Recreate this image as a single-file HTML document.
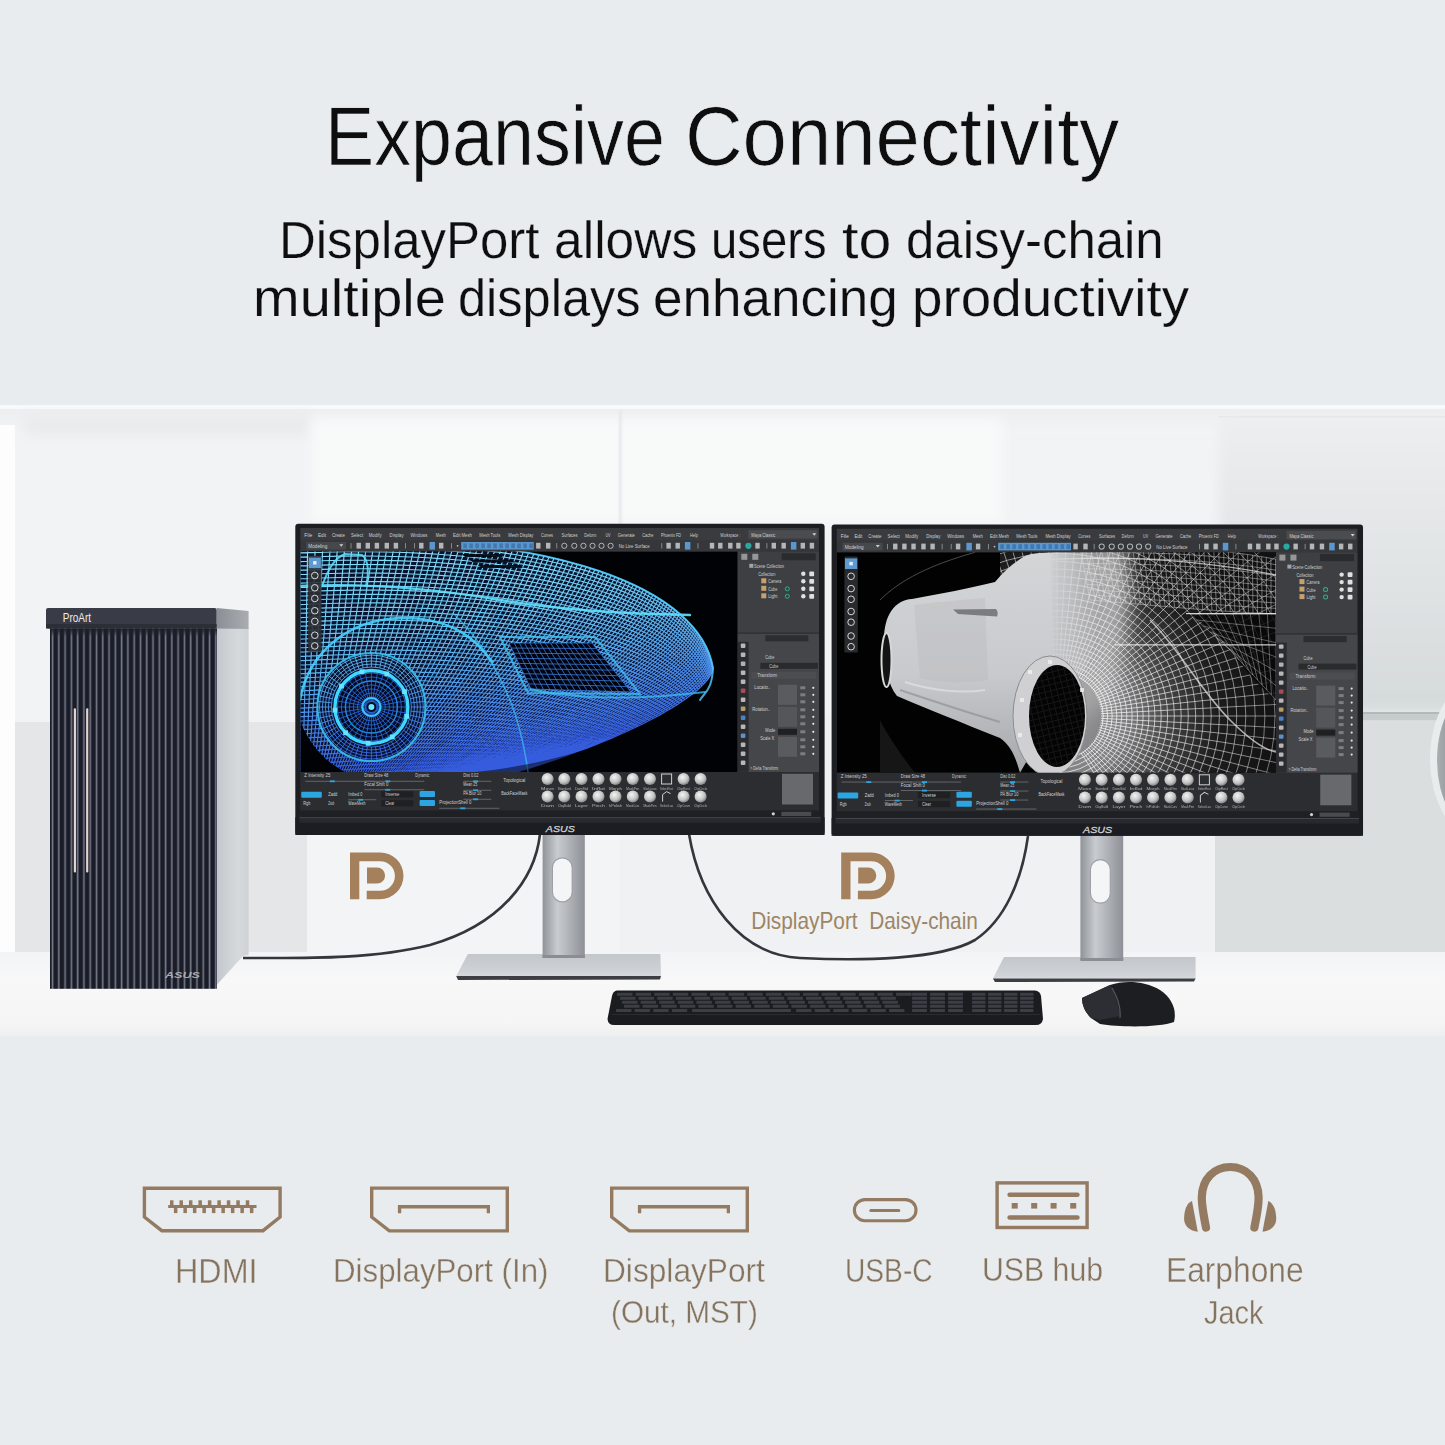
<!DOCTYPE html>
<html><head><meta charset="utf-8">
<style>
html,body{margin:0;padding:0;}
body{width:1445px;height:1445px;background:#e8ecef;position:relative;overflow:hidden;font-family:"Liberation Sans",sans-serif;}
.t{position:absolute;white-space:nowrap;line-height:1;transform-origin:0 0;}
.h{color:#0e0e0f;-webkit-text-stroke:0.25px #e8ecef;paint-order:fill stroke;}
.h1{-webkit-text-stroke:0.7px #e8ecef;}
.lb{color:#85735d;-webkit-text-stroke:0.35px #e8ecef;paint-order:fill stroke;}
.a{position:absolute;}
</style></head><body>

<div class="t h h1" style="left:325.1px;top:93.6px;font-size:84.1px;transform:scaleX(0.876)">Expansive</div>
<div class="t h h1" style="left:684.6px;top:93.6px;font-size:84.1px;transform:scaleX(0.948)">Connectivity</div>
<div class="t h" style="left:279.0px;top:215.3px;font-size:51px;transform:scaleX(0.999)">DisplayPort</div>
<div class="t h" style="left:553.8px;top:215.3px;font-size:51px;transform:scaleX(1.011)">allows</div>
<div class="t h" style="left:711.3px;top:215.3px;font-size:51px;transform:scaleX(0.927)">users</div>
<div class="t h" style="left:841.9px;top:215.3px;font-size:51px;transform:scaleX(1.161)">to</div>
<div class="t h" style="left:906.2px;top:215.3px;font-size:51px;transform:scaleX(0.999)">daisy-chain</div>
<div class="t h" style="left:253.3px;top:272.5px;font-size:51px;transform:scaleX(1.098)">multiple</div>
<div class="t h" style="left:457.8px;top:272.5px;font-size:51px;transform:scaleX(0.991)">displays</div>
<div class="t h" style="left:652.9px;top:272.5px;font-size:51px;transform:scaleX(1.040)">enhancing</div>
<div class="t h" style="left:911.8px;top:272.5px;font-size:51px;transform:scaleX(1.074)">productivity</div>
<svg class="a" style="left:0;top:0" width="1445" height="1445" viewBox="0 0 1445 1445">
<defs>
  <clipPath id="pc"><rect x="0" y="405" width="1445" height="631"/></clipPath>
  <linearGradient id="topband" x1="0" y1="0" x2="0" y2="1">
    <stop offset="0" stop-color="#eceef0"/><stop offset="1" stop-color="#f3f4f5"/>
  </linearGradient>
  <linearGradient id="desk" x1="0" y1="0" x2="0" y2="1">
    <stop offset="0" stop-color="#f3f4f5"/><stop offset="0.35" stop-color="#f8f8f9"/><stop offset="0.85" stop-color="#f5f5f6"/><stop offset="1" stop-color="#eeeff0"/>
  </linearGradient>
  <linearGradient id="neck" x1="0" y1="0" x2="1" y2="0">
    <stop offset="0" stop-color="#8f949a"/><stop offset="0.35" stop-color="#c8cbcf"/><stop offset="0.6" stop-color="#b2b5ba"/><stop offset="1" stop-color="#8d9197"/>
  </linearGradient>
  <linearGradient id="rwall" x1="0" y1="0" x2="0" y2="1">
    <stop offset="0" stop-color="#eceeef"/><stop offset="0.45" stop-color="#e2e5e6"/><stop offset="1" stop-color="#d5dadb"/>
  </linearGradient>
  <linearGradient id="ringin" x1="0" y1="0" x2="1" y2="0">
    <stop offset="0" stop-color="#aab0b1"/><stop offset="0.2" stop-color="#8e9495"/><stop offset="1" stop-color="#6e7475"/>
  </linearGradient>
  <linearGradient id="basetop" x1="0" y1="0" x2="0" y2="1">
    <stop offset="0" stop-color="#c3c7cc"/><stop offset="0.7" stop-color="#cdd0d4"/><stop offset="1" stop-color="#d6d9dc"/>
  </linearGradient>
  <linearGradient id="side" x1="0" y1="0" x2="1" y2="0">
    <stop offset="0" stop-color="#c2c6cb"/><stop offset="0.7" stop-color="#d6d9dc"/><stop offset="1" stop-color="#cfd2d5"/>
  </linearGradient>
  <pattern id="ribs" x="50.2" y="0" width="6.28" height="10" patternUnits="userSpaceOnUse">
    <rect width="6.28" height="10" fill="#1a1c27"/>
    <rect x="1.3" width="2.1" height="10" fill="#4c5060"/>
    <rect x="1.9" width="0.9" height="10" fill="#7a7e8b"/>
  </pattern>
  <linearGradient id="ribshade" x1="0" y1="0" x2="0" y2="1">
    <stop offset="0" stop-color="#1e2029"/><stop offset="1" stop-color="#1e2029" stop-opacity="0"/>
  </linearGradient>
  <linearGradient id="capside" x1="0" y1="0" x2="1" y2="0">
    <stop offset="0" stop-color="#8b8e94"/><stop offset="1" stop-color="#a9acb1"/>
  </linearGradient>
  <pattern id="gA" width="5.2" height="5.2" patternUnits="userSpaceOnUse" patternTransform="rotate(-8)">
    <rect width="5.2" height="1.3" fill="#fff"/><rect width="1.3" height="5.2" fill="#fff"/>
  </pattern>
  <pattern id="gB" width="5" height="5" patternUnits="userSpaceOnUse" patternTransform="rotate(22) skewX(-20)">
    <rect width="5" height="1.3" fill="#fff"/><rect width="1.3" height="5" fill="#fff"/>
  </pattern>
  <pattern id="gC" width="5.5" height="4.5" patternUnits="userSpaceOnUse" patternTransform="rotate(5)">
    <rect width="5.5" height="1" fill="#fff"/><rect width="1" height="4.5" fill="#fff"/>
  </pattern>
  <pattern id="gW" width="4.5" height="4.5" patternUnits="userSpaceOnUse" patternTransform="rotate(30)">
    <rect width="4.5" height="1" fill="#fff"/><rect width="1" height="4.5" fill="#fff"/>
  </pattern>
  <pattern id="gG" width="6" height="6" patternUnits="userSpaceOnUse" patternTransform="rotate(-14)">
    <rect width="6" height="1" fill="#fff"/><rect width="1" height="6" fill="#fff"/>
  </pattern>
  <pattern id="gH" width="4" height="4" patternUnits="userSpaceOnUse" patternTransform="rotate(18)">
    <rect width="4" height="0.8" fill="#fff"/><rect width="0.8" height="4" fill="#fff"/>
  </pattern>
  <mask id="meshG"><rect x="830" y="540" width="460" height="240" fill="url(#gG)"/></mask>
  <mask id="meshH"><rect x="830" y="540" width="460" height="240" fill="url(#gH)"/></mask>
  <radialGradient id="wirerad" cx="1057" cy="716" r="230" gradientUnits="userSpaceOnUse">
    <stop offset="0" stop-color="#9a9a9c"/><stop offset="0.3" stop-color="#7d7d7f"/><stop offset="0.5" stop-color="#404041"/><stop offset="0.7" stop-color="#1c1c1c"/><stop offset="1" stop-color="#111111"/>
  </radialGradient>
  <linearGradient id="bodyfade" x1="1040" y1="0" x2="1110" y2="0" gradientUnits="userSpaceOnUse">
    <stop offset="0" stop-color="#b4b5b7" stop-opacity="1"/><stop offset="1" stop-color="#a0a0a2" stop-opacity="0"/>
  </linearGradient>
  <clipPath id="wireclip"><path d="M1000 552.3 L1276 552.3 L1276 772.8 L1060 772.8 C 1040 730, 1010 680, 1000 640 Z"/></clipPath>
  <radialGradient id="wirelines" cx="1057" cy="716" r="240" gradientUnits="userSpaceOnUse">
    <stop offset="0" stop-color="#ffffff" stop-opacity="0.9"/><stop offset="0.45" stop-color="#f0f0f0" stop-opacity="0.75"/><stop offset="1" stop-color="#d8d8d8" stop-opacity="0.5"/>
  </radialGradient>
  <linearGradient id="bodyfadeG" x1="1050" y1="0" x2="1100" y2="0" gradientUnits="userSpaceOnUse">
    <stop offset="0" stop-color="#fff"/><stop offset="1" stop-color="#000"/>
  </linearGradient>
  <mask id="bodymask"><rect x="830" y="540" width="460" height="240" fill="url(#bodyfadeG)"/></mask>
  <filter id="blur6" filterUnits="userSpaceOnUse" x="0" y="380" width="1445" height="700"><feGaussianBlur stdDeviation="6"/></filter>
  <filter id="blur1" filterUnits="userSpaceOnUse" x="0" y="380" width="1445" height="700"><feGaussianBlur stdDeviation="1"/></filter>
  <filter id="blur8" filterUnits="userSpaceOnUse" x="0" y="380" width="1445" height="700"><feGaussianBlur stdDeviation="9"/></filter>
  <mask id="meshA"><rect x="290" y="540" width="460" height="240" fill="url(#gA)"/></mask>
  <mask id="meshB"><rect x="290" y="540" width="460" height="240" fill="url(#gB)"/></mask>
  <mask id="meshC"><rect x="290" y="540" width="460" height="240" fill="url(#gC)"/></mask>
  <mask id="meshW"><rect x="290" y="540" width="460" height="240" fill="url(#gW)"/></mask>
  <linearGradient id="bluelines" x1="300" y1="560" x2="330" y2="772" gradientUnits="userSpaceOnUse">
    <stop offset="0" stop-color="#8ceaff"/><stop offset="0.3" stop-color="#78d6fa"/><stop offset="0.6" stop-color="#5cb0f4"/><stop offset="0.85" stop-color="#4680ee"/><stop offset="1" stop-color="#3760e6"/>
  </linearGradient>
  <linearGradient id="cyanlines" x1="0" y1="0" x2="0" y2="1">
    <stop offset="0" stop-color="#5ee0ff"/><stop offset="1" stop-color="#48c8f8"/>
  </linearGradient>
  <linearGradient id="bluebody" x1="0" y1="0" x2="0.3" y2="1">
    <stop offset="0" stop-color="#1b86c8"/><stop offset="0.45" stop-color="#1560c0"/><stop offset="1" stop-color="#0d2c9a"/>
  </linearGradient>
  <pattern id="bluegrid" width="6" height="6" patternUnits="userSpaceOnUse" patternTransform="rotate(8)">
    <rect width="6" height="1" fill="#5bd6ff"/><rect width="1" height="6" fill="#5bd6ff"/>
  </pattern>
  <pattern id="wheelgrid" width="5" height="5" patternUnits="userSpaceOnUse">
    <rect width="5" height="1" fill="#2a7fe0"/><rect width="1" height="5" fill="#2a7fe0"/>
  </pattern>
  <pattern id="whitegrid" width="7" height="7" patternUnits="userSpaceOnUse" patternTransform="rotate(-12)">
    <rect width="7" height="1" fill="#f0f0f0"/><rect width="1" height="7" fill="#f0f0f0"/>
  </pattern>
  <linearGradient id="wiregrad" x1="0" y1="0" x2="1" y2="0">
    <stop offset="0" stop-color="#9a9b9d"/><stop offset="0.4" stop-color="#6a6b6d"/><stop offset="1" stop-color="#3a3b3c"/>
  </linearGradient>
  <linearGradient id="graybody" x1="0" y1="0" x2="0" y2="1">
    <stop offset="0" stop-color="#d4d5d7"/><stop offset="0.55" stop-color="#c9cacd"/><stop offset="1" stop-color="#a6a7aa"/>
  </linearGradient>
  <radialGradient id="sph" cx="0.4" cy="0.35" r="0.7">
    <stop offset="0" stop-color="#f4f4f4"/><stop offset="0.6" stop-color="#c4c4c4"/><stop offset="1" stop-color="#7a7a7a"/>
  </radialGradient>
  <g id="chrome"><rect x="0" y="0" width="529.3" height="311.2" rx="3" fill="#1d1e22"/>
<rect x="5.2" y="4.2" width="518.5" height="292" fill="#2e2f32"/>
<rect x="5.2" y="4.2" width="518.5" height="12" fill="#3a3b3e"/>
<rect x="5.2" y="16.2" width="518.5" height="11.5" fill="#36373a"/>
<rect x="442.3" y="27.7" width="81.4" height="220.5" fill="#3e3f42"/>
<rect x="442.3" y="108.7" width="81.4" height="139.5" fill="#45464a"/>
<rect x="442.3" y="118" width="11" height="130" fill="#2b2c2f"/>
<rect x="5.2" y="248.2" width="518.5" height="38.4" fill="#2c2d30"/>
<rect x="5.2" y="286.6" width="518.5" height="6.9" fill="#1f2023"/>
<rect x="0" y="293.5" width="529.3" height="17.7" fill="#1c1d22"/>
<rect x="4" y="293.5" width="521.3" height="1.2" fill="#4a4b50"/>
<rect x="4" y="294.7" width="521.3" height="4.3" fill="#27292e"/>
<text x="250.5" y="308.4" font-family="Liberation Sans" font-style="italic" font-size="8.4" fill="#d2d3d6" textLength="29" lengthAdjust="spacingAndGlyphs" stroke="#d2d3d6" stroke-width="0.25">ASUS</text>
<text x="9" y="13.6" font-family="Liberation Sans" fill="#cfd0d2" font-size="5.6" textLength="8" lengthAdjust="spacingAndGlyphs">File</text>
<text x="22.7" y="13.6" font-family="Liberation Sans" fill="#cfd0d2" font-size="5.6" textLength="8" lengthAdjust="spacingAndGlyphs">Edit</text>
<text x="36.6" y="13.6" font-family="Liberation Sans" fill="#cfd0d2" font-size="5.6" textLength="13" lengthAdjust="spacingAndGlyphs">Create</text>
<text x="55.8" y="13.6" font-family="Liberation Sans" fill="#cfd0d2" font-size="5.6" textLength="12" lengthAdjust="spacingAndGlyphs">Select</text>
<text x="73.4" y="13.6" font-family="Liberation Sans" fill="#cfd0d2" font-size="5.6" textLength="13" lengthAdjust="spacingAndGlyphs">Modify</text>
<text x="94.3" y="13.6" font-family="Liberation Sans" fill="#cfd0d2" font-size="5.6" textLength="14" lengthAdjust="spacingAndGlyphs">Display</text>
<text x="115.1" y="13.6" font-family="Liberation Sans" fill="#cfd0d2" font-size="5.6" textLength="17" lengthAdjust="spacingAndGlyphs">Windows</text>
<text x="140.5" y="13.6" font-family="Liberation Sans" fill="#cfd0d2" font-size="5.6" textLength="10" lengthAdjust="spacingAndGlyphs">Mesh</text>
<text x="157.7" y="13.6" font-family="Liberation Sans" fill="#cfd0d2" font-size="5.6" textLength="19" lengthAdjust="spacingAndGlyphs">Edit Mesh</text>
<text x="184" y="13.6" font-family="Liberation Sans" fill="#cfd0d2" font-size="5.6" textLength="21" lengthAdjust="spacingAndGlyphs">Mesh Tools</text>
<text x="213" y="13.6" font-family="Liberation Sans" fill="#cfd0d2" font-size="5.6" textLength="25" lengthAdjust="spacingAndGlyphs">Mesh Display</text>
<text x="245.7" y="13.6" font-family="Liberation Sans" fill="#cfd0d2" font-size="5.6" textLength="12" lengthAdjust="spacingAndGlyphs">Curves</text>
<text x="266.3" y="13.6" font-family="Liberation Sans" fill="#cfd0d2" font-size="5.6" textLength="16" lengthAdjust="spacingAndGlyphs">Surfaces</text>
<text x="289" y="13.6" font-family="Liberation Sans" fill="#cfd0d2" font-size="5.6" textLength="12" lengthAdjust="spacingAndGlyphs">Deform</text>
<text x="310.2" y="13.6" font-family="Liberation Sans" fill="#cfd0d2" font-size="5.6" textLength="5" lengthAdjust="spacingAndGlyphs">UV</text>
<text x="322.5" y="13.6" font-family="Liberation Sans" fill="#cfd0d2" font-size="5.6" textLength="17" lengthAdjust="spacingAndGlyphs">Generate</text>
<text x="347" y="13.6" font-family="Liberation Sans" fill="#cfd0d2" font-size="5.6" textLength="11" lengthAdjust="spacingAndGlyphs">Cache</text>
<text x="365.7" y="13.6" font-family="Liberation Sans" fill="#cfd0d2" font-size="5.6" textLength="20" lengthAdjust="spacingAndGlyphs">Phoenix FD</text>
<text x="394.7" y="13.6" font-family="Liberation Sans" fill="#cfd0d2" font-size="5.6" textLength="8" lengthAdjust="spacingAndGlyphs">Help</text>
<text x="425" y="13.6" font-family="Liberation Sans" fill="#cfd0d2" font-size="5.6" textLength="20" lengthAdjust="spacingAndGlyphs">Workspace :</text>
<rect x="453.1" y="6.3" width="69" height="8.4" fill="#4b4c4f"/>
<text x="456" y="13" font-family="Liberation Sans" fill="#cfd0d2" font-size="5.4" textLength="24" lengthAdjust="spacingAndGlyphs">Maya Classic</text>
<path d="M517 9.5 L521 9.5 L519 12 Z" fill="#d0d0d0"/>
<rect x="10.9" y="18.2" width="39.8" height="7.6" fill="#47484b"/>
<text x="13" y="24" font-family="Liberation Sans" fill="#cfd0d2" font-size="5.4" textLength="19" lengthAdjust="spacingAndGlyphs">Modeling</text>
<path d="M44 20.5 L48 20.5 L46 23 Z" fill="#d0d0d0"/>
<rect x="61.199999999999996" y="19" width="4.4" height="5.8" fill="#d4d5d7" opacity="0.8"/>
<rect x="70.3" y="19" width="4.4" height="5.8" fill="#d4d5d7" opacity="0.8"/>
<rect x="79.39999999999999" y="19" width="4.4" height="5.8" fill="#d4d5d7" opacity="0.8"/>
<rect x="89.3" y="19" width="4.4" height="5.8" fill="#d4d5d7" opacity="0.8"/>
<rect x="98.39999999999999" y="19" width="4.4" height="5.8" fill="#d4d5d7" opacity="0.8"/>
<rect x="123.8" y="19" width="4.4" height="5.8" fill="#d4d5d7" opacity="0.8"/>
<rect x="143.70000000000002" y="19" width="4.4" height="5.8" fill="#d4d5d7" opacity="0.8"/>
<rect x="240.8" y="19" width="4.4" height="5.8" fill="#d4d5d7" opacity="0.8"/>
<rect x="250.70000000000002" y="19" width="4.4" height="5.8" fill="#d4d5d7" opacity="0.8"/>
<rect x="371.1" y="19" width="4.4" height="5.8" fill="#d4d5d7" opacity="0.8"/>
<rect x="380.2" y="19" width="4.4" height="5.8" fill="#d4d5d7" opacity="0.8"/>
<rect x="414.5" y="19" width="4.4" height="5.8" fill="#d4d5d7" opacity="0.8"/>
<rect x="422.8" y="19" width="4.4" height="5.8" fill="#d4d5d7" opacity="0.8"/>
<rect x="432.8" y="19" width="4.4" height="5.8" fill="#d4d5d7" opacity="0.8"/>
<rect x="440.90000000000003" y="19" width="4.4" height="5.8" fill="#d4d5d7" opacity="0.8"/>
<rect x="460.0" y="19" width="4.4" height="5.8" fill="#d4d5d7" opacity="0.8"/>
<rect x="476.3" y="19" width="4.4" height="5.8" fill="#d4d5d7" opacity="0.8"/>
<rect x="486.2" y="19" width="4.4" height="5.8" fill="#d4d5d7" opacity="0.8"/>
<rect x="505.3" y="19" width="4.4" height="5.8" fill="#d4d5d7" opacity="0.8"/>
<rect x="514.4" y="19" width="4.4" height="5.8" fill="#d4d5d7" opacity="0.8"/>
<rect x="55.3" y="19.3" width="0.8" height="5.4" fill="#9a9b9d"/>
<rect x="109.7" y="19.3" width="0.8" height="5.4" fill="#9a9b9d"/>
<rect x="118.7" y="19.3" width="0.8" height="5.4" fill="#9a9b9d"/>
<rect x="155.9" y="19.3" width="0.8" height="5.4" fill="#9a9b9d"/>
<rect x="261.1" y="19.3" width="0.8" height="5.4" fill="#9a9b9d"/>
<rect x="366.1" y="19.3" width="0.8" height="5.4" fill="#9a9b9d"/>
<rect x="402.3" y="19.3" width="0.8" height="5.4" fill="#9a9b9d"/>
<rect x="471.2" y="19.3" width="0.8" height="5.4" fill="#9a9b9d"/>
<circle cx="269" cy="22" r="2.6" fill="none" stroke="#d0d1d3" stroke-width="1" opacity="0.8"/>
<circle cx="279" cy="22" r="2.6" fill="none" stroke="#d0d1d3" stroke-width="1" opacity="0.8"/>
<circle cx="288.1" cy="22" r="2.6" fill="none" stroke="#d0d1d3" stroke-width="1" opacity="0.8"/>
<circle cx="297.2" cy="22" r="2.6" fill="none" stroke="#d0d1d3" stroke-width="1" opacity="0.8"/>
<circle cx="306.2" cy="22" r="2.6" fill="none" stroke="#d0d1d3" stroke-width="1" opacity="0.8"/>
<circle cx="315.3" cy="22" r="2.6" fill="none" stroke="#d0d1d3" stroke-width="1" opacity="0.8"/>
<text x="323.4" y="24" font-family="Liberation Sans" fill="#cfd0d2" font-size="4.8" textLength="31" lengthAdjust="spacingAndGlyphs">No Live Surface</text>
<rect x="165.9" y="18.2" width="72.5" height="7.6" fill="#5b97cf"/>
<rect x="168" y="19.6" width="3.6" height="4.8" fill="#2f5f96" opacity="0.55"/>
<rect x="174" y="19.6" width="3.6" height="4.8" fill="#2f5f96" opacity="0.55"/>
<rect x="180" y="19.6" width="3.6" height="4.8" fill="#2f5f96" opacity="0.55"/>
<rect x="186" y="19.6" width="3.6" height="4.8" fill="#2f5f96" opacity="0.55"/>
<rect x="192" y="19.6" width="3.6" height="4.8" fill="#2f5f96" opacity="0.55"/>
<rect x="198" y="19.6" width="3.6" height="4.8" fill="#2f5f96" opacity="0.55"/>
<rect x="204" y="19.6" width="3.6" height="4.8" fill="#2f5f96" opacity="0.55"/>
<rect x="210" y="19.6" width="3.6" height="4.8" fill="#2f5f96" opacity="0.55"/>
<rect x="216" y="19.6" width="3.6" height="4.8" fill="#2f5f96" opacity="0.55"/>
<rect x="222" y="19.6" width="3.6" height="4.8" fill="#2f5f96" opacity="0.55"/>
<rect x="228" y="19.6" width="3.6" height="4.8" fill="#2f5f96" opacity="0.55"/>
<rect x="234" y="19.6" width="3.6" height="4.8" fill="#2f5f96" opacity="0.55"/>
<rect x="134.2" y="18.2" width="5.5" height="7.6" fill="#5b97cf"/>
<rect x="389.6" y="18.2" width="5.5" height="7.6" fill="#5b97cf"/>
<rect x="495.6" y="18.2" width="5.5" height="7.6" fill="#5b97cf"/>
<circle cx="162.3" cy="22" r="0.9" fill="#c0c0c0"/>
<circle cx="453.1" cy="22" r="3.1" fill="#2aa7a0"/>
<rect x="486.4" y="29.5" width="34" height="7" fill="#2a2b2d"/>
<rect x="446" y="30" width="6" height="6" fill="#bdbdbd" opacity="0.7"/>
<rect x="457" y="30" width="6" height="6" fill="#bdbdbd" opacity="0.7"/>
<text x="458.7" y="44" font-family="Liberation Sans" fill="#cfd0d2" font-size="5" textLength="30" lengthAdjust="spacingAndGlyphs">Scene Collection</text>
<text x="463" y="52" font-family="Liberation Sans" fill="#cfd0d2" font-size="5" textLength="17" lengthAdjust="spacingAndGlyphs">Collection</text>
<text x="473" y="59.5" font-family="Liberation Sans" fill="#cfd0d2" font-size="5" textLength="13" lengthAdjust="spacingAndGlyphs">Camera</text>
<text x="473" y="67" font-family="Liberation Sans" fill="#cfd0d2" font-size="5" textLength="9" lengthAdjust="spacingAndGlyphs">Cube</text>
<text x="473" y="74.5" font-family="Liberation Sans" fill="#cfd0d2" font-size="5" textLength="9" lengthAdjust="spacingAndGlyphs">Light</text>
<rect x="466" y="54.5" width="5" height="5" fill="#c8a070"/>
<rect x="466" y="62" width="5" height="5" fill="#c8a070"/>
<rect x="466" y="69.5" width="5" height="5" fill="#c8a070"/>
<circle cx="508" cy="50" r="2.2" fill="#e0e0e0"/>
<rect x="514" y="47.6" width="4.8" height="4.8" rx="1" fill="#e0e0e0"/>
<circle cx="508" cy="57.5" r="2.2" fill="#e0e0e0"/>
<rect x="514" y="55.1" width="4.8" height="4.8" rx="1" fill="#e0e0e0"/>
<circle cx="508" cy="65" r="2.2" fill="#e0e0e0"/>
<rect x="514" y="62.6" width="4.8" height="4.8" rx="1" fill="#e0e0e0"/>
<circle cx="508" cy="72.5" r="2.2" fill="#e0e0e0"/>
<rect x="514" y="70.1" width="4.8" height="4.8" rx="1" fill="#e0e0e0"/>
<rect x="454" y="40" width="4" height="4" fill="#d0d0d0" opacity="0.7"/>
<circle cx="492" cy="65" r="2" fill="none" stroke="#2fb08a" stroke-width="1"/>
<circle cx="492" cy="72.5" r="2" fill="none" stroke="#2fb08a" stroke-width="1"/>
<rect x="442.3" y="108.7" width="81.4" height="1.2" fill="#2a2b2e"/>
<rect x="470" y="111.5" width="43" height="6" fill="#2c2d30"/>
<rect x="465" y="139" width="57.7" height="6" fill="#2a2b2d"/>
<text x="470" y="135" font-family="Liberation Sans" fill="#cfd0d2" font-size="5" textLength="9" lengthAdjust="spacingAndGlyphs">Cube</text>
<text x="474" y="144" font-family="Liberation Sans" fill="#cfd0d2" font-size="5" textLength="9" lengthAdjust="spacingAndGlyphs">Cube</text>
<rect x="456" y="148" width="65" height="7" fill="#4c4d51"/>
<text x="462" y="153.5" font-family="Liberation Sans" fill="#cfd0d2" font-size="5" textLength="20" lengthAdjust="spacingAndGlyphs">Transform</text>
<rect x="482.7" y="161" width="19" height="20" fill="#5a5b5f"/>
<rect x="482.7" y="183" width="19" height="20" fill="#55565a"/>
<rect x="482.7" y="205" width="19" height="6" fill="#1f2022"/>
<rect x="482.7" y="213" width="19" height="20" fill="#5a5b5f"/>
<circle cx="518" cy="164" r="1.1" fill="#e6e6e6"/>
<rect x="505" y="162.5" width="5" height="3" fill="#8a8b8e" opacity="0.8"/>
<circle cx="518" cy="171" r="1.1" fill="#e6e6e6"/>
<rect x="505" y="169.5" width="5" height="3" fill="#8a8b8e" opacity="0.8"/>
<circle cx="518" cy="178" r="1.1" fill="#e6e6e6"/>
<rect x="505" y="176.5" width="5" height="3" fill="#8a8b8e" opacity="0.8"/>
<circle cx="518" cy="186" r="1.1" fill="#e6e6e6"/>
<rect x="505" y="184.5" width="5" height="3" fill="#8a8b8e" opacity="0.8"/>
<circle cx="518" cy="193" r="1.1" fill="#e6e6e6"/>
<rect x="505" y="191.5" width="5" height="3" fill="#8a8b8e" opacity="0.8"/>
<circle cx="518" cy="200" r="1.1" fill="#e6e6e6"/>
<rect x="505" y="198.5" width="5" height="3" fill="#8a8b8e" opacity="0.8"/>
<circle cx="518" cy="208" r="1.1" fill="#e6e6e6"/>
<rect x="505" y="206.5" width="5" height="3" fill="#8a8b8e" opacity="0.8"/>
<circle cx="518" cy="216" r="1.1" fill="#e6e6e6"/>
<rect x="505" y="214.5" width="5" height="3" fill="#8a8b8e" opacity="0.8"/>
<circle cx="518" cy="223" r="1.1" fill="#e6e6e6"/>
<rect x="505" y="221.5" width="5" height="3" fill="#8a8b8e" opacity="0.8"/>
<circle cx="518" cy="230" r="1.1" fill="#e6e6e6"/>
<rect x="505" y="228.5" width="5" height="3" fill="#8a8b8e" opacity="0.8"/>
<text x="459" y="165" font-family="Liberation Sans" fill="#cfd0d2" font-size="4.6" textLength="16" lengthAdjust="spacingAndGlyphs">Locatio..</text>
<text x="457" y="187" font-family="Liberation Sans" fill="#cfd0d2" font-size="4.6" textLength="18" lengthAdjust="spacingAndGlyphs">Rotation..</text>
<text x="470" y="208.5" font-family="Liberation Sans" fill="#cfd0d2" font-size="4.6" textLength="10" lengthAdjust="spacingAndGlyphs">Mode</text>
<text x="465" y="216.5" font-family="Liberation Sans" fill="#cfd0d2" font-size="4.6" textLength="14" lengthAdjust="spacingAndGlyphs">Scale X</text>
<text x="455" y="246" font-family="Liberation Sans" fill="#cfd0d2" font-size="4.6" textLength="28" lengthAdjust="spacingAndGlyphs">&gt; Delta Transform</text>
<rect x="445.5" y="119.8" width="4.6" height="4.4" rx="1" fill="#d0d0d0" opacity="0.85"/>
<rect x="445.5" y="128.8" width="4.6" height="4.4" rx="1" fill="#d0d0d0" opacity="0.85"/>
<rect x="445.5" y="137.8" width="4.6" height="4.4" rx="1" fill="#c9c9c9" opacity="0.85"/>
<rect x="445.5" y="146.8" width="4.6" height="4.4" rx="1" fill="#d0d0d0" opacity="0.85"/>
<rect x="445.5" y="155.8" width="4.6" height="4.4" rx="1" fill="#d0d0d0" opacity="0.85"/>
<rect x="445.5" y="164.8" width="4.6" height="4.4" rx="1" fill="#c05060" opacity="0.85"/>
<rect x="445.5" y="173.8" width="4.6" height="4.4" rx="1" fill="#d0d0d0" opacity="0.85"/>
<rect x="445.5" y="182.8" width="4.6" height="4.4" rx="1" fill="#d0b070" opacity="0.85"/>
<rect x="445.5" y="191.8" width="4.6" height="4.4" rx="1" fill="#5090e0" opacity="0.85"/>
<rect x="445.5" y="200.8" width="4.6" height="4.4" rx="1" fill="#d0d0d0" opacity="0.85"/>
<rect x="445.5" y="209.8" width="4.6" height="4.4" rx="1" fill="#6aa0e0" opacity="0.85"/>
<rect x="445.5" y="218.8" width="4.6" height="4.4" rx="1" fill="#d0d0d0" opacity="0.85"/>
<rect x="445.5" y="227.8" width="4.6" height="4.4" rx="1" fill="#d0d0d0" opacity="0.85"/>
<rect x="445.5" y="236.8" width="4.6" height="4.4" rx="1" fill="#d0d0d0" opacity="0.85"/>
<rect x="486.7" y="250" width="31" height="30.7" fill="#68696c"/>
<circle cx="252.3" cy="255.2" r="6" fill="url(#sph)"/>
<text x="252.3" y="265.8" font-family="Liberation Sans" fill="#cfd0d2" font-size="3.6" text-anchor="middle" textLength="13" lengthAdjust="spacingAndGlyphs" opacity="0.8">Move</text>
<circle cx="269" cy="255.2" r="6" fill="url(#sph)"/>
<text x="269" y="265.8" font-family="Liberation Sans" fill="#cfd0d2" font-size="3.6" text-anchor="middle" textLength="13" lengthAdjust="spacingAndGlyphs" opacity="0.8">Standard</text>
<circle cx="286.2" cy="255.2" r="6" fill="url(#sph)"/>
<text x="286.2" y="265.8" font-family="Liberation Sans" fill="#cfd0d2" font-size="3.6" text-anchor="middle" textLength="13" lengthAdjust="spacingAndGlyphs" opacity="0.8">DamStd</text>
<circle cx="303.2" cy="255.2" r="6" fill="url(#sph)"/>
<text x="303.2" y="265.8" font-family="Liberation Sans" fill="#cfd0d2" font-size="3.6" text-anchor="middle" textLength="13" lengthAdjust="spacingAndGlyphs" opacity="0.8">Inflat</text>
<circle cx="320.2" cy="255.2" r="6" fill="url(#sph)"/>
<text x="320.2" y="265.8" font-family="Liberation Sans" fill="#cfd0d2" font-size="3.6" text-anchor="middle" textLength="13" lengthAdjust="spacingAndGlyphs" opacity="0.8">Morph</text>
<circle cx="337.5" cy="255.2" r="6" fill="url(#sph)"/>
<text x="337.5" y="265.8" font-family="Liberation Sans" fill="#cfd0d2" font-size="3.6" text-anchor="middle" textLength="13" lengthAdjust="spacingAndGlyphs" opacity="0.8">MaskPen</text>
<circle cx="354.7" cy="255.2" r="6" fill="url(#sph)"/>
<text x="354.7" y="265.8" font-family="Liberation Sans" fill="#cfd0d2" font-size="3.6" text-anchor="middle" textLength="13" lengthAdjust="spacingAndGlyphs" opacity="0.8">MaskLasso</text>
<rect x="366.3" y="250.2" width="10" height="10" fill="none" stroke="#cfcfcf" stroke-width="1"/>
<text x="371.3" y="265.8" font-family="Liberation Sans" fill="#cfd0d2" font-size="3.6" text-anchor="middle" textLength="13" lengthAdjust="spacingAndGlyphs" opacity="0.8">SelectRect</text>
<circle cx="388.3" cy="255.2" r="6" fill="url(#sph)"/>
<text x="388.3" y="265.8" font-family="Liberation Sans" fill="#cfd0d2" font-size="3.6" text-anchor="middle" textLength="13" lengthAdjust="spacingAndGlyphs" opacity="0.8">ClipRect</text>
<circle cx="405.3" cy="255.2" r="6" fill="url(#sph)"/>
<text x="405.3" y="265.8" font-family="Liberation Sans" fill="#cfd0d2" font-size="3.6" text-anchor="middle" textLength="13" lengthAdjust="spacingAndGlyphs" opacity="0.8">ClipCircle</text>
<circle cx="252.3" cy="272.8" r="6" fill="url(#sph)"/>
<text x="252.3" y="283.40000000000003" font-family="Liberation Sans" fill="#cfd0d2" font-size="3.6" text-anchor="middle" textLength="13" lengthAdjust="spacingAndGlyphs" opacity="0.8">Dam</text>
<circle cx="269" cy="272.8" r="6" fill="url(#sph)"/>
<text x="269" y="283.40000000000003" font-family="Liberation Sans" fill="#cfd0d2" font-size="3.6" text-anchor="middle" textLength="13" lengthAdjust="spacingAndGlyphs" opacity="0.8">ClayBuild</text>
<circle cx="286.2" cy="272.8" r="6" fill="url(#sph)"/>
<text x="286.2" y="283.40000000000003" font-family="Liberation Sans" fill="#cfd0d2" font-size="3.6" text-anchor="middle" textLength="13" lengthAdjust="spacingAndGlyphs" opacity="0.8">Layer</text>
<circle cx="303.2" cy="272.8" r="6" fill="url(#sph)"/>
<text x="303.2" y="283.40000000000003" font-family="Liberation Sans" fill="#cfd0d2" font-size="3.6" text-anchor="middle" textLength="13" lengthAdjust="spacingAndGlyphs" opacity="0.8">Pinch</text>
<circle cx="320.2" cy="272.8" r="6" fill="url(#sph)"/>
<text x="320.2" y="283.40000000000003" font-family="Liberation Sans" fill="#cfd0d2" font-size="3.6" text-anchor="middle" textLength="13" lengthAdjust="spacingAndGlyphs" opacity="0.8">hPolish</text>
<circle cx="337.5" cy="272.8" r="6" fill="url(#sph)"/>
<text x="337.5" y="283.40000000000003" font-family="Liberation Sans" fill="#cfd0d2" font-size="3.6" text-anchor="middle" textLength="13" lengthAdjust="spacingAndGlyphs" opacity="0.8">MaskCurv</text>
<circle cx="354.7" cy="272.8" r="6" fill="url(#sph)"/>
<text x="354.7" y="283.40000000000003" font-family="Liberation Sans" fill="#cfd0d2" font-size="3.6" text-anchor="middle" textLength="13" lengthAdjust="spacingAndGlyphs" opacity="0.8">MaskPen</text>
<path d="M367.3 277.8 V270.8 L371.3 267.8 L375.3 269.8" fill="none" stroke="#cfcfcf" stroke-width="1"/>
<text x="371.3" y="283.40000000000003" font-family="Liberation Sans" fill="#cfd0d2" font-size="3.6" text-anchor="middle" textLength="13" lengthAdjust="spacingAndGlyphs" opacity="0.8">SelectLas</text>
<circle cx="388.3" cy="272.8" r="6" fill="url(#sph)"/>
<text x="388.3" y="283.40000000000003" font-family="Liberation Sans" fill="#cfd0d2" font-size="3.6" text-anchor="middle" textLength="13" lengthAdjust="spacingAndGlyphs" opacity="0.8">ClipCurve</text>
<circle cx="405.3" cy="272.8" r="6" fill="url(#sph)"/>
<text x="405.3" y="283.40000000000003" font-family="Liberation Sans" fill="#cfd0d2" font-size="3.6" text-anchor="middle" textLength="13" lengthAdjust="spacingAndGlyphs" opacity="0.8">ClipCircle</text>
<rect x="6" y="268" width="20.5" height="6" rx="1" fill="#2ba6e2"/>
<rect x="124.3" y="267.2" width="15.4" height="6" rx="1" fill="#2ba6e2"/>
<rect x="124.3" y="276.2" width="15.4" height="6" rx="1" fill="#2ba6e2"/>
<rect x="86" y="267.5" width="32" height="6" fill="#1f2022"/>
<rect x="86" y="276.5" width="32" height="6" fill="#1f2022"/>
<text x="9" y="253.5" font-family="Liberation Sans" fill="#cfd0d2" font-size="4.6" textLength="26" lengthAdjust="spacingAndGlyphs">Z Intensity 25</text>
<text x="69" y="253.5" font-family="Liberation Sans" fill="#cfd0d2" font-size="4.6" textLength="24" lengthAdjust="spacingAndGlyphs">Draw Size 48</text>
<text x="120" y="253" font-family="Liberation Sans" fill="#cfd0d2" font-size="4.6" textLength="14" lengthAdjust="spacingAndGlyphs">Dynamic</text>
<text x="69" y="262" font-family="Liberation Sans" fill="#cfd0d2" font-size="4.6" textLength="24" lengthAdjust="spacingAndGlyphs">Focal Shift 0</text>
<text x="33" y="272.5" font-family="Liberation Sans" fill="#cfd0d2" font-size="4.6" textLength="9" lengthAdjust="spacingAndGlyphs">Zadd</text>
<text x="33" y="281" font-family="Liberation Sans" fill="#cfd0d2" font-size="4.6" textLength="6" lengthAdjust="spacingAndGlyphs">Zsub</text>
<text x="8" y="281" font-family="Liberation Sans" fill="#cfd0d2" font-size="4.6" textLength="7" lengthAdjust="spacingAndGlyphs">Rgb</text>
<text x="53" y="272" font-family="Liberation Sans" fill="#cfd0d2" font-size="4.6" textLength="14" lengthAdjust="spacingAndGlyphs">Imbed 0</text>
<text x="53" y="281" font-family="Liberation Sans" fill="#cfd0d2" font-size="4.6" textLength="17" lengthAdjust="spacingAndGlyphs">WaveMesh</text>
<text x="90" y="272.5" font-family="Liberation Sans" fill="#cfd0d2" font-size="4.6" textLength="14" lengthAdjust="spacingAndGlyphs">Inverse</text>
<text x="90" y="281" font-family="Liberation Sans" fill="#cfd0d2" font-size="4.6" textLength="9" lengthAdjust="spacingAndGlyphs">Clear</text>
<text x="168" y="253.5" font-family="Liberation Sans" fill="#cfd0d2" font-size="4.6" textLength="15" lengthAdjust="spacingAndGlyphs">Dist 0.02</text>
<text x="168" y="262" font-family="Liberation Sans" fill="#cfd0d2" font-size="4.6" textLength="14" lengthAdjust="spacingAndGlyphs">Mean 25</text>
<text x="168" y="271.5" font-family="Liberation Sans" fill="#cfd0d2" font-size="4.6" textLength="18" lengthAdjust="spacingAndGlyphs">PA Blur 10</text>
<text x="144" y="280.5" font-family="Liberation Sans" fill="#cfd0d2" font-size="4.6" textLength="32" lengthAdjust="spacingAndGlyphs">ProjectionShell 0</text>
<text x="208" y="258" font-family="Liberation Sans" fill="#cfd0d2" font-size="4.6" textLength="22" lengthAdjust="spacingAndGlyphs">Topological</text>
<text x="206" y="271.5" font-family="Liberation Sans" fill="#cfd0d2" font-size="4.6" textLength="26" lengthAdjust="spacingAndGlyphs">BackFaceMask</text>
<rect x="10" y="257" width="70" height="0.9" fill="#6a6b6e"/>
<rect x="34.5" y="256.6" width="5" height="1.8" fill="#2ba6e2"/>
<rect x="69" y="257" width="60" height="0.9" fill="#6a6b6e"/>
<rect x="90.0" y="256.6" width="5" height="1.8" fill="#2ba6e2"/>
<rect x="69" y="265.5" width="60" height="0.9" fill="#6a6b6e"/>
<rect x="90.0" y="265.1" width="5" height="1.8" fill="#2ba6e2"/>
<rect x="53" y="275.5" width="28" height="0.9" fill="#6a6b6e"/>
<rect x="62.8" y="275.1" width="5" height="1.8" fill="#2ba6e2"/>
<rect x="168" y="257" width="28" height="0.9" fill="#6a6b6e"/>
<rect x="177.8" y="256.6" width="5" height="1.8" fill="#2ba6e2"/>
<rect x="168" y="266" width="28" height="0.9" fill="#6a6b6e"/>
<rect x="177.8" y="265.6" width="5" height="1.8" fill="#2ba6e2"/>
<rect x="168" y="275" width="28" height="0.9" fill="#6a6b6e"/>
<rect x="177.8" y="274.6" width="5" height="1.8" fill="#2ba6e2"/>
<rect x="144" y="284" width="60" height="0.9" fill="#6a6b6e"/>
<rect x="165.0" y="283.6" width="5" height="1.8" fill="#2ba6e2"/>
<rect x="486" y="288" width="30" height="4.2" fill="#4a4b4e"/>
<circle cx="478" cy="290" r="1.6" fill="#d0d0d0"/></g>
  <g id="tools"><rect x="12.8" y="32" width="13.4" height="96" rx="1" fill="#2e2f33" opacity="0.9"/>
<rect x="13.4" y="33.8" width="12.2" height="10.6" fill="#5e9ad2"/>
<rect x="17.8" y="37.3" width="3.4" height="3.4" fill="#e8f0ff"/>
<circle cx="19.5" cy="51.7" r="3.3" fill="none" stroke="#d8d8d8" stroke-width="1"/>
<circle cx="19.5" cy="64" r="3.3" fill="none" stroke="#d8d8d8" stroke-width="1"/>
<circle cx="19.5" cy="74.7" r="3.3" fill="none" stroke="#d8d8d8" stroke-width="1"/>
<circle cx="19.5" cy="86.9" r="3.3" fill="none" stroke="#d8d8d8" stroke-width="1"/>
<circle cx="19.5" cy="97.6" r="3.3" fill="none" stroke="#d8d8d8" stroke-width="1"/>
<circle cx="19.5" cy="111.4" r="3.3" fill="none" stroke="#d8d8d8" stroke-width="1"/>
<circle cx="19.5" cy="122.1" r="3.3" fill="none" stroke="#d8d8d8" stroke-width="1"/></g>
</defs>
<g clip-path="url(#pc)">

  <rect x="0" y="405" width="1445" height="631" fill="#f2f3f4"/>
  <rect x="0" y="405" width="1445" height="4" fill="#f8f9fa"/>
  <rect x="0" y="409" width="1445" height="26" fill="url(#topband)"/>
  <rect x="0" y="425" width="15" height="611" fill="#fdfdfd"/>
  <rect x="24" y="414" width="286" height="22" fill="#eaebed" filter="url(#blur6)"/>
  <rect x="312" y="418" width="690" height="105" fill="#f8f9f9" filter="url(#blur6)"/>
  <rect x="619" y="410" width="2.5" height="120" fill="#e4e6e8" filter="url(#blur1)"/>
  <rect x="1219" y="416" width="226" height="1.5" fill="#e2e4e6"/>
  <rect x="15" y="722" width="292" height="232" fill="#e4e6e8"/>
  <rect x="307" y="715" width="313" height="240" fill="#f3f4f5"/>
  <rect x="620" y="715" width="595" height="240" fill="#f0f1f2"/>
  <rect x="1215" y="713" width="230" height="242" fill="#dadedf"/>
  <rect x="0" y="952" width="1445" height="84" fill="url(#desk)"/>
  <rect x="1219" y="418" width="240" height="295" fill="url(#rwall)" filter="url(#blur6)"/>
  <rect x="1363" y="712" width="82" height="2.2" fill="#b3b8b9"/>
  <rect x="1363" y="714.2" width="82" height="6" fill="#c6cbcc"/>
  <ellipse cx="1476" cy="759" rx="46" ry="77" fill="#e8ecec"/>
  <ellipse cx="1479" cy="760" rx="42" ry="72" fill="url(#ringin)"/>


  <polygon points="216.6,628 248.6,628 248.6,955 243,956 214,988 216.6,988" fill="url(#side)"/>
  <polygon points="216.6,608 248.6,611 248.6,629 216.6,628.5" fill="url(#capside)"/>
  <rect x="46" y="608" width="170.6" height="20.5" rx="2" fill="#393c46"/>
  <rect x="46" y="624" width="170.6" height="4.5" fill="#2c2f38"/>
  <rect x="50" y="628.5" width="167" height="360.3" fill="url(#ribs)"/>
  <rect x="50" y="628.5" width="167" height="8" fill="url(#ribshade)"/>
  <rect x="73.8" y="708.2" width="2.2" height="164.2" rx="1" fill="#e3d3ce"/>
  <rect x="86.1" y="708.2" width="2.2" height="164.2" rx="1" fill="#e3d3ce"/>
  <text x="62.8" y="622.4" font-family="Liberation Sans" font-size="12.5" fill="#f1e9e2" textLength="28.2" lengthAdjust="spacingAndGlyphs">ProArt</text>
  <text x="165" y="978" font-family="Liberation Sans" font-weight="bold" font-size="9" font-style="italic" fill="#a9acb2" textLength="35" lengthAdjust="spacingAndGlyphs">ASUS</text>


  <path d="M540 834 C 535 880, 500 925, 430 945 C 370 960, 300 958, 243 958" fill="none" stroke="#34363b" stroke-width="2.6"/>
  <path d="M689 834 C 700 900, 740 955, 800 958 C 860 961, 940 960, 975 940 C 1005 920, 1022 880, 1028 836" fill="none" stroke="#34363b" stroke-width="2.6"/>


  <polygon points="467.9,954 660.4,954 661,976 456.2,976" fill="url(#basetop)"/>
  <polygon points="456.2,976 661,976 660,979.5 458,980" fill="#3c3e43"/>
  <rect x="542.6" y="830" width="42.2" height="128" fill="url(#neck)"/>
  <rect x="542.6" y="955" width="42.2" height="3" fill="#8a8e94"/>
  <rect x="552.4" y="857.8" width="19.8" height="44.1" rx="9.9" fill="#f4f5f6" stroke="#9da1a7" stroke-width="1.2"/>
  <polygon points="1004,957 1195.6,957 1195.6,978.5 992.9,978.5" fill="url(#basetop)"/>
  <polygon points="992.9,978.5 1195.6,978.5 1194,981.5 995,982" fill="#3c3e43"/>
  <rect x="1080.4" y="830" width="42.8" height="130" fill="url(#neck)"/>
  <rect x="1080.4" y="958" width="42.8" height="3" fill="#8a8e94"/>
  <rect x="1090.4" y="859.7" width="19.9" height="43.5" rx="9.9" fill="#f4f5f6" stroke="#9da1a7" stroke-width="1.2"/>

<g transform="translate(295.3,523.8)"><use href="#chrome"/></g>
<g transform="translate(831.6,524.6) scale(1.004,1.0)"><use href="#chrome"/></g>
<clipPath id="vp1"><rect x="300.5" y="551.5" width="437.1" height="220.5"/></clipPath>
<clipPath id="vp2"><rect x="837" y="552.3" width="439" height="220.5"/></clipPath>
<g clip-path="url(#vp1)"><rect x="300.5" y="551.5" width="437.1" height="220.5" fill="#010205"/>
<path d="M300 540 C 560 530, 700 590, 713 668 C 712 690, 640 735, 517 772 L 300 790 Z" fill="#061330"/>
<path d="M300.0 540.0 L300.0 547.4 L300.0 554.7 L300.0 562.1 L300.0 569.4 L300.0 576.8 L300.0 584.1 L300.0 591.5 L300.0 598.8 L300.0 606.2 L300.0 613.5 L300.0 620.9 L300.0 628.2 L300.0 635.6 L300.0 642.9 L300.0 650.3 L300.0 657.6 L300.0 665.0 L300.0 672.4 L300.0 679.7 L300.0 687.1 L300.0 694.4 L300.0 701.8 L300.0 709.1 L300.0 716.5 L300.0 723.8 L300.0 731.2 L300.0 738.5 L300.0 745.9 L300.0 753.2 L300.0 760.6 L300.0 767.9 L300.0 775.3 L300.0 782.6 L300.0 790.0 M307.8 539.7 L307.7 547.1 L307.5 554.4 L307.4 561.8 L307.3 569.1 L307.2 576.5 L307.1 583.8 L306.9 591.2 L306.8 598.5 L306.6 605.9 L306.5 613.2 L306.4 620.6 L306.2 627.9 L306.1 635.3 L305.9 642.6 L305.8 650.0 L305.6 657.4 L305.4 664.7 L305.3 672.1 L305.1 679.4 L304.9 686.8 L304.7 694.1 L304.6 701.5 L304.4 708.9 L304.2 716.2 L304.0 723.6 L303.8 730.9 L303.6 738.3 L303.4 745.7 L303.2 753.0 L303.0 760.4 L302.8 767.7 L302.6 775.1 L302.4 782.5 L302.2 789.8 M315.5 539.5 L315.2 546.8 L315.0 554.2 L314.8 561.5 L314.5 568.8 L314.3 576.2 L314.0 583.5 L313.8 590.9 L313.5 598.2 L313.2 605.6 L313.0 612.9 L312.7 620.3 L312.4 627.7 L312.1 635.0 L311.8 642.4 L311.5 649.7 L311.1 657.1 L310.8 664.4 L310.5 671.8 L310.1 679.2 L309.8 686.5 L309.4 693.9 L309.1 701.3 L308.7 708.6 L308.4 716.0 L308.0 723.4 L307.6 730.7 L307.2 738.1 L306.8 745.5 L306.4 752.8 L306.0 760.2 L305.6 767.6 L305.2 774.9 L304.8 782.3 L304.3 789.6 M323.1 539.3 L322.8 546.6 L322.4 553.9 L322.1 561.3 L321.7 568.6 L321.4 576.0 L321.0 583.3 L320.6 590.6 L320.2 598.0 L319.8 605.3 L319.4 612.7 L318.9 620.0 L318.5 627.4 L318.1 634.8 L317.6 642.1 L317.1 649.5 L316.7 656.8 L316.2 664.2 L315.7 671.6 L315.2 678.9 L314.6 686.3 L314.1 693.7 L313.6 701.0 L313.0 708.4 L312.5 715.8 L311.9 723.1 L311.4 730.5 L310.8 737.9 L310.2 745.3 L309.6 752.6 L309.0 760.0 L308.4 767.4 L307.8 774.7 L307.1 782.1 L306.5 789.5 M330.6 539.1 L330.2 546.4 L329.8 553.8 L329.3 561.1 L328.8 568.4 L328.4 575.8 L327.9 583.1 L327.3 590.4 L326.8 597.8 L326.3 605.1 L325.7 612.5 L325.2 619.8 L324.6 627.2 L324.0 634.5 L323.4 641.9 L322.8 649.3 L322.1 656.6 L321.5 664.0 L320.8 671.3 L320.2 678.7 L319.5 686.1 L318.8 693.5 L318.1 700.8 L317.4 708.2 L316.6 715.6 L315.9 722.9 L315.1 730.3 L314.4 737.7 L313.6 745.1 L312.8 752.4 L312.0 759.8 L311.2 767.2 L310.4 774.5 L309.5 781.9 L308.7 789.3 M338.1 539.0 L337.6 546.3 L337.0 553.6 L336.5 560.9 L335.9 568.3 L335.3 575.6 L334.7 582.9 L334.0 590.2 L333.4 597.6 L332.7 604.9 L332.0 612.3 L331.3 619.6 L330.6 627.0 L329.9 634.3 L329.1 641.7 L328.3 649.0 L327.6 656.4 L326.8 663.8 L325.9 671.1 L325.1 678.5 L324.3 685.9 L323.4 693.3 L322.5 700.6 L321.6 708.0 L320.7 715.4 L319.8 722.8 L318.9 730.1 L317.9 737.5 L316.9 744.9 L316.0 752.3 L315.0 759.6 L314.0 767.0 L312.9 774.4 L311.9 781.7 L310.9 789.1 M345.5 538.9 L344.9 546.2 L344.2 553.5 L343.6 560.8 L342.9 568.1 L342.2 575.5 L341.4 582.8 L340.7 590.1 L339.9 597.4 L339.1 604.8 L338.3 612.1 L337.4 619.5 L336.6 626.8 L335.7 634.2 L334.8 641.5 L333.9 648.9 L333.0 656.2 L332.0 663.6 L331.0 671.0 L330.0 678.3 L329.0 685.7 L328.0 693.1 L327.0 700.4 L325.9 707.8 L324.8 715.2 L323.7 722.6 L322.6 729.9 L321.4 737.3 L320.3 744.7 L319.1 752.1 L317.9 759.4 L316.7 766.8 L315.5 774.2 L314.3 781.6 L313.0 788.9 M352.8 538.9 L352.1 546.2 L351.4 553.5 L350.6 560.8 L349.8 568.1 L349.0 575.4 L348.1 582.7 L347.2 590.0 L346.3 597.3 L345.4 604.6 L344.5 612.0 L343.5 619.3 L342.5 626.7 L341.5 634.0 L340.5 641.4 L339.4 648.7 L338.3 656.1 L337.2 663.4 L336.1 670.8 L334.9 678.2 L333.8 685.5 L332.6 692.9 L331.4 700.3 L330.1 707.7 L328.9 715.0 L327.6 722.4 L326.3 729.8 L325.0 737.2 L323.6 744.5 L322.3 751.9 L320.9 759.3 L319.5 766.6 L318.1 774.0 L316.6 781.4 L315.2 788.7 M360.1 538.9 L359.3 546.2 L358.4 553.4 L357.6 560.7 L356.6 568.0 L355.7 575.3 L354.8 582.6 L353.8 589.9 L352.7 597.2 L351.7 604.5 L350.6 611.9 L349.5 619.2 L348.4 626.5 L347.3 633.9 L346.1 641.2 L344.9 648.6 L343.6 655.9 L342.4 663.3 L341.1 670.7 L339.8 678.0 L338.5 685.4 L337.1 692.8 L335.7 700.1 L334.3 707.5 L332.9 714.9 L331.4 722.2 L330.0 729.6 L328.5 737.0 L327.0 744.4 L325.4 751.7 L323.8 759.1 L322.3 766.5 L320.6 773.8 L319.0 781.2 L317.4 788.6 M367.3 539.0 L366.4 546.2 L365.4 553.5 L364.5 560.7 L363.4 568.0 L362.4 575.3 L361.3 582.6 L360.2 589.8 L359.1 597.2 L357.9 604.5 L356.7 611.8 L355.5 619.1 L354.2 626.4 L353.0 633.8 L351.6 641.1 L350.3 648.5 L348.9 655.8 L347.5 663.2 L346.1 670.5 L344.6 677.9 L343.1 685.2 L341.6 692.6 L340.1 700.0 L338.5 707.4 L336.9 714.7 L335.3 722.1 L333.6 729.5 L332.0 736.8 L330.3 744.2 L328.5 751.6 L326.8 758.9 L325.0 766.3 L323.2 773.7 L321.4 781.0 L319.5 788.4 M374.4 539.0 L373.4 546.3 L372.4 553.5 L371.3 560.7 L370.2 568.0 L369.0 575.3 L367.8 582.5 L366.6 589.8 L365.4 597.1 L364.1 604.4 L362.8 611.7 L361.4 619.0 L360.0 626.4 L358.6 633.7 L357.2 641.0 L355.7 648.4 L354.2 655.7 L352.6 663.1 L351.0 670.4 L349.4 677.8 L347.8 685.1 L346.1 692.5 L344.4 699.9 L342.7 707.2 L340.9 714.6 L339.1 722.0 L337.3 729.3 L335.4 736.7 L333.6 744.1 L331.7 751.4 L329.7 758.8 L327.8 766.1 L325.8 773.5 L323.7 780.8 L321.7 788.2 M381.4 539.2 L380.3 546.4 L379.2 553.6 L378.0 560.8 L376.8 568.1 L375.6 575.3 L374.3 582.6 L373.0 589.8 L371.6 597.1 L370.2 604.4 L368.8 611.7 L367.3 619.0 L365.8 626.3 L364.2 633.6 L362.7 641.0 L361.0 648.3 L359.4 655.6 L357.7 663.0 L356.0 670.3 L354.2 677.7 L352.4 685.0 L350.6 692.4 L348.7 699.7 L346.8 707.1 L344.9 714.5 L342.9 721.8 L340.9 729.2 L338.9 736.5 L336.9 743.9 L334.8 751.3 L332.6 758.6 L330.5 766.0 L328.3 773.3 L326.1 780.7 L323.9 788.0 M388.4 539.3 L387.2 546.5 L386.0 553.7 L384.7 560.9 L383.4 568.1 L382.1 575.4 L380.7 582.6 L379.3 589.9 L377.8 597.1 L376.3 604.4 L374.7 611.7 L373.1 619.0 L371.5 626.3 L369.8 633.6 L368.1 640.9 L366.3 648.2 L364.5 655.6 L362.7 662.9 L360.8 670.3 L358.9 677.6 L357.0 684.9 L355.0 692.3 L353.0 699.6 L350.9 707.0 L348.8 714.3 L346.7 721.7 L344.6 729.1 L342.4 736.4 L340.1 743.8 L337.9 751.1 L335.6 758.5 L333.2 765.8 L330.9 773.2 L328.5 780.5 L326.0 787.8 M395.3 539.5 L394.0 546.7 L392.7 553.9 L391.4 561.1 L390.0 568.3 L388.5 575.5 L387.0 582.7 L385.5 589.9 L383.9 597.2 L382.3 604.5 L380.6 611.7 L378.9 619.0 L377.1 626.3 L375.3 633.6 L373.5 640.9 L371.6 648.2 L369.7 655.5 L367.7 662.9 L365.7 670.2 L363.6 677.5 L361.5 684.9 L359.4 692.2 L357.2 699.6 L355.0 706.9 L352.8 714.2 L350.5 721.6 L348.2 728.9 L345.8 736.3 L343.4 743.6 L340.9 751.0 L338.5 758.3 L336.0 765.7 L333.4 773.0 L330.8 780.3 L328.2 787.7 M402.1 539.8 L400.8 546.9 L399.4 554.1 L397.9 561.2 L396.5 568.4 L394.9 575.6 L393.3 582.8 L391.7 590.0 L390.0 597.3 L388.2 604.5 L386.5 611.8 L384.6 619.1 L382.7 626.3 L380.8 633.6 L378.8 640.9 L376.8 648.2 L374.8 655.5 L372.7 662.8 L370.5 670.2 L368.3 677.5 L366.1 684.8 L363.8 692.1 L361.5 699.5 L359.1 706.8 L356.7 714.2 L354.2 721.5 L351.7 728.8 L349.2 736.2 L346.6 743.5 L344.0 750.8 L341.4 758.2 L338.7 765.5 L336.0 772.8 L333.2 780.2 L330.4 787.5 M408.9 540.0 L407.5 547.2 L406.0 554.3 L404.4 561.4 L402.9 568.6 L401.2 575.8 L399.5 583.0 L397.8 590.2 L396.0 597.4 L394.2 604.6 L392.3 611.9 L390.3 619.1 L388.3 626.4 L386.3 633.7 L384.2 640.9 L382.0 648.2 L379.8 655.5 L377.6 662.8 L375.3 670.1 L372.9 677.5 L370.6 684.8 L368.1 692.1 L365.7 699.4 L363.1 706.7 L360.6 714.1 L358.0 721.4 L355.3 728.7 L352.6 736.1 L349.9 743.4 L347.1 750.7 L344.3 758.0 L341.4 765.4 L338.5 772.7 L335.5 780.0 L332.5 787.3 M415.6 540.4 L414.1 547.5 L412.5 554.6 L410.9 561.7 L409.2 568.8 L407.5 576.0 L405.7 583.2 L403.9 590.3 L402.0 597.5 L400.0 604.8 L398.0 612.0 L395.9 619.2 L393.8 626.5 L391.7 633.7 L389.4 641.0 L387.2 648.3 L384.8 655.6 L382.5 662.8 L380.0 670.1 L377.6 677.4 L375.0 684.7 L372.5 692.1 L369.8 699.4 L367.2 706.7 L364.4 714.0 L361.7 721.3 L358.9 728.6 L356.0 736.0 L353.1 743.3 L350.1 750.6 L347.1 757.9 L344.1 765.2 L341.0 772.5 L337.9 779.8 L334.7 787.1 M422.2 540.7 L420.6 547.8 L419.0 554.9 L417.3 562.0 L415.5 569.1 L413.7 576.2 L411.8 583.4 L409.9 590.5 L407.9 597.7 L405.8 604.9 L403.7 612.1 L401.5 619.3 L399.3 626.6 L397.0 633.8 L394.7 641.1 L392.3 648.3 L389.8 655.6 L387.3 662.9 L384.7 670.2 L382.1 677.4 L379.5 684.7 L376.7 692.0 L374.0 699.3 L371.2 706.6 L368.3 714.0 L365.4 721.3 L362.4 728.6 L359.4 735.9 L356.3 743.2 L353.2 750.5 L350.0 757.8 L346.8 765.1 L343.5 772.4 L340.2 779.7 L336.9 786.9 M428.7 541.1 L427.0 548.1 L425.3 555.2 L423.6 562.3 L421.7 569.4 L419.8 576.5 L417.8 583.6 L415.8 590.7 L413.7 597.9 L411.5 605.1 L409.3 612.3 L407.0 619.5 L404.7 626.7 L402.3 633.9 L399.8 641.2 L397.3 648.4 L394.7 655.7 L392.1 662.9 L389.4 670.2 L386.7 677.5 L383.9 684.7 L381.0 692.0 L378.1 699.3 L375.1 706.6 L372.1 713.9 L369.0 721.2 L365.9 728.5 L362.7 735.8 L359.5 743.1 L356.2 750.4 L352.9 757.7 L349.5 764.9 L346.1 772.2 L342.6 779.5 L339.1 786.8 M435.2 541.5 L433.4 548.5 L431.6 555.6 L429.8 562.6 L427.9 569.7 L425.9 576.8 L423.8 583.9 L421.7 591.0 L419.5 598.1 L417.2 605.3 L414.9 612.5 L412.5 619.6 L410.1 626.8 L407.6 634.0 L405.0 641.3 L402.3 648.5 L399.6 655.7 L396.9 663.0 L394.1 670.2 L391.2 677.5 L388.2 684.8 L385.2 692.0 L382.2 699.3 L379.1 706.6 L375.9 713.9 L372.7 721.1 L369.4 728.4 L366.1 735.7 L362.7 743.0 L359.2 750.3 L355.7 757.5 L352.2 764.8 L348.6 772.1 L344.9 779.3 L341.2 786.6 M441.5 542.0 L439.8 549.0 L437.9 556.0 L436.0 563.0 L434.0 570.0 L431.9 577.1 L429.7 584.2 L427.5 591.3 L425.2 598.4 L422.9 605.5 L420.4 612.7 L418.0 619.8 L415.4 627.0 L412.8 634.2 L410.1 641.4 L407.3 648.6 L404.5 655.8 L401.6 663.1 L398.7 670.3 L395.7 677.5 L392.6 684.8 L389.5 692.1 L386.3 699.3 L383.0 706.6 L379.7 713.8 L376.3 721.1 L372.9 728.4 L369.4 735.6 L365.9 742.9 L362.2 750.2 L358.6 757.4 L354.9 764.7 L351.1 771.9 L347.3 779.2 L343.4 786.4 M447.9 542.5 L446.0 549.4 L444.1 556.4 L442.1 563.4 L440.0 570.4 L437.8 577.4 L435.6 584.5 L433.3 591.6 L430.9 598.7 L428.5 605.8 L425.9 612.9 L423.3 620.1 L420.7 627.2 L417.9 634.4 L415.1 641.6 L412.3 648.8 L409.3 656.0 L406.3 663.2 L403.2 670.4 L400.1 677.6 L396.9 684.9 L393.6 692.1 L390.3 699.3 L386.9 706.6 L383.5 713.8 L379.9 721.1 L376.4 728.3 L372.7 735.6 L369.0 742.8 L365.2 750.1 L361.4 757.3 L357.5 764.5 L353.6 771.8 L349.6 779.0 L345.6 786.2 M454.1 543.0 L452.2 549.9 L450.2 556.9 L448.1 563.8 L445.9 570.8 L443.7 577.8 L441.4 584.9 L439.0 591.9 L436.5 599.0 L434.0 606.1 L431.4 613.2 L428.7 620.3 L425.9 627.4 L423.1 634.6 L420.2 641.7 L417.2 648.9 L414.1 656.1 L411.0 663.3 L407.8 670.5 L404.5 677.7 L401.2 684.9 L397.8 692.1 L394.3 699.4 L390.8 706.6 L387.2 713.8 L383.5 721.1 L379.8 728.3 L376.0 735.5 L372.2 742.8 L368.2 750.0 L364.3 757.2 L360.2 764.4 L356.1 771.6 L352.0 778.8 L347.7 786.0 M460.3 543.6 L458.3 550.5 L456.2 557.4 L454.1 564.3 L451.8 571.3 L449.5 578.2 L447.1 585.2 L444.7 592.3 L442.1 599.3 L439.5 606.4 L436.7 613.5 L434.0 620.6 L431.1 627.7 L428.1 634.8 L425.1 641.9 L422.0 649.1 L418.9 656.3 L415.6 663.4 L412.3 670.6 L408.9 677.8 L405.4 685.0 L401.9 692.2 L398.3 699.4 L394.6 706.6 L390.9 713.8 L387.1 721.0 L383.2 728.3 L379.3 735.5 L375.3 742.7 L371.2 749.9 L367.1 757.1 L362.9 764.3 L358.6 771.5 L354.3 778.7 L349.9 785.9 M466.4 544.2 L464.3 551.0 L462.2 557.9 L460.0 564.8 L457.7 571.7 L455.3 578.7 L452.8 585.7 L450.2 592.7 L447.6 599.7 L444.9 606.7 L442.1 613.8 L439.2 620.8 L436.2 627.9 L433.2 635.0 L430.0 642.2 L426.8 649.3 L423.6 656.4 L420.2 663.6 L416.8 670.7 L413.3 677.9 L409.7 685.1 L406.0 692.3 L402.3 699.5 L398.5 706.7 L394.6 713.8 L390.7 721.0 L386.6 728.2 L382.6 735.4 L378.4 742.6 L374.2 749.8 L369.9 757.0 L365.5 764.2 L361.1 771.4 L356.6 778.5 L352.1 785.7 M472.4 544.8 L470.3 551.6 L468.1 558.5 L465.8 565.3 L463.4 572.2 L461.0 579.2 L458.4 586.1 L455.8 593.1 L453.1 600.1 L450.3 607.1 L447.4 614.1 L444.4 621.2 L441.3 628.2 L438.2 635.3 L434.9 642.4 L431.6 649.5 L428.2 656.6 L424.8 663.8 L421.2 670.9 L417.6 678.0 L413.9 685.2 L410.1 692.4 L406.2 699.5 L402.3 706.7 L398.3 713.9 L394.2 721.0 L390.0 728.2 L385.8 735.4 L381.5 742.6 L377.1 749.7 L372.7 756.9 L368.2 764.1 L363.6 771.2 L359.0 778.4 L354.2 785.5 M478.3 545.5 L476.2 552.3 L473.9 559.1 L471.6 565.9 L469.1 572.8 L466.6 579.7 L464.0 586.6 L461.3 593.5 L458.5 600.5 L455.6 607.5 L452.6 614.5 L449.5 621.5 L446.4 628.5 L443.1 635.6 L439.8 642.6 L436.4 649.7 L432.9 656.8 L429.3 663.9 L425.6 671.1 L421.9 678.2 L418.0 685.3 L414.1 692.5 L410.1 699.6 L406.1 706.8 L401.9 713.9 L397.7 721.1 L393.4 728.2 L389.1 735.4 L384.6 742.5 L380.1 749.7 L375.5 756.8 L370.8 764.0 L366.1 771.1 L361.3 778.2 L356.4 785.3 M484.2 546.2 L482.0 552.9 L479.7 559.7 L477.3 566.5 L474.8 573.3 L472.2 580.2 L469.5 587.1 L466.7 594.0 L463.8 600.9 L460.8 607.9 L457.8 614.8 L454.6 621.8 L451.3 628.9 L448.0 635.9 L444.6 642.9 L441.1 650.0 L437.4 657.1 L433.8 664.1 L430.0 671.2 L426.1 678.3 L422.2 685.5 L418.1 692.6 L414.0 699.7 L409.8 706.8 L405.6 714.0 L401.2 721.1 L396.8 728.2 L392.3 735.4 L387.7 742.5 L383.0 749.6 L378.3 756.7 L373.5 763.8 L368.6 771.0 L363.6 778.1 L358.6 785.1 M490.0 546.9 L487.8 553.6 L485.4 560.4 L482.9 567.1 L480.4 573.9 L477.7 580.8 L474.9 587.6 L472.1 594.5 L469.1 601.4 L466.0 608.3 L462.9 615.3 L459.6 622.2 L456.3 629.2 L452.9 636.2 L449.3 643.2 L445.7 650.3 L442.0 657.3 L438.2 664.4 L434.3 671.4 L430.3 678.5 L426.3 685.6 L422.1 692.7 L417.9 699.8 L413.6 706.9 L409.2 714.0 L404.7 721.1 L400.1 728.2 L395.5 735.3 L390.8 742.4 L385.9 749.5 L381.1 756.6 L376.1 763.7 L371.1 770.8 L365.9 777.9 L360.8 785.0 M495.8 547.7 L493.4 554.4 L491.0 561.1 L488.5 567.8 L485.9 574.6 L483.1 581.3 L480.3 588.2 L477.4 595.0 L474.3 601.9 L471.2 608.8 L468.0 615.7 L464.6 622.6 L461.2 629.6 L457.7 636.6 L454.0 643.5 L450.3 650.6 L446.5 657.6 L442.6 664.6 L438.6 671.6 L434.5 678.7 L430.4 685.8 L426.1 692.8 L421.7 699.9 L417.3 707.0 L412.8 714.1 L408.2 721.2 L403.5 728.2 L398.7 735.3 L393.8 742.4 L388.9 749.5 L383.8 756.6 L378.7 763.6 L373.5 770.7 L368.3 777.7 L362.9 784.8 M501.4 548.5 L499.0 555.1 L496.6 561.8 L494.0 568.5 L491.3 575.2 L488.5 582.0 L485.6 588.7 L482.6 595.6 L479.5 602.4 L476.3 609.3 L473.0 616.1 L469.6 623.0 L466.0 630.0 L462.4 636.9 L458.7 643.9 L454.9 650.9 L451.0 657.9 L447.0 664.9 L442.9 671.9 L438.7 678.9 L434.4 685.9 L430.0 693.0 L425.5 700.0 L421.0 707.1 L416.3 714.2 L411.6 721.2 L406.8 728.3 L401.9 735.3 L396.9 742.4 L391.8 749.4 L386.6 756.5 L381.3 763.5 L376.0 770.6 L370.6 777.6 L365.1 784.6 M507.0 549.3 L504.6 555.9 L502.1 562.5 L499.4 569.2 L496.7 575.9 L493.8 582.6 L490.9 589.4 L487.8 596.1 L484.6 602.9 L481.3 609.8 L477.9 616.6 L474.4 623.5 L470.8 630.4 L467.1 637.3 L463.3 644.2 L459.4 651.2 L455.4 658.2 L451.3 665.1 L447.1 672.1 L442.8 679.1 L438.4 686.1 L433.9 693.2 L429.3 700.2 L424.7 707.2 L419.9 714.2 L415.0 721.3 L410.1 728.3 L405.0 735.3 L399.9 742.4 L394.7 749.4 L389.4 756.4 L384.0 763.4 L378.5 770.4 L372.9 777.4 L367.3 784.4 M512.5 550.2 L510.1 556.7 L507.5 563.3 L504.8 569.9 L502.0 576.6 L499.1 583.3 L496.1 590.0 L492.9 596.7 L489.7 603.5 L486.3 610.3 L482.9 617.1 L479.3 624.0 L475.6 630.8 L471.8 637.7 L467.9 644.6 L463.9 651.5 L459.8 658.5 L455.6 665.4 L451.3 672.4 L446.9 679.4 L442.4 686.3 L437.8 693.3 L433.1 700.3 L428.3 707.3 L423.4 714.3 L418.4 721.3 L413.3 728.3 L408.2 735.4 L402.9 742.4 L397.5 749.4 L392.1 756.4 L386.6 763.3 L380.9 770.3 L375.2 777.3 L369.4 784.2 M517.9 551.1 L515.5 557.6 L512.8 564.1 L510.1 570.7 L507.3 577.3 L504.3 584.0 L501.2 590.7 L498.0 597.4 L494.7 604.1 L491.3 610.9 L487.7 617.6 L484.1 624.4 L480.3 631.3 L476.4 638.1 L472.5 645.0 L468.4 651.9 L464.2 658.8 L459.9 665.7 L455.5 672.7 L451.0 679.6 L446.4 686.6 L441.6 693.5 L436.8 700.5 L431.9 707.5 L426.9 714.4 L421.8 721.4 L416.6 728.4 L411.3 735.4 L405.9 742.4 L400.4 749.3 L394.8 756.3 L389.2 763.2 L383.4 770.2 L377.5 777.1 L371.6 784.1 M523.3 552.0 L520.8 558.5 L518.1 565.0 L515.3 571.5 L512.4 578.1 L509.4 584.7 L506.3 591.3 L503.0 598.0 L499.6 604.7 L496.1 611.4 L492.5 618.2 L488.8 625.0 L485.0 631.8 L481.0 638.6 L477.0 645.4 L472.8 652.3 L468.5 659.2 L464.1 666.0 L459.6 672.9 L455.0 679.9 L450.3 686.8 L445.5 693.7 L440.5 700.7 L435.5 707.6 L430.4 714.6 L425.2 721.5 L419.8 728.5 L414.4 735.4 L408.9 742.3 L403.3 749.3 L397.6 756.2 L391.8 763.2 L385.9 770.1 L379.9 777.0 L373.8 783.9 M528.6 553.0 L526.0 559.4 L523.3 565.9 L520.5 572.4 L517.6 578.9 L514.5 585.5 L511.3 592.1 L508.0 598.7 L504.5 605.3 L501.0 612.0 L497.3 618.8 L493.5 625.5 L489.6 632.3 L485.6 639.0 L481.4 645.9 L477.1 652.7 L472.8 659.5 L468.3 666.4 L463.7 673.3 L459.0 680.1 L454.2 687.0 L449.2 693.9 L444.2 700.8 L439.1 707.8 L433.8 714.7 L428.5 721.6 L423.1 728.5 L417.5 735.4 L411.9 742.4 L406.1 749.3 L400.3 756.2 L394.3 763.1 L388.3 770.0 L382.2 776.8 L376.0 783.7 M533.8 554.0 L531.2 560.4 L528.5 566.8 L525.6 573.2 L522.6 579.7 L519.5 586.2 L516.3 592.8 L512.9 599.4 L509.4 606.0 L505.8 612.7 L502.0 619.3 L498.1 626.0 L494.2 632.8 L490.0 639.5 L485.8 646.3 L481.5 653.1 L477.0 659.9 L472.4 666.7 L467.7 673.6 L462.9 680.4 L458.0 687.3 L453.0 694.2 L447.9 701.0 L442.6 707.9 L437.3 714.8 L431.8 721.7 L426.3 728.6 L420.6 735.5 L414.8 742.4 L409.0 749.2 L403.0 756.1 L396.9 763.0 L390.8 769.8 L384.5 776.7 L378.1 783.5 M539.0 555.0 L536.3 561.3 L533.6 567.7 L530.7 574.1 L527.6 580.6 L524.4 587.0 L521.1 593.6 L517.7 600.1 L514.2 606.7 L510.5 613.3 L506.7 620.0 L502.7 626.6 L498.7 633.3 L494.5 640.0 L490.2 646.8 L485.8 653.5 L481.2 660.3 L476.6 667.1 L471.8 673.9 L466.9 680.7 L461.9 687.6 L456.7 694.4 L451.5 701.2 L446.2 708.1 L440.7 714.9 L435.1 721.8 L429.5 728.7 L423.7 735.5 L417.8 742.4 L411.8 749.2 L405.7 756.1 L399.5 762.9 L393.2 769.7 L386.8 776.5 L380.3 783.3 M544.0 556.1 L541.4 562.3 L538.6 568.7 L535.6 575.0 L532.5 581.4 L529.3 587.9 L526.0 594.3 L522.5 600.9 L518.9 607.4 L515.1 614.0 L511.3 620.6 L507.3 627.2 L503.1 633.9 L498.9 640.6 L494.5 647.3 L490.0 654.0 L485.4 660.7 L480.6 667.5 L475.8 674.3 L470.8 681.0 L465.7 687.8 L460.4 694.6 L455.1 701.5 L449.7 708.3 L444.1 715.1 L438.4 721.9 L432.6 728.7 L426.7 735.6 L420.7 742.4 L414.6 749.2 L408.4 756.0 L402.1 762.8 L395.6 769.6 L389.1 776.4 L382.5 783.2 M549.0 557.2 L546.3 563.4 L543.5 569.7 L540.5 576.0 L537.4 582.3 L534.1 588.7 L530.8 595.2 L527.2 601.6 L523.6 608.1 L519.8 614.7 L515.8 621.2 L511.8 627.8 L507.6 634.4 L503.2 641.1 L498.8 647.8 L494.2 654.4 L489.5 661.2 L484.7 667.9 L479.7 674.6 L474.6 681.4 L469.4 688.1 L464.1 694.9 L458.7 701.7 L453.1 708.5 L447.5 715.3 L441.7 722.0 L435.8 728.8 L429.8 735.6 L423.6 742.4 L417.4 749.2 L411.1 756.0 L404.6 762.7 L398.1 769.5 L391.4 776.3 L384.6 783.0 M554.0 558.3 L551.2 564.5 L548.4 570.7 L545.4 576.9 L542.2 583.3 L538.9 589.6 L535.5 596.0 L531.9 602.4 L528.2 608.9 L524.3 615.4 L520.3 621.9 L516.2 628.5 L511.9 635.0 L507.6 641.7 L503.0 648.3 L498.4 654.9 L493.6 661.6 L488.7 668.3 L483.6 675.0 L478.5 681.7 L473.2 688.4 L467.8 695.2 L462.2 701.9 L456.6 708.7 L450.8 715.4 L444.9 722.2 L438.9 728.9 L432.8 735.7 L426.6 742.5 L420.2 749.2 L413.7 755.9 L407.2 762.7 L400.5 769.4 L393.7 776.1 L386.8 782.8 M558.8 559.4 L556.1 565.5 L553.2 571.7 L550.1 577.9 L546.9 584.2 L543.6 590.5 L540.1 596.9 L536.5 603.3 L532.7 609.7 L528.8 616.1 L524.8 622.6 L520.6 629.1 L516.3 635.7 L511.8 642.2 L507.2 648.8 L502.5 655.4 L497.6 662.1 L492.6 668.7 L487.5 675.4 L482.3 682.1 L476.9 688.8 L471.4 695.5 L465.8 702.2 L460.0 708.9 L454.1 715.6 L448.2 722.3 L442.0 729.0 L435.8 735.8 L429.5 742.5 L423.0 749.2 L416.4 755.9 L409.7 762.6 L402.9 769.3 L396.0 776.0 L389.0 782.6 M563.6 560.6 L560.8 566.7 L557.9 572.8 L554.8 579.0 L551.6 585.2 L548.2 591.5 L544.7 597.8 L541.0 604.1 L537.2 610.5 L533.3 616.9 L529.2 623.3 L524.9 629.8 L520.6 636.3 L516.0 642.8 L511.4 649.4 L506.6 655.9 L501.6 662.5 L496.6 669.2 L491.4 675.8 L486.0 682.4 L480.6 689.1 L475.0 695.7 L469.3 702.4 L463.4 709.1 L457.5 715.8 L451.4 722.5 L445.1 729.2 L438.8 735.8 L432.3 742.5 L425.8 749.2 L419.1 755.9 L412.3 762.5 L405.3 769.2 L398.3 775.8 L391.1 782.4 M568.3 561.8 L565.5 567.8 L562.6 573.9 L559.5 580.0 L556.2 586.2 L552.8 592.4 L549.2 598.7 L545.5 605.0 L541.7 611.3 L537.7 617.7 L533.5 624.1 L529.2 630.5 L524.8 636.9 L520.2 643.4 L515.5 649.9 L510.6 656.5 L505.6 663.0 L500.5 669.6 L495.2 676.2 L489.8 682.8 L484.2 689.4 L478.6 696.0 L472.7 702.7 L466.8 709.3 L460.7 716.0 L454.5 722.6 L448.2 729.3 L441.8 735.9 L435.2 742.6 L428.5 749.2 L421.7 755.8 L414.8 762.5 L407.7 769.1 L400.6 775.7 L393.3 782.3 M572.9 563.0 L570.1 569.0 L567.1 575.0 L564.0 581.1 L560.7 587.2 L557.3 593.4 L553.7 599.6 L550.0 605.9 L546.1 612.1 L542.0 618.5 L537.8 624.8 L533.5 631.2 L529.0 637.6 L524.3 644.1 L519.5 650.5 L514.6 657.0 L509.5 663.5 L504.3 670.1 L499.0 676.6 L493.5 683.2 L487.9 689.8 L482.1 696.4 L476.2 703.0 L470.2 709.6 L464.0 716.2 L457.7 722.8 L451.3 729.4 L444.8 736.0 L438.1 742.6 L431.3 749.2 L424.4 755.8 L417.3 762.4 L410.2 769.0 L402.9 775.5 L395.5 782.1 M577.5 564.3 L574.6 570.2 L571.7 576.2 L568.5 582.2 L565.2 588.3 L561.7 594.4 L558.1 600.6 L554.3 606.8 L550.4 613.0 L546.3 619.3 L542.1 625.6 L537.7 631.9 L533.1 638.3 L528.4 644.7 L523.6 651.1 L518.6 657.6 L513.4 664.1 L508.1 670.6 L502.7 677.1 L497.2 683.6 L491.4 690.1 L485.6 696.7 L479.6 703.3 L473.5 709.8 L467.2 716.4 L460.9 723.0 L454.3 729.5 L447.7 736.1 L440.9 742.7 L434.0 749.2 L427.0 755.8 L419.8 762.3 L412.6 768.9 L405.2 775.4 L397.6 781.9 M581.9 565.6 L579.1 571.4 L576.1 577.4 L573.0 583.3 L569.6 589.4 L566.1 595.4 L562.5 601.5 L558.7 607.7 L554.7 613.9 L550.5 620.1 L546.2 626.4 L541.8 632.7 L537.2 639.0 L532.4 645.4 L527.5 651.8 L522.5 658.2 L517.3 664.6 L511.9 671.1 L506.4 677.5 L500.8 684.0 L495.0 690.5 L489.1 697.0 L483.0 703.5 L476.8 710.1 L470.5 716.6 L464.0 723.1 L457.4 729.7 L450.6 736.2 L443.8 742.7 L436.8 749.3 L429.6 755.8 L422.4 762.3 L415.0 768.8 L407.5 775.3 L399.8 781.7 M586.3 566.9 L583.5 572.7 L580.5 578.6 L577.3 584.5 L574.0 590.5 L570.4 596.5 L566.8 602.5 L562.9 608.7 L558.9 614.8 L554.7 621.0 L550.4 627.2 L545.9 633.5 L541.2 639.7 L536.4 646.1 L531.5 652.4 L526.4 658.8 L521.1 665.2 L515.7 671.6 L510.1 678.0 L504.4 684.4 L498.5 690.9 L492.5 697.4 L486.4 703.9 L480.1 710.3 L473.7 716.8 L467.1 723.3 L460.4 729.8 L453.6 736.3 L446.6 742.8 L439.5 749.3 L432.2 755.8 L424.9 762.2 L417.4 768.7 L409.7 775.1 L402.0 781.5 M590.7 568.2 L587.8 574.0 L584.8 579.8 L581.6 585.7 L578.2 591.6 L574.7 597.6 L571.0 603.6 L567.1 609.6 L563.1 615.7 L558.8 621.9 L554.5 628.0 L549.9 634.2 L545.2 640.5 L540.4 646.8 L535.4 653.1 L530.2 659.4 L524.9 665.7 L519.4 672.1 L513.7 678.5 L508.0 684.9 L502.0 691.3 L496.0 697.7 L489.7 704.2 L483.4 710.6 L476.8 717.1 L470.2 723.5 L463.4 730.0 L456.5 736.4 L449.4 742.9 L442.2 749.3 L434.8 755.8 L427.4 762.2 L419.8 768.6 L412.0 775.0 L404.2 781.4 M594.9 569.6 L592.1 575.3 L589.0 581.1 L585.8 586.9 L582.4 592.7 L578.9 598.7 L575.1 604.6 L571.2 610.6 L567.2 616.7 L562.9 622.8 L558.5 628.9 L553.9 635.1 L549.2 641.2 L544.3 647.5 L539.2 653.7 L534.0 660.0 L528.6 666.3 L523.1 672.6 L517.4 679.0 L511.5 685.3 L505.5 691.7 L499.3 698.1 L493.0 704.5 L486.6 710.9 L480.0 717.3 L473.3 723.7 L466.4 730.1 L459.4 736.5 L452.2 743.0 L444.9 749.4 L437.4 755.7 L429.9 762.1 L422.1 768.5 L414.3 774.8 L406.3 781.2 M599.1 571.0 L596.3 576.6 L593.2 582.4 L590.0 588.1 L586.6 593.9 L583.0 599.8 L579.3 605.7 L575.3 611.7 L571.2 617.6 L566.9 623.7 L562.5 629.8 L557.9 635.9 L553.1 642.0 L548.1 648.2 L543.0 654.4 L537.7 660.6 L532.3 666.9 L526.7 673.2 L520.9 679.5 L515.0 685.8 L508.9 692.1 L502.7 698.5 L496.3 704.8 L489.8 711.2 L483.1 717.6 L476.3 723.9 L469.3 730.3 L462.2 736.7 L455.0 743.0 L447.6 749.4 L440.0 755.7 L432.3 762.1 L424.5 768.4 L416.6 774.7 L408.5 781.0 M603.2 572.4 L600.4 578.0 L597.3 583.7 L594.1 589.4 L590.7 595.1 L587.1 600.9 L583.3 606.8 L579.3 612.7 L575.2 618.6 L570.9 624.6 L566.4 630.7 L561.8 636.7 L556.9 642.8 L551.9 649.0 L546.8 655.1 L541.4 661.3 L535.9 667.5 L530.3 673.8 L524.5 680.0 L518.5 686.3 L512.3 692.6 L506.1 698.9 L499.6 705.2 L493.0 711.5 L486.2 717.8 L479.3 724.1 L472.3 730.5 L465.1 736.8 L457.7 743.1 L450.2 749.4 L442.6 755.7 L434.8 762.0 L426.9 768.3 L418.9 774.6 L410.7 780.8 M607.3 573.9 L604.4 579.4 L601.4 585.0 L598.1 590.6 L594.7 596.3 L591.1 602.1 L587.3 607.9 L583.3 613.8 L579.1 619.7 L574.8 625.6 L570.3 631.6 L565.6 637.6 L560.7 643.6 L555.7 649.7 L550.5 655.8 L545.1 662.0 L539.6 668.1 L533.8 674.3 L528.0 680.5 L521.9 686.8 L515.7 693.0 L509.4 699.3 L502.8 705.5 L496.2 711.8 L489.3 718.1 L482.4 724.4 L475.2 730.7 L467.9 736.9 L460.5 743.2 L452.9 749.5 L445.2 755.7 L437.3 762.0 L429.3 768.2 L421.1 774.4 L412.8 780.6 M611.2 575.3 L608.4 580.8 L605.3 586.4 L602.1 591.9 L598.6 597.6 L595.0 603.3 L591.2 609.0 L587.2 614.8 L583.0 620.7 L578.7 626.6 L574.1 632.5 L569.4 638.5 L564.5 644.5 L559.4 650.5 L554.2 656.6 L548.7 662.7 L543.1 668.8 L537.4 674.9 L531.4 681.1 L525.3 687.3 L519.1 693.5 L512.6 699.7 L506.1 705.9 L499.3 712.1 L492.4 718.4 L485.3 724.6 L478.1 730.8 L470.8 737.1 L463.2 743.3 L455.6 749.5 L447.7 755.7 L439.8 761.9 L431.7 768.1 L423.4 774.3 L415.0 780.5 M615.1 576.8 L612.3 582.3 L609.2 587.7 L606.0 593.3 L602.5 598.9 L598.9 604.5 L595.1 610.2 L591.0 615.9 L586.8 621.7 L582.5 627.6 L577.9 633.4 L573.1 639.4 L568.2 645.3 L563.1 651.3 L557.8 657.3 L552.3 663.4 L546.7 669.4 L540.9 675.5 L534.9 681.6 L528.7 687.8 L522.4 693.9 L515.9 700.1 L509.2 706.3 L502.4 712.5 L495.5 718.6 L488.3 724.8 L481.0 731.0 L473.6 737.2 L466.0 743.4 L458.2 749.6 L450.3 755.7 L442.2 761.9 L434.0 768.0 L425.7 774.2 L417.2 780.3 M618.9 578.4 L616.1 583.7 L613.0 589.1 L609.8 594.6 L606.3 600.1 L602.7 605.7 L598.9 611.4 L594.8 617.1 L590.6 622.8 L586.2 628.6 L581.6 634.4 L576.8 640.3 L571.8 646.2 L566.7 652.1 L561.4 658.1 L555.9 664.1 L550.2 670.1 L544.3 676.1 L538.3 682.2 L532.1 688.3 L525.7 694.4 L519.1 700.5 L512.4 706.6 L505.5 712.8 L498.5 718.9 L491.3 725.1 L483.9 731.2 L476.4 737.4 L468.7 743.5 L460.8 749.6 L452.8 755.8 L444.7 761.9 L436.4 768.0 L427.9 774.0 L419.4 780.1 M622.7 579.9 L619.8 585.2 L616.8 590.6 L613.5 596.0 L610.1 601.5 L606.4 607.0 L602.6 612.6 L598.6 618.2 L594.3 623.9 L589.9 629.6 L585.3 635.4 L580.5 641.2 L575.5 647.1 L570.3 652.9 L564.9 658.9 L559.4 664.8 L553.6 670.8 L547.7 676.8 L541.6 682.8 L535.4 688.8 L528.9 694.9 L522.3 701.0 L515.5 707.0 L508.6 713.1 L501.5 719.2 L494.2 725.3 L486.8 731.4 L479.2 737.5 L471.4 743.6 L463.5 749.7 L455.4 755.8 L447.1 761.8 L438.8 767.9 L430.2 773.9 L421.5 779.9 M626.3 581.5 L623.5 586.7 L620.5 592.0 L617.2 597.4 L613.8 602.8 L610.1 608.3 L606.3 613.8 L602.2 619.4 L598.0 625.0 L593.5 630.7 L588.9 636.4 L584.0 642.1 L579.0 647.9 L573.8 653.8 L568.4 659.6 L562.8 665.5 L557.0 671.5 L551.1 677.4 L545.0 683.4 L538.6 689.4 L532.2 695.4 L525.5 701.4 L518.7 707.4 L511.6 713.5 L504.5 719.5 L497.1 725.6 L489.6 731.6 L481.9 737.7 L474.1 743.7 L466.1 749.8 L457.9 755.8 L449.6 761.8 L441.1 767.8 L432.5 773.8 L423.7 779.7 M629.9 583.1 L627.1 588.3 L624.1 593.5 L620.8 598.8 L617.4 604.1 L613.7 609.6 L609.9 615.0 L605.8 620.5 L601.6 626.1 L597.1 631.7 L592.4 637.4 L587.6 643.1 L582.5 648.9 L577.3 654.6 L571.9 660.4 L566.2 666.3 L560.4 672.2 L554.4 678.1 L548.3 684.0 L541.9 689.9 L535.3 695.9 L528.6 701.9 L521.7 707.8 L514.7 713.8 L507.4 719.8 L500.0 725.8 L492.4 731.8 L484.7 737.8 L476.8 743.8 L468.7 749.8 L460.4 755.8 L452.0 761.8 L443.5 767.7 L434.7 773.7 L425.9 779.6 M633.4 584.7 L630.6 589.8 L627.6 595.0 L624.4 600.2 L621.0 605.5 L617.3 610.9 L613.4 616.3 L609.4 621.7 L605.1 627.3 L600.6 632.8 L596.0 638.4 L591.1 644.1 L586.0 649.8 L580.7 655.5 L575.3 661.3 L569.6 667.1 L563.8 672.9 L557.7 678.7 L551.5 684.6 L545.1 690.5 L538.5 696.4 L531.7 702.3 L524.8 708.3 L517.7 714.2 L510.4 720.2 L502.9 726.1 L495.2 732.1 L487.4 738.0 L479.4 744.0 L471.3 749.9 L462.9 755.8 L454.5 761.7 L445.8 767.6 L437.0 773.5 L428.0 779.4 M636.9 586.4 L634.1 591.4 L631.1 596.5 L627.9 601.7 L624.4 606.9 L620.8 612.2 L616.9 617.6 L612.9 623.0 L608.6 628.4 L604.1 633.9 L599.4 639.5 L594.5 645.1 L589.4 650.7 L584.1 656.4 L578.6 662.1 L572.9 667.8 L567.1 673.6 L561.0 679.4 L554.7 685.2 L548.3 691.1 L541.6 696.9 L534.8 702.8 L527.8 708.7 L520.6 714.6 L513.3 720.5 L505.7 726.4 L498.0 732.3 L490.1 738.2 L482.1 744.1 L473.8 750.0 L465.4 755.9 L456.9 761.7 L448.1 767.6 L439.3 773.4 L430.2 779.2 M640.3 588.0 L637.5 593.0 L634.5 598.1 L631.3 603.2 L627.9 608.3 L624.2 613.6 L620.4 618.9 L616.3 624.2 L612.0 629.6 L607.5 635.1 L602.8 640.6 L597.9 646.1 L592.8 651.7 L587.5 657.3 L582.0 662.9 L576.2 668.6 L570.3 674.4 L564.2 680.1 L557.9 685.9 L551.4 691.7 L544.7 697.5 L537.9 703.3 L530.8 709.1 L523.6 715.0 L516.2 720.8 L508.6 726.7 L500.8 732.5 L492.8 738.4 L484.7 744.2 L476.4 750.1 L467.9 755.9 L459.3 761.7 L450.5 767.5 L441.5 773.3 L432.4 779.0 M643.5 589.7 L640.8 594.6 L637.8 599.6 L634.6 604.7 L631.2 609.8 L627.6 614.9 L623.7 620.2 L619.7 625.5 L615.4 630.8 L610.9 636.2 L606.2 641.6 L601.2 647.1 L596.1 652.6 L590.8 658.2 L585.2 663.8 L579.5 669.4 L573.5 675.1 L567.4 680.8 L561.1 686.5 L554.5 692.2 L547.8 698.0 L540.9 703.8 L533.8 709.6 L526.5 715.3 L519.0 721.1 L511.4 726.9 L503.5 732.7 L495.5 738.5 L487.3 744.3 L479.0 750.1 L470.4 755.9 L461.7 761.7 L452.8 767.4 L443.8 773.1 L434.5 778.8 M646.8 591.4 L644.0 596.3 L641.1 601.2 L637.9 606.2 L634.5 611.2 L630.9 616.3 L627.0 621.5 L623.0 626.7 L618.7 632.0 L614.2 637.3 L609.5 642.7 L604.5 648.2 L599.4 653.6 L594.0 659.1 L588.5 664.7 L582.7 670.3 L576.7 675.9 L570.6 681.5 L564.2 687.2 L557.6 692.9 L550.9 698.6 L543.9 704.3 L536.8 710.0 L529.4 715.7 L521.9 721.5 L514.2 727.2 L506.3 733.0 L498.2 738.7 L489.9 744.5 L481.5 750.2 L472.9 755.9 L464.1 761.6 L455.1 767.3 L446.0 773.0 L436.7 778.7 M649.9 593.2 L647.2 598.0 L644.3 602.8 L641.1 607.7 L637.7 612.7 L634.1 617.7 L630.3 622.9 L626.2 628.0 L621.9 633.2 L617.4 638.5 L612.7 643.8 L607.8 649.2 L602.6 654.6 L597.2 660.1 L591.7 665.6 L585.9 671.1 L579.9 676.6 L573.7 682.2 L567.3 687.8 L560.7 693.5 L553.9 699.1 L546.9 704.8 L539.7 710.5 L532.3 716.1 L524.7 721.8 L517.0 727.5 L509.0 733.2 L500.9 738.9 L492.5 744.6 L484.0 750.3 L475.4 756.0 L466.5 761.6 L457.5 767.3 L448.3 772.9 L438.9 778.5 M653.0 594.9 L650.3 599.6 L647.4 604.4 L644.3 609.3 L640.9 614.2 L637.3 619.2 L633.5 624.2 L629.4 629.3 L625.1 634.5 L620.6 639.7 L615.9 645.0 L610.9 650.3 L605.8 655.6 L600.4 661.0 L594.8 666.5 L589.0 671.9 L583.0 677.4 L576.8 683.0 L570.3 688.5 L563.7 694.1 L556.8 699.7 L549.8 705.3 L542.6 710.9 L535.1 716.6 L527.5 722.2 L519.7 727.8 L511.7 733.5 L503.5 739.1 L495.1 744.8 L486.6 750.4 L477.8 756.0 L468.9 761.6 L459.8 767.2 L450.5 772.8 L441.0 778.3 M656.0 596.7 L653.3 601.4 L650.5 606.1 L647.4 610.9 L644.0 615.7 L640.4 620.6 L636.6 625.6 L632.6 630.7 L628.3 635.8 L623.8 640.9 L619.0 646.1 L614.1 651.4 L608.9 656.7 L603.5 662.0 L597.9 667.4 L592.1 672.8 L586.0 678.2 L579.8 683.7 L573.3 689.2 L566.7 694.7 L559.8 700.3 L552.7 705.8 L545.4 711.4 L538.0 717.0 L530.3 722.6 L522.4 728.2 L514.4 733.7 L506.1 739.3 L497.7 744.9 L489.1 750.5 L480.3 756.1 L471.3 761.6 L462.1 767.1 L452.7 772.6 L443.2 778.1 M658.9 598.5 L656.3 603.1 L653.4 607.7 L650.4 612.5 L647.0 617.2 L643.5 622.1 L639.7 627.0 L635.6 632.0 L631.4 637.0 L626.9 642.1 L622.1 647.3 L617.2 652.5 L612.0 657.7 L606.6 663.0 L601.0 668.3 L595.1 673.7 L589.1 679.0 L582.8 684.5 L576.3 689.9 L569.6 695.4 L562.7 700.9 L555.6 706.4 L548.3 711.9 L540.8 717.4 L533.1 722.9 L525.2 728.5 L517.0 734.0 L508.7 739.5 L500.3 745.1 L491.6 750.6 L482.7 756.1 L473.6 761.6 L464.4 767.1 L455.0 772.5 L445.4 777.9 M661.7 600.4 L659.2 604.9 L656.4 609.4 L653.3 614.1 L650.0 618.8 L646.4 623.6 L642.7 628.4 L638.6 633.4 L634.4 638.3 L629.9 643.4 L625.2 648.5 L620.2 653.6 L615.0 658.8 L609.6 664.0 L604.0 669.2 L598.1 674.5 L592.0 679.9 L585.8 685.2 L579.3 690.6 L572.5 696.0 L565.6 701.5 L558.5 706.9 L551.1 712.4 L543.6 717.8 L535.8 723.3 L527.9 728.8 L519.7 734.3 L511.3 739.7 L502.8 745.2 L494.1 750.7 L485.1 756.1 L476.0 761.6 L466.7 767.0 L457.2 772.4 L447.6 777.8 M664.5 602.2 L662.0 606.6 L659.2 611.1 L656.2 615.7 L652.9 620.4 L649.4 625.1 L645.6 629.9 L641.6 634.7 L637.3 639.7 L632.9 644.6 L628.1 649.6 L623.2 654.7 L618.0 659.8 L612.6 665.0 L606.9 670.2 L601.1 675.4 L595.0 680.7 L588.7 686.0 L582.2 691.3 L575.4 696.7 L568.5 702.1 L561.3 707.5 L553.9 712.9 L546.3 718.3 L538.5 723.7 L530.5 729.1 L522.3 734.5 L513.9 740.0 L505.3 745.4 L496.5 750.8 L487.6 756.2 L478.4 761.6 L469.0 766.9 L459.5 772.3 L449.7 777.6 M667.2 604.1 L664.7 608.4 L662.0 612.9 L659.0 617.4 L655.7 622.0 L652.2 626.6 L648.5 631.3 L644.5 636.1 L640.3 641.0 L635.8 645.9 L631.1 650.8 L626.1 655.9 L620.9 660.9 L615.5 666.0 L609.9 671.2 L604.0 676.3 L597.9 681.6 L591.6 686.8 L585.0 692.1 L578.3 697.4 L571.3 702.7 L564.1 708.0 L556.7 713.4 L549.1 718.7 L541.2 724.1 L533.2 729.4 L524.9 734.8 L516.5 740.2 L507.9 745.5 L499.0 750.9 L490.0 756.2 L480.7 761.6 L471.3 766.9 L461.7 772.1 L451.9 777.4 M669.8 605.9 L667.4 610.2 L664.7 614.6 L661.7 619.0 L658.5 623.6 L655.0 628.2 L651.3 632.8 L647.3 637.5 L643.1 642.3 L638.6 647.2 L633.9 652.1 L629.0 657.0 L623.8 662.0 L618.4 667.1 L612.8 672.1 L606.9 677.3 L600.8 682.4 L594.4 687.6 L587.9 692.8 L581.1 698.0 L574.1 703.3 L566.9 708.6 L559.4 713.9 L551.8 719.2 L543.9 724.5 L535.8 729.8 L527.5 735.1 L519.0 740.4 L510.4 745.7 L501.5 751.0 L492.4 756.3 L483.1 761.6 L473.6 766.8 L463.9 772.0 L454.1 777.2 M672.4 607.9 L670.0 612.1 L667.3 616.4 L664.4 620.7 L661.2 625.2 L657.7 629.7 L654.0 634.3 L650.1 639.0 L645.9 643.7 L641.5 648.5 L636.8 653.3 L631.8 658.2 L626.7 663.1 L621.2 668.1 L615.6 673.1 L609.7 678.2 L603.6 683.3 L597.2 688.4 L590.7 693.6 L583.9 698.7 L576.8 703.9 L569.6 709.1 L562.1 714.4 L554.4 719.6 L546.5 724.9 L538.4 730.1 L530.1 735.4 L521.6 740.6 L512.9 745.9 L503.9 751.1 L494.8 756.3 L485.4 761.5 L475.9 766.7 L466.2 771.9 L456.2 777.0 M674.8 609.8 L672.5 613.9 L669.9 618.1 L667.0 622.5 L663.8 626.8 L660.4 631.3 L656.7 635.8 L652.8 640.4 L648.6 645.1 L644.2 649.8 L639.5 654.5 L634.6 659.4 L629.4 664.2 L624.0 669.2 L618.4 674.1 L612.5 679.1 L606.4 684.1 L600.0 689.2 L593.4 694.3 L586.6 699.4 L579.6 704.6 L572.3 709.7 L564.8 714.9 L557.1 720.1 L549.2 725.3 L541.0 730.5 L532.7 735.7 L524.1 740.9 L515.3 746.1 L506.3 751.2 L497.2 756.4 L487.8 761.5 L478.2 766.7 L468.4 771.8 L458.4 776.9 M677.2 611.7 L674.9 615.8 L672.3 619.9 L669.5 624.2 L666.4 628.5 L663.0 632.9 L659.4 637.3 L655.5 641.9 L651.3 646.4 L646.9 651.1 L642.3 655.8 L637.3 660.6 L632.2 665.4 L626.8 670.2 L621.1 675.1 L615.2 680.1 L609.1 685.0 L602.8 690.0 L596.2 695.1 L589.3 700.1 L582.3 705.2 L575.0 710.3 L567.5 715.4 L559.7 720.6 L551.8 725.7 L543.6 730.8 L535.2 736.0 L526.6 741.1 L517.8 746.2 L508.8 751.3 L499.5 756.5 L490.1 761.5 L480.5 766.6 L470.6 771.7 L460.6 776.7 M679.5 613.7 L677.3 617.7 L674.8 621.8 L672.0 625.9 L668.9 630.2 L665.5 634.5 L661.9 638.9 L658.1 643.3 L653.9 647.9 L649.6 652.4 L644.9 657.1 L640.0 661.8 L634.9 666.5 L629.5 671.3 L623.8 676.1 L618.0 681.0 L611.8 685.9 L605.5 690.9 L598.9 695.8 L592.0 700.8 L584.9 705.9 L577.6 710.9 L570.1 716.0 L562.3 721.0 L554.4 726.1 L546.2 731.2 L537.7 736.3 L529.1 741.3 L520.2 746.4 L511.2 751.5 L501.9 756.5 L492.4 761.5 L482.7 766.6 L472.8 771.5 L462.8 776.5 M681.8 615.7 L679.6 619.6 L677.1 623.6 L674.3 627.7 L671.3 631.9 L668.0 636.1 L664.4 640.4 L660.6 644.8 L656.5 649.3 L652.2 653.8 L647.5 658.4 L642.7 663.0 L637.5 667.7 L632.1 672.4 L626.5 677.2 L620.6 682.0 L614.5 686.8 L608.1 691.7 L601.5 696.6 L594.7 701.6 L587.6 706.5 L580.3 711.5 L572.7 716.5 L564.9 721.5 L556.9 726.5 L548.7 731.5 L540.2 736.6 L531.6 741.6 L522.7 746.6 L513.6 751.6 L504.3 756.6 L494.7 761.5 L485.0 766.5 L475.1 771.4 L464.9 776.3 M684.0 617.7 L681.8 621.5 L679.4 625.4 L676.7 629.5 L673.7 633.6 L670.4 637.7 L666.9 642.0 L663.1 646.3 L659.0 650.7 L654.7 655.2 L650.1 659.7 L645.2 664.2 L640.1 668.8 L634.7 673.5 L629.1 678.2 L623.2 683.0 L617.1 687.8 L610.8 692.6 L604.1 697.4 L597.3 702.3 L590.2 707.2 L582.9 712.1 L575.3 717.1 L567.5 722.0 L559.5 727.0 L551.2 731.9 L542.7 736.9 L534.0 741.8 L525.1 746.8 L516.0 751.7 L506.6 756.6 L497.1 761.6 L487.3 766.4 L477.3 771.3 L467.1 776.1 M686.1 619.7 L684.0 623.5 L681.6 627.3 L678.9 631.3 L676.0 635.3 L672.8 639.4 L669.3 643.6 L665.5 647.8 L661.5 652.1 L657.2 656.5 L652.6 661.0 L647.8 665.5 L642.7 670.0 L637.3 674.6 L631.7 679.3 L625.8 684.0 L619.7 688.7 L613.3 693.4 L606.7 698.2 L599.9 703.0 L592.8 707.9 L585.4 712.7 L577.8 717.6 L570.0 722.5 L562.0 727.4 L553.7 732.3 L545.2 737.2 L536.5 742.1 L527.5 747.0 L518.4 751.8 L509.0 756.7 L499.4 761.6 L489.5 766.4 L479.5 771.2 L469.3 776.0 M688.1 621.7 L686.0 625.4 L683.7 629.2 L681.1 633.1 L678.2 637.0 L675.0 641.1 L671.6 645.2 L667.9 649.4 L663.9 653.6 L659.6 657.9 L655.0 662.3 L650.2 666.7 L645.2 671.2 L639.8 675.7 L634.2 680.3 L628.4 685.0 L622.3 689.6 L615.9 694.3 L609.3 699.0 L602.4 703.8 L595.3 708.6 L588.0 713.4 L580.4 718.2 L572.6 723.0 L564.5 727.8 L556.2 732.7 L547.7 737.5 L538.9 742.3 L529.9 747.2 L520.7 752.0 L511.3 756.8 L501.7 761.6 L491.8 766.3 L481.7 771.1 L471.4 775.8 M690.0 623.8 L688.0 627.4 L685.8 631.1 L683.2 634.9 L680.4 638.8 L677.3 642.7 L673.9 646.8 L670.2 650.9 L666.2 655.1 L662.0 659.3 L657.4 663.6 L652.7 668.0 L647.6 672.4 L642.3 676.9 L636.7 681.4 L630.9 686.0 L624.8 690.6 L618.4 695.2 L611.8 699.9 L604.9 704.5 L597.8 709.3 L590.5 714.0 L582.9 718.7 L575.0 723.5 L567.0 728.3 L558.6 733.0 L550.1 737.8 L541.3 742.6 L532.3 747.4 L523.1 752.1 L513.6 756.9 L503.9 761.6 L494.0 766.3 L483.9 771.0 L473.6 775.6 M691.9 625.8 L690.0 629.4 L687.8 633.0 L685.3 636.7 L682.5 640.6 L679.4 644.4 L676.0 648.4 L672.4 652.5 L668.5 656.6 L664.3 660.7 L659.8 665.0 L655.0 669.3 L650.0 673.6 L644.7 678.0 L639.1 682.5 L633.3 687.0 L627.2 691.5 L620.9 696.1 L614.3 700.7 L607.4 705.3 L600.3 710.0 L593.0 714.6 L585.4 719.3 L577.5 724.0 L569.4 728.7 L561.1 733.4 L552.5 738.1 L543.7 742.9 L534.7 747.6 L525.4 752.2 L515.9 756.9 L506.2 761.6 L496.3 766.2 L486.1 770.8 L475.8 775.4 M693.7 627.9 L691.8 631.4 L689.7 635.0 L687.3 638.6 L684.5 642.3 L681.5 646.2 L678.2 650.1 L674.6 654.0 L670.7 658.1 L666.5 662.2 L662.1 666.3 L657.4 670.6 L652.4 674.9 L647.1 679.2 L641.5 683.6 L635.7 688.0 L629.7 692.5 L623.3 697.0 L616.7 701.5 L609.9 706.1 L602.8 710.7 L595.4 715.3 L587.8 719.9 L579.9 724.5 L571.8 729.2 L563.5 733.8 L554.9 738.5 L546.1 743.1 L537.0 747.8 L527.8 752.4 L518.2 757.0 L508.5 761.6 L498.5 766.2 L488.3 770.7 L477.9 775.2 M695.4 630.0 L693.6 633.4 L691.5 636.9 L689.2 640.5 L686.5 644.1 L683.5 647.9 L680.3 651.7 L676.7 655.6 L672.9 659.6 L668.7 663.6 L664.3 667.7 L659.6 671.9 L654.7 676.1 L649.4 680.4 L643.9 684.7 L638.1 689.0 L632.0 693.4 L625.7 697.9 L619.1 702.3 L612.3 706.8 L605.2 711.4 L597.8 715.9 L590.2 720.5 L582.4 725.0 L574.3 729.6 L565.9 734.2 L557.3 738.8 L548.5 743.4 L539.4 748.0 L530.1 752.5 L520.5 757.1 L510.8 761.6 L500.8 766.1 L490.6 770.6 L480.1 775.1 M697.0 632.2 L695.3 635.5 L693.3 638.9 L691.0 642.4 L688.4 646.0 L685.5 649.6 L682.3 653.4 L678.8 657.2 L675.0 661.1 L670.9 665.1 L666.5 669.1 L661.8 673.2 L656.9 677.3 L651.7 681.5 L646.2 685.8 L640.4 690.1 L634.4 694.4 L628.1 698.8 L621.5 703.2 L614.7 707.6 L607.6 712.1 L600.2 716.6 L592.6 721.1 L584.8 725.6 L576.6 730.1 L568.3 734.6 L559.7 739.1 L550.8 743.7 L541.7 748.2 L532.4 752.7 L522.8 757.2 L513.0 761.6 L503.0 766.1 L492.8 770.5 L482.3 774.9 M698.6 634.3 L697.0 637.5 L695.0 640.8 L692.8 644.3 L690.2 647.8 L687.4 651.4 L684.2 655.1 L680.8 658.8 L677.0 662.6 L673.0 666.5 L668.6 670.5 L664.0 674.5 L659.1 678.6 L653.9 682.7 L648.5 686.9 L642.7 691.1 L636.7 695.4 L630.4 699.7 L623.9 704.1 L617.0 708.4 L609.9 712.8 L602.6 717.2 L595.0 721.7 L587.1 726.1 L579.0 730.6 L570.6 735.0 L562.0 739.5 L553.2 743.9 L544.0 748.4 L534.7 752.8 L525.1 757.2 L515.3 761.6 L505.2 766.0 L495.0 770.4 L484.5 774.7 M700.1 636.4 L698.5 639.6 L696.7 642.8 L694.5 646.2 L692.0 649.6 L689.2 653.1 L686.1 656.7 L682.7 660.4 L679.0 664.2 L675.0 668.0 L670.7 671.9 L666.1 675.8 L661.3 679.9 L656.1 683.9 L650.7 688.0 L645.0 692.2 L639.0 696.4 L632.7 700.6 L626.2 704.9 L619.3 709.2 L612.3 713.5 L604.9 717.9 L597.3 722.3 L589.5 726.6 L581.3 731.0 L573.0 735.4 L564.3 739.8 L555.5 744.2 L546.4 748.6 L537.0 753.0 L527.4 757.3 L517.5 761.7 L507.5 766.0 L497.2 770.3 L486.6 774.5 M701.5 638.6 L700.0 641.7 L698.2 644.8 L696.1 648.1 L693.7 651.5 L691.0 654.9 L687.9 658.4 L684.6 662.1 L680.9 665.7 L677.0 669.5 L672.7 673.3 L668.2 677.2 L663.4 681.1 L658.3 685.1 L652.9 689.2 L647.2 693.3 L641.2 697.4 L635.0 701.6 L628.4 705.8 L621.6 710.0 L614.6 714.3 L607.2 718.6 L599.6 722.9 L591.8 727.2 L583.7 731.5 L575.3 735.8 L566.7 740.2 L557.8 744.5 L548.6 748.8 L539.3 753.1 L529.7 757.4 L519.8 761.7 L509.7 765.9 L499.4 770.2 L488.8 774.3 M702.8 640.8 L701.4 643.8 L699.7 646.9 L697.7 650.1 L695.3 653.3 L692.7 656.7 L689.7 660.2 L686.4 663.7 L682.8 667.3 L678.9 671.0 L674.7 674.7 L670.2 678.6 L665.4 682.4 L660.4 686.3 L655.0 690.3 L649.3 694.4 L643.4 698.4 L637.2 702.5 L630.7 706.7 L623.9 710.8 L616.8 715.0 L609.5 719.2 L601.9 723.5 L594.1 727.7 L586.0 732.0 L577.6 736.3 L569.0 740.5 L560.1 744.8 L550.9 749.0 L541.5 753.3 L531.9 757.5 L522.0 761.7 L511.9 765.9 L501.6 770.0 L491.0 774.2 M704.1 643.0 L702.8 645.9 L701.2 648.9 L699.2 652.0 L696.9 655.2 L694.3 658.5 L691.4 661.9 L688.2 665.4 L684.6 668.9 L680.8 672.5 L676.6 676.2 L672.2 679.9 L667.4 683.7 L662.4 687.6 L657.1 691.5 L651.4 695.4 L645.5 699.4 L639.3 703.5 L632.9 707.5 L626.1 711.7 L619.1 715.8 L611.8 719.9 L604.2 724.1 L596.3 728.3 L588.2 732.5 L579.9 736.7 L571.2 740.9 L562.3 745.1 L553.2 749.2 L543.8 753.4 L534.2 757.6 L524.3 761.7 L514.1 765.8 L503.7 769.9 L493.1 774.0 M705.3 645.2 L704.1 648.0 L702.5 651.0 L700.6 654.0 L698.4 657.1 L695.9 660.3 L693.0 663.6 L689.9 667.0 L686.4 670.5 L682.6 674.0 L678.5 677.6 L674.1 681.3 L669.4 685.0 L664.4 688.8 L659.1 692.6 L653.5 696.5 L647.6 700.5 L641.5 704.4 L635.0 708.4 L628.3 712.5 L621.3 716.5 L614.0 720.6 L606.4 724.7 L598.6 728.8 L590.5 733.0 L582.1 737.1 L573.5 741.2 L564.6 745.4 L555.4 749.5 L546.0 753.6 L536.4 757.7 L526.5 761.7 L516.3 765.8 L505.9 769.8 L495.3 773.8 M706.4 647.4 L705.3 650.2 L703.8 653.0 L702.0 656.0 L699.8 659.0 L697.4 662.2 L694.6 665.4 L691.5 668.7 L688.1 672.1 L684.3 675.5 L680.3 679.1 L676.0 682.7 L671.3 686.3 L666.4 690.1 L661.1 693.8 L655.6 697.6 L649.7 701.5 L643.6 705.4 L637.1 709.3 L630.4 713.3 L623.5 717.3 L616.2 721.3 L608.6 725.3 L600.8 729.4 L592.7 733.5 L584.4 737.5 L575.7 741.6 L566.8 745.6 L557.7 749.7 L548.3 753.7 L538.6 757.8 L528.7 761.8 L518.5 765.8 L508.1 769.7 L497.5 773.6 M707.4 649.7 L706.4 652.3 L705.0 655.1 L703.3 658.0 L701.2 660.9 L698.8 664.0 L696.1 667.1 L693.1 670.4 L689.7 673.7 L686.0 677.1 L682.1 680.5 L677.8 684.1 L673.2 687.7 L668.3 691.3 L663.1 695.0 L657.5 698.7 L651.7 702.5 L645.6 706.4 L639.2 710.2 L632.6 714.1 L625.6 718.1 L618.3 722.0 L610.8 726.0 L603.0 730.0 L594.9 734.0 L586.6 737.9 L578.0 741.9 L569.1 745.9 L559.9 749.9 L550.5 753.9 L540.8 757.9 L530.9 761.8 L520.7 765.7 L510.3 769.6 L499.6 773.4 M708.4 651.9 L707.4 654.5 L706.1 657.2 L704.5 660.0 L702.5 662.9 L700.2 665.8 L697.6 668.9 L694.6 672.1 L691.3 675.3 L687.7 678.6 L683.8 682.0 L679.5 685.5 L675.0 689.0 L670.1 692.6 L665.0 696.2 L659.5 699.9 L653.7 703.6 L647.7 707.3 L641.3 711.1 L634.6 715.0 L627.7 718.8 L620.5 722.7 L613.0 726.6 L605.2 730.5 L597.1 734.5 L588.8 738.4 L580.2 742.3 L571.3 746.2 L562.1 750.2 L552.7 754.1 L543.0 758.0 L533.1 761.8 L522.9 765.7 L512.5 769.5 L501.8 773.3 M709.3 654.2 L708.4 656.7 L707.2 659.3 L705.6 662.0 L703.7 664.8 L701.5 667.7 L698.9 670.7 L696.0 673.8 L692.8 677.0 L689.3 680.2 L685.4 683.5 L681.2 686.9 L676.7 690.3 L671.9 693.8 L666.8 697.4 L661.4 701.0 L655.7 704.6 L649.6 708.3 L643.3 712.1 L636.7 715.8 L629.8 719.6 L622.6 723.4 L615.1 727.3 L607.3 731.1 L599.3 735.0 L590.9 738.8 L582.3 742.7 L573.5 746.5 L564.3 750.4 L554.9 754.2 L545.2 758.1 L535.3 761.9 L525.1 765.6 L514.7 769.4 L504.0 773.1 M710.1 656.4 L709.3 658.9 L708.2 661.4 L706.7 664.0 L704.9 666.8 L702.8 669.6 L700.3 672.5 L697.4 675.5 L694.3 678.6 L690.8 681.8 L687.0 685.0 L682.9 688.3 L678.5 691.7 L673.7 695.1 L668.6 698.6 L663.3 702.1 L657.6 705.7 L651.6 709.3 L645.3 713.0 L638.7 716.7 L631.8 720.4 L624.7 724.1 L617.2 727.9 L609.4 731.7 L601.4 735.5 L593.1 739.3 L584.5 743.1 L575.6 746.8 L566.5 750.6 L557.1 754.4 L547.4 758.1 L537.5 761.9 L527.3 765.6 L516.9 769.3 L506.1 772.9 M710.8 658.7 L710.1 661.1 L709.1 663.5 L707.7 666.1 L706.0 668.7 L703.9 671.5 L701.5 674.3 L698.8 677.2 L695.7 680.2 L692.3 683.3 L688.6 686.5 L684.5 689.7 L680.1 693.0 L675.4 696.4 L670.4 699.8 L665.1 703.3 L659.4 706.8 L653.5 710.3 L647.2 713.9 L640.7 717.5 L633.8 721.2 L626.7 724.9 L619.3 728.6 L611.5 732.3 L603.5 736.0 L595.2 739.7 L586.7 743.4 L577.8 747.2 L568.7 750.9 L559.3 754.6 L549.6 758.2 L539.7 761.9 L529.5 765.5 L519.0 769.2 L508.3 772.7 M711.5 661.0 L710.9 663.3 L710.0 665.6 L708.7 668.1 L707.0 670.7 L705.1 673.4 L702.7 676.1 L700.1 679.0 L697.1 681.9 L693.7 684.9 L690.1 688.0 L686.1 691.2 L681.7 694.4 L677.1 697.7 L672.1 701.0 L666.9 704.4 L661.3 707.8 L655.4 711.3 L649.2 714.8 L642.6 718.4 L635.8 722.0 L628.7 725.6 L621.3 729.2 L613.6 732.8 L605.6 736.5 L597.4 740.2 L588.8 743.8 L580.0 747.5 L570.8 751.1 L561.5 754.7 L551.8 758.3 L541.9 761.9 L531.7 765.5 L521.2 769.0 L510.5 772.5 M712.1 663.3 L711.6 665.5 L710.7 667.8 L709.6 670.2 L708.0 672.7 L706.1 675.3 L703.9 677.9 L701.3 680.7 L698.4 683.6 L695.1 686.5 L691.5 689.5 L687.6 692.6 L683.3 695.8 L678.7 699.0 L673.8 702.2 L668.6 705.6 L663.1 708.9 L657.2 712.3 L651.0 715.8 L644.6 719.3 L637.8 722.8 L630.7 726.3 L623.3 729.9 L615.7 733.4 L607.7 737.0 L599.5 740.6 L590.9 744.2 L582.1 747.8 L573.0 751.3 L563.6 754.9 L554.0 758.5 L544.0 762.0 L533.8 765.5 L523.4 768.9 L512.7 772.4 M712.6 665.7 L712.2 667.8 L711.5 669.9 L710.4 672.3 L708.9 674.7 L707.1 677.2 L704.9 679.8 L702.4 682.5 L699.6 685.3 L696.4 688.1 L692.9 691.1 L689.0 694.1 L684.8 697.1 L680.3 700.3 L675.5 703.5 L670.3 706.7 L664.8 710.0 L659.0 713.4 L652.9 716.7 L646.4 720.1 L639.7 723.6 L632.7 727.0 L625.3 730.5 L617.7 734.0 L609.8 737.5 L601.5 741.1 L593.0 744.6 L584.2 748.1 L575.1 751.6 L565.8 755.1 L556.1 758.6 L546.2 762.0 L536.0 765.4 L525.6 768.8 L514.8 772.2 M713.0 668.0 L712.7 670.0 L712.1 672.1 L711.1 674.3 L709.7 676.7 L708.0 679.1 L705.9 681.6 L703.5 684.2 L700.8 686.9 L697.7 689.7 L694.2 692.6 L690.4 695.5 L686.3 698.5 L681.8 701.6 L677.0 704.7 L671.9 707.9 L666.5 711.1 L660.8 714.4 L654.7 717.7 L648.3 721.0 L641.6 724.4 L634.6 727.8 L627.3 731.2 L619.7 734.6 L611.8 738.1 L603.6 741.5 L595.1 745.0 L586.3 748.4 L577.2 751.8 L567.9 755.3 L558.3 758.7 L548.4 762.0 L538.2 765.4 L527.7 768.7 L517.0 772.0 M300.0 540.0 L322.6 539.3 L344.6 539.0 L366.0 539.0 L386.8 539.3 L406.9 540.0 L426.4 541.0 L445.3 542.3 L463.5 543.9 L481.1 545.8 L498.1 548.0 L514.4 550.5 L530.1 553.3 L545.2 556.3 L559.6 559.6 L573.4 563.2 L586.6 567.0 L599.1 571.0 L611.0 575.3 L622.2 579.7 L632.8 584.4 L642.8 589.3 L652.1 594.4 L660.7 599.7 L668.7 605.2 L676.1 610.8 L682.8 616.6 L688.9 622.6 L694.3 628.7 L699.0 634.9 L703.1 641.3 L706.6 647.8 L709.4 654.4 L711.5 661.2 L713.0 668.0 M300.0 544.3 L322.4 543.6 L344.3 543.2 L365.5 543.2 L386.1 543.5 L406.1 544.1 L425.5 545.1 L444.2 546.3 L462.3 547.9 L479.8 549.8 L496.7 551.9 L513.0 554.3 L528.6 557.0 L543.7 560.0 L558.1 563.2 L571.8 566.7 L585.0 570.4 L597.5 574.3 L609.3 578.5 L620.6 582.8 L631.2 587.4 L641.2 592.2 L650.5 597.2 L659.3 602.3 L667.3 607.7 L674.8 613.2 L681.6 618.9 L687.7 624.7 L693.3 630.7 L698.1 636.8 L702.4 643.0 L706.0 649.4 L708.9 655.9 L711.2 662.5 L712.9 669.2 M300.0 548.6 L322.3 547.9 L343.9 547.5 L365.0 547.4 L385.4 547.7 L405.3 548.3 L424.5 549.2 L443.1 550.4 L461.1 551.9 L478.5 553.7 L495.3 555.8 L511.5 558.2 L527.1 560.8 L542.1 563.7 L556.4 566.8 L570.1 570.2 L583.3 573.8 L595.8 577.6 L607.6 581.7 L618.9 586.0 L629.5 590.4 L639.5 595.1 L648.9 600.0 L657.7 605.0 L665.8 610.2 L673.4 615.6 L680.2 621.2 L686.5 626.9 L692.1 632.7 L697.1 638.7 L701.5 644.8 L705.2 651.0 L708.3 657.4 L710.8 663.8 L712.6 670.4 M300.0 552.9 L322.1 552.2 L343.5 551.8 L364.4 551.7 L384.7 551.9 L404.4 552.5 L423.5 553.4 L442.0 554.5 L459.9 556.0 L477.2 557.7 L493.9 559.7 L510.0 562.0 L525.5 564.6 L540.4 567.4 L554.7 570.4 L568.4 573.7 L581.5 577.2 L594.0 581.0 L605.8 584.9 L617.1 589.1 L627.8 593.5 L637.8 598.0 L647.2 602.8 L656.0 607.7 L664.2 612.8 L671.8 618.1 L678.8 623.5 L685.2 629.1 L690.9 634.8 L696.0 640.6 L700.5 646.6 L704.4 652.7 L707.6 658.9 L710.3 665.2 L712.3 671.6 M300.0 557.2 L321.9 556.5 L343.2 556.1 L363.9 556.0 L384.0 556.2 L403.5 556.7 L422.5 557.5 L440.9 558.6 L458.6 560.0 L475.8 561.7 L492.5 563.7 L508.5 565.9 L523.9 568.4 L538.7 571.1 L553.0 574.1 L566.6 577.3 L579.7 580.7 L592.1 584.3 L604.0 588.2 L615.3 592.3 L625.9 596.5 L636.0 601.0 L645.4 605.6 L654.3 610.4 L662.6 615.4 L670.2 620.6 L677.3 625.9 L683.7 631.3 L689.6 636.9 L694.8 642.6 L699.4 648.4 L703.4 654.4 L706.8 660.4 L709.6 666.6 L711.8 672.9 M300.0 561.6 L321.7 560.8 L342.8 560.3 L363.3 560.2 L383.3 560.4 L402.6 560.9 L421.5 561.7 L439.7 562.7 L457.4 564.1 L474.4 565.7 L490.9 567.6 L506.9 569.8 L522.2 572.2 L537.0 574.8 L551.2 577.7 L564.8 580.8 L577.8 584.2 L590.2 587.7 L602.1 591.5 L613.3 595.4 L624.0 599.6 L634.1 604.0 L643.6 608.5 L652.5 613.2 L660.8 618.0 L668.5 623.1 L675.6 628.2 L682.2 633.6 L688.1 639.0 L693.5 644.6 L698.2 650.3 L702.3 656.1 L705.9 662.0 L708.8 668.1 L711.2 674.2 M300.0 565.9 L321.5 565.1 L342.4 564.6 L362.7 564.5 L382.5 564.6 L401.7 565.1 L420.4 565.8 L438.5 566.9 L456.0 568.2 L473.0 569.7 L489.4 571.6 L505.2 573.6 L520.5 576.0 L535.2 578.6 L549.3 581.4 L562.9 584.4 L575.9 587.6 L588.3 591.1 L600.1 594.8 L611.3 598.6 L622.0 602.7 L632.1 606.9 L641.6 611.4 L650.6 616.0 L658.9 620.7 L666.7 625.6 L673.9 630.7 L680.5 635.8 L686.6 641.2 L692.0 646.6 L696.9 652.2 L701.1 657.9 L704.8 663.7 L707.9 669.6 L710.4 675.5 M300.0 570.2 L321.3 569.4 L342.0 568.9 L362.1 568.7 L381.8 568.9 L400.8 569.3 L419.3 570.0 L437.3 571.0 L454.7 572.2 L471.5 573.7 L487.8 575.5 L503.6 577.5 L518.7 579.8 L533.4 582.3 L547.4 585.0 L560.9 588.0 L573.9 591.2 L586.2 594.5 L598.0 598.1 L609.3 601.9 L620.0 605.8 L630.1 610.0 L639.6 614.3 L648.6 618.7 L657.0 623.4 L664.8 628.2 L672.1 633.1 L678.8 638.2 L684.9 643.4 L690.5 648.7 L695.4 654.1 L699.8 659.7 L703.7 665.3 L706.9 671.1 L709.6 676.9 M300.0 574.5 L321.1 573.7 L341.6 573.2 L361.5 573.0 L381.0 573.1 L399.9 573.5 L418.2 574.2 L436.1 575.1 L453.3 576.3 L470.0 577.8 L486.2 579.5 L501.9 581.4 L516.9 583.6 L531.5 586.1 L545.5 588.7 L558.9 591.6 L571.8 594.7 L584.1 598.0 L595.9 601.4 L607.2 605.1 L617.8 609.0 L628.0 613.0 L637.5 617.2 L646.5 621.6 L655.0 626.1 L662.9 630.7 L670.2 635.6 L677.0 640.5 L683.2 645.6 L688.8 650.8 L693.9 656.1 L698.4 661.5 L702.4 667.0 L705.8 672.6 L708.6 678.3 M300.0 578.8 L320.8 578.0 L341.2 577.5 L360.9 577.3 L380.2 577.4 L398.9 577.7 L417.1 578.3 L434.8 579.2 L451.9 580.4 L468.5 581.8 L484.6 583.5 L500.1 585.4 L515.1 587.5 L529.6 589.9 L543.5 592.4 L556.9 595.2 L569.7 598.2 L582.0 601.4 L593.7 604.8 L605.0 608.4 L615.6 612.1 L625.8 616.1 L635.3 620.1 L644.4 624.4 L652.9 628.8 L660.8 633.4 L668.2 638.1 L675.0 642.9 L681.3 647.8 L687.1 652.9 L692.3 658.1 L696.9 663.4 L701.0 668.7 L704.5 674.2 L707.5 679.8 M300.0 583.1 L320.6 582.3 L340.7 581.8 L360.3 581.6 L379.4 581.6 L397.9 581.9 L416.0 582.5 L433.5 583.4 L450.5 584.5 L467.0 585.9 L482.9 587.5 L498.3 589.3 L513.2 591.4 L527.6 593.6 L541.4 596.1 L554.7 598.9 L567.5 601.8 L579.8 604.9 L591.5 608.2 L602.7 611.7 L613.4 615.3 L623.5 619.1 L633.1 623.1 L642.1 627.3 L650.7 631.6 L658.7 636.0 L666.1 640.6 L673.0 645.3 L679.4 650.1 L685.2 655.0 L690.5 660.1 L695.3 665.2 L699.5 670.5 L703.1 675.8 L706.3 681.3 M300.0 587.4 L320.4 586.6 L340.3 586.1 L359.7 585.8 L378.6 585.9 L397.0 586.2 L414.8 586.7 L432.2 587.5 L449.0 588.6 L465.4 589.9 L481.2 591.5 L496.5 593.2 L511.3 595.2 L525.6 597.4 L539.3 599.9 L552.6 602.5 L565.3 605.3 L577.5 608.4 L589.2 611.6 L600.4 615.0 L611.0 618.5 L621.1 622.2 L630.8 626.1 L639.8 630.1 L648.4 634.3 L656.4 638.7 L663.9 643.1 L670.9 647.7 L677.4 652.4 L683.3 657.2 L688.7 662.1 L693.5 667.2 L697.8 672.3 L701.6 677.5 L704.9 682.8 M300.0 591.7 L320.2 590.9 L339.9 590.4 L359.1 590.1 L377.7 590.1 L395.9 590.4 L413.6 590.9 L430.8 591.7 L447.5 592.7 L463.7 594.0 L479.4 595.5 L494.6 597.2 L509.3 599.1 L523.5 601.3 L537.2 603.6 L550.4 606.2 L563.0 608.9 L575.2 611.9 L586.8 615.0 L598.0 618.3 L608.6 621.7 L618.7 625.3 L628.3 629.1 L637.4 633.1 L646.0 637.1 L654.1 641.3 L661.6 645.7 L668.7 650.1 L675.2 654.7 L681.2 659.4 L686.7 664.2 L691.7 669.1 L696.1 674.1 L700.0 679.2 L703.4 684.3 M300.0 596.0 L320.0 595.2 L339.4 594.7 L358.4 594.4 L376.9 594.4 L394.9 594.6 L412.4 595.1 L429.5 595.9 L446.0 596.8 L462.1 598.0 L477.6 599.5 L492.7 601.1 L507.3 603.0 L521.4 605.1 L535.0 607.4 L548.1 609.9 L560.7 612.5 L572.8 615.4 L584.4 618.4 L595.5 621.6 L606.1 625.0 L616.2 628.5 L625.9 632.2 L635.0 636.0 L643.6 639.9 L651.7 644.0 L659.3 648.3 L666.4 652.6 L673.0 657.1 L679.1 661.6 L684.6 666.3 L689.7 671.1 L694.3 675.9 L698.3 680.9 L701.9 685.9 M300.0 600.3 L319.7 599.5 L339.0 599.0 L357.7 598.7 L376.0 598.6 L393.9 598.9 L411.2 599.3 L428.1 600.0 L444.5 601.0 L460.4 602.1 L475.8 603.5 L490.8 605.1 L505.2 606.9 L519.2 608.9 L532.7 611.1 L545.8 613.5 L558.3 616.1 L570.3 618.9 L581.9 621.8 L593.0 624.9 L603.6 628.2 L613.7 631.6 L623.3 635.2 L632.4 638.9 L641.0 642.8 L649.2 646.8 L656.8 650.9 L664.0 655.1 L670.6 659.4 L676.8 663.9 L682.5 668.4 L687.6 673.1 L692.3 677.8 L696.5 682.6 L700.1 687.5 M300.0 604.7 L319.5 603.8 L338.5 603.3 L357.1 603.0 L375.2 602.9 L392.8 603.1 L410.0 603.5 L426.7 604.2 L442.9 605.1 L458.7 606.2 L474.0 607.5 L488.8 609.1 L503.1 610.8 L517.0 612.8 L530.4 614.9 L543.4 617.2 L555.8 619.8 L567.8 622.4 L579.3 625.3 L590.4 628.3 L601.0 631.5 L611.0 634.8 L620.6 638.3 L629.8 641.9 L638.4 645.6 L646.6 649.5 L654.3 653.5 L661.5 657.6 L668.2 661.8 L674.4 666.2 L680.2 670.6 L685.4 675.1 L690.2 679.7 L694.5 684.4 L698.3 689.1 M300.0 609.0 L319.2 608.1 L338.0 607.6 L356.4 607.2 L374.3 607.2 L391.7 607.3 L408.7 607.7 L425.2 608.4 L441.3 609.2 L456.9 610.3 L472.1 611.6 L486.8 613.1 L501.0 614.8 L514.8 616.6 L528.1 618.7 L540.9 621.0 L553.3 623.4 L565.3 626.0 L576.7 628.8 L587.7 631.7 L598.3 634.8 L608.3 638.0 L617.9 641.4 L627.1 644.9 L635.7 648.5 L643.9 652.3 L651.6 656.1 L658.9 660.1 L665.7 664.2 L672.0 668.4 L677.8 672.8 L683.2 677.1 L688.0 681.6 L692.5 686.2 L696.4 690.8 M300.0 613.3 L319.0 612.4 L337.6 611.9 L355.7 611.5 L373.4 611.5 L390.6 611.6 L407.4 612.0 L423.8 612.6 L439.7 613.4 L455.1 614.4 L470.1 615.6 L484.7 617.1 L498.8 618.7 L512.5 620.5 L525.7 622.5 L538.5 624.7 L550.8 627.0 L562.6 629.6 L574.0 632.2 L585.0 635.1 L595.5 638.1 L605.5 641.2 L615.1 644.5 L624.3 647.9 L632.9 651.4 L641.1 655.0 L648.9 658.8 L656.2 662.7 L663.0 666.7 L669.4 670.8 L675.3 674.9 L680.8 679.2 L685.8 683.6 L690.3 688.0 L694.3 692.5 M300.0 617.6 L318.8 616.8 L337.1 616.2 L355.0 615.8 L372.5 615.7 L389.5 615.8 L406.1 616.2 L422.3 616.8 L438.0 617.5 L453.3 618.5 L468.2 619.7 L482.6 621.1 L496.6 622.6 L510.1 624.4 L523.3 626.3 L535.9 628.4 L548.2 630.7 L560.0 633.1 L571.3 635.7 L582.2 638.5 L592.7 641.4 L602.7 644.4 L612.3 647.6 L621.4 650.9 L630.1 654.3 L638.3 657.8 L646.1 661.5 L653.4 665.3 L660.3 669.1 L666.7 673.1 L672.7 677.2 L678.3 681.3 L683.3 685.5 L688.0 689.8 L692.2 694.2 M300.0 621.9 L318.5 621.1 L336.6 620.5 L354.3 620.1 L371.5 620.0 L388.4 620.1 L404.8 620.4 L420.8 620.9 L436.3 621.7 L451.5 622.6 L466.2 623.8 L480.5 625.1 L494.3 626.6 L507.8 628.3 L520.8 630.1 L533.4 632.2 L545.5 634.4 L557.2 636.7 L568.5 639.2 L579.4 641.9 L589.8 644.7 L599.8 647.6 L609.3 650.7 L618.4 653.9 L627.1 657.2 L635.4 660.7 L643.2 664.2 L650.6 667.9 L657.5 671.6 L664.0 675.5 L670.0 679.4 L675.7 683.4 L680.8 687.5 L685.6 691.7 L689.9 695.9 M300.0 626.2 L318.3 625.4 L336.1 624.8 L353.6 624.4 L370.6 624.3 L387.2 624.4 L403.4 624.7 L419.2 625.1 L434.6 625.8 L449.6 626.7 L464.2 627.8 L478.3 629.1 L492.0 630.5 L505.3 632.2 L518.2 634.0 L530.7 635.9 L542.8 638.1 L554.4 640.3 L565.6 642.8 L576.4 645.3 L586.8 648.0 L596.8 650.9 L606.3 653.9 L615.4 657.0 L624.1 660.2 L632.4 663.5 L640.2 666.9 L647.6 670.5 L654.6 674.1 L661.1 677.8 L667.3 681.7 L673.0 685.6 L678.2 689.5 L683.1 693.6 L687.5 697.7 M300.0 630.5 L318.0 629.7 L335.6 629.1 L352.8 628.7 L369.6 628.6 L386.1 628.6 L402.1 628.9 L417.7 629.4 L432.9 630.0 L447.7 630.9 L462.1 631.9 L476.1 633.1 L489.7 634.5 L502.9 636.1 L515.7 637.8 L528.0 639.7 L540.0 641.7 L551.6 643.9 L562.7 646.3 L573.4 648.8 L583.8 651.4 L593.7 654.1 L603.2 657.0 L612.3 660.0 L621.0 663.1 L629.3 666.3 L637.1 669.7 L644.5 673.1 L651.6 676.6 L658.2 680.2 L664.4 683.9 L670.1 687.7 L675.5 691.6 L680.4 695.5 L684.9 699.5 M300.0 634.8 L317.8 634.0 L335.1 633.4 L352.1 633.0 L368.7 632.9 L384.9 632.9 L400.7 633.1 L416.1 633.6 L431.1 634.2 L445.8 635.0 L460.0 636.0 L473.8 637.1 L487.3 638.5 L500.4 640.0 L513.0 641.7 L525.3 643.5 L537.2 645.4 L548.6 647.6 L559.7 649.8 L570.4 652.2 L580.7 654.8 L590.6 657.4 L600.0 660.2 L609.1 663.1 L617.8 666.1 L626.1 669.2 L633.9 672.4 L641.4 675.7 L648.5 679.2 L655.1 682.7 L661.4 686.2 L667.2 689.9 L672.7 693.6 L677.7 697.4 L682.3 701.3 M300.0 639.1 L317.5 638.3 L334.6 637.7 L351.3 637.3 L367.7 637.1 L383.7 637.2 L399.3 637.4 L414.5 637.8 L429.3 638.4 L443.8 639.1 L457.9 640.1 L471.6 641.2 L484.9 642.5 L497.8 643.9 L510.4 645.5 L522.5 647.3 L534.3 649.2 L545.7 651.2 L556.7 653.4 L567.3 655.7 L577.5 658.1 L587.4 660.7 L596.8 663.4 L605.9 666.2 L614.5 669.1 L622.8 672.1 L630.7 675.2 L638.2 678.4 L645.3 681.7 L652.0 685.1 L658.3 688.5 L664.2 692.1 L669.7 695.7 L674.8 699.4 L679.6 703.1 M300.0 643.4 L317.2 642.6 L334.1 642.0 L350.6 641.6 L366.7 641.4 L382.5 641.4 L397.8 641.6 L412.9 642.0 L427.5 642.5 L441.8 643.3 L455.7 644.2 L469.3 645.2 L482.4 646.5 L495.2 647.8 L507.6 649.4 L519.7 651.1 L531.4 652.9 L542.6 654.8 L553.6 656.9 L564.1 659.2 L574.3 661.5 L584.1 664.0 L593.5 666.6 L602.5 669.3 L611.2 672.1 L619.4 675.0 L627.3 678.0 L634.9 681.1 L642.0 684.3 L648.7 687.5 L655.1 690.9 L661.1 694.3 L666.7 697.8 L671.9 701.3 L676.7 704.9 M300.0 647.8 L317.0 647.0 L333.6 646.4 L349.8 645.9 L365.7 645.7 L381.2 645.7 L396.4 645.9 L411.2 646.2 L425.7 646.7 L439.8 647.4 L453.5 648.3 L466.9 649.3 L479.9 650.4 L492.6 651.8 L504.9 653.2 L516.8 654.9 L528.4 656.6 L539.6 658.5 L550.4 660.5 L560.9 662.7 L571.0 664.9 L580.7 667.3 L590.1 669.8 L599.1 672.4 L607.7 675.1 L616.0 677.9 L623.9 680.8 L631.4 683.8 L638.6 686.8 L645.4 690.0 L651.8 693.2 L657.8 696.5 L663.5 699.9 L668.8 703.3 L673.7 706.8 M300.0 652.1 L316.7 651.3 L333.0 650.7 L349.0 650.3 L364.7 650.0 L380.0 650.0 L394.9 650.1 L409.5 650.4 L423.8 650.9 L437.7 651.6 L451.3 652.4 L464.5 653.3 L477.4 654.4 L489.9 655.7 L502.1 657.1 L513.9 658.7 L525.3 660.3 L536.4 662.2 L547.2 664.1 L557.6 666.2 L567.6 668.3 L577.3 670.6 L586.6 673.0 L595.6 675.5 L604.2 678.1 L612.5 680.8 L620.4 683.6 L627.9 686.5 L635.1 689.4 L642.0 692.5 L648.4 695.6 L654.5 698.8 L660.3 702.0 L665.6 705.3 L670.7 708.7 M300.0 656.4 L316.4 655.6 L332.5 655.0 L348.2 654.6 L363.6 654.3 L378.7 654.3 L393.4 654.4 L407.9 654.7 L421.9 655.1 L435.6 655.7 L449.0 656.5 L462.1 657.4 L474.8 658.5 L487.2 659.7 L499.2 661.0 L510.9 662.5 L522.2 664.1 L533.2 665.8 L543.9 667.7 L554.2 669.7 L564.2 671.7 L573.8 673.9 L583.1 676.3 L592.1 678.7 L600.7 681.2 L608.9 683.8 L616.8 686.4 L624.4 689.2 L631.6 692.0 L638.4 695.0 L644.9 698.0 L651.1 701.0 L656.9 704.1 L662.4 707.3 L667.5 710.5 M300.0 660.7 L316.1 659.9 L331.9 659.3 L347.4 658.9 L362.6 658.6 L377.4 658.5 L391.9 658.6 L406.1 658.9 L420.0 659.3 L433.5 659.9 L446.7 660.6 L459.6 661.5 L472.2 662.5 L484.4 663.6 L496.3 664.9 L507.9 666.3 L519.1 667.8 L530.0 669.5 L540.6 671.3 L550.8 673.2 L560.7 675.2 L570.3 677.3 L579.5 679.5 L588.4 681.8 L597.0 684.2 L605.2 686.7 L613.1 689.3 L620.7 691.9 L627.9 694.7 L634.8 697.5 L641.4 700.3 L647.6 703.3 L653.4 706.3 L659.0 709.3 L664.2 712.5 M300.0 665.0 L315.9 664.2 L331.4 663.6 L346.6 663.2 L361.5 662.9 L376.1 662.8 L390.4 662.9 L404.4 663.1 L418.0 663.5 L431.4 664.0 L444.4 664.7 L457.1 665.5 L469.5 666.5 L481.6 667.6 L493.3 668.8 L504.8 670.1 L515.9 671.6 L526.7 673.2 L537.2 674.9 L547.3 676.7 L557.2 678.6 L566.7 680.6 L575.9 682.7 L584.7 685.0 L593.3 687.3 L601.5 689.6 L609.4 692.1 L616.9 694.7 L624.2 697.3 L631.1 700.0 L637.7 702.7 L643.9 705.6 L649.9 708.5 L655.5 711.4 L660.8 714.4 M300.0 669.3 L315.6 668.5 L330.8 667.9 L345.8 667.5 L360.5 667.2 L374.8 667.1 L388.9 667.2 L402.6 667.4 L416.1 667.7 L429.2 668.2 L442.1 668.8 L454.6 669.6 L466.8 670.5 L478.7 671.5 L490.3 672.7 L501.6 674.0 L512.6 675.4 L523.3 676.9 L533.7 678.5 L543.8 680.2 L553.5 682.1 L563.0 684.0 L572.1 686.0 L580.9 688.1 L589.4 690.3 L597.6 692.6 L605.5 695.0 L613.1 697.4 L620.3 699.9 L627.3 702.5 L633.9 705.2 L640.2 707.9 L646.2 710.6 L651.9 713.4 L657.2 716.3 M300.0 673.6 L315.3 672.9 L330.3 672.3 L345.0 671.8 L359.4 671.5 L373.5 671.4 L387.3 671.4 L400.8 671.6 L414.1 671.9 L427.0 672.4 L439.7 673.0 L452.0 673.7 L464.1 674.5 L475.8 675.5 L487.3 676.6 L498.5 677.8 L509.3 679.1 L519.9 680.6 L530.2 682.1 L540.2 683.8 L549.8 685.5 L559.2 687.3 L568.3 689.3 L577.1 691.3 L585.5 693.4 L593.7 695.6 L601.6 697.8 L609.2 700.2 L616.4 702.6 L623.4 705.1 L630.0 707.6 L636.4 710.2 L642.4 712.8 L648.2 715.5 L653.6 718.3 M300.0 677.9 L315.0 677.2 L329.7 676.6 L344.1 676.1 L358.3 675.8 L372.1 675.7 L385.7 675.7 L399.0 675.8 L412.1 676.1 L424.8 676.5 L437.2 677.1 L449.4 677.8 L461.3 678.6 L472.9 679.5 L484.2 680.5 L495.3 681.7 L506.0 682.9 L516.5 684.3 L526.6 685.7 L536.5 687.3 L546.1 689.0 L555.4 690.7 L564.4 692.6 L573.1 694.5 L581.6 696.5 L589.7 698.6 L597.6 700.7 L605.1 703.0 L612.4 705.2 L619.4 707.6 L626.1 710.0 L632.5 712.5 L638.6 715.0 L644.4 717.6 L649.9 720.2 M300.0 682.2 L314.7 681.5 L329.1 680.9 L343.3 680.4 L357.2 680.1 L370.8 680.0 L384.1 680.0 L397.2 680.1 L410.0 680.3 L422.5 680.7 L434.8 681.2 L446.8 681.8 L458.5 682.6 L469.9 683.5 L481.1 684.4 L492.0 685.5 L502.6 686.7 L512.9 688.0 L523.0 689.4 L532.8 690.9 L542.3 692.4 L551.5 694.1 L560.5 695.8 L569.1 697.7 L577.5 699.6 L585.7 701.6 L593.5 703.6 L601.0 705.7 L608.3 707.9 L615.3 710.2 L622.0 712.5 L628.4 714.8 L634.6 717.2 L640.4 719.7 L646.0 722.2 M300.0 686.6 L314.4 685.8 L328.5 685.2 L342.4 684.8 L356.0 684.5 L369.4 684.3 L382.5 684.2 L395.4 684.3 L407.9 684.5 L420.3 684.9 L432.3 685.4 L444.1 685.9 L455.6 686.6 L466.9 687.4 L477.9 688.3 L488.7 689.4 L499.2 690.5 L509.4 691.7 L519.3 693.0 L529.0 694.4 L538.4 695.9 L547.6 697.5 L556.5 699.1 L565.1 700.9 L573.4 702.7 L581.5 704.6 L589.3 706.5 L596.9 708.5 L604.1 710.6 L611.1 712.7 L617.9 714.9 L624.3 717.2 L630.5 719.4 L636.4 721.8 L642.1 724.2 M300.0 690.9 L314.1 690.1 L327.9 689.5 L341.6 689.1 L354.9 688.8 L368.0 688.6 L380.9 688.5 L393.5 688.6 L405.8 688.8 L417.9 689.1 L429.8 689.5 L441.4 690.0 L452.8 690.7 L463.9 691.4 L474.7 692.3 L485.3 693.2 L495.7 694.3 L505.7 695.4 L515.6 696.6 L525.2 698.0 L534.5 699.4 L543.6 700.9 L552.4 702.4 L560.9 704.1 L569.2 705.8 L577.3 707.6 L585.1 709.4 L592.6 711.3 L599.9 713.3 L606.9 715.3 L613.6 717.4 L620.1 719.5 L626.3 721.7 L632.3 723.9 L638.0 726.1 M300.0 695.2 L313.8 694.4 L327.4 693.9 L340.7 693.4 L353.8 693.1 L366.6 692.9 L379.2 692.8 L391.6 692.8 L403.7 693.0 L415.6 693.2 L427.3 693.6 L438.7 694.1 L449.8 694.7 L460.8 695.4 L471.5 696.2 L481.9 697.1 L492.1 698.1 L502.1 699.1 L511.8 700.3 L521.3 701.5 L530.5 702.9 L539.5 704.3 L548.2 705.7 L556.7 707.3 L565.0 708.9 L573.0 710.6 L580.7 712.3 L588.2 714.1 L595.5 716.0 L602.5 717.9 L609.3 719.8 L615.8 721.9 L622.1 723.9 L628.1 726.0 L633.9 728.1 M300.0 699.5 L313.5 698.8 L326.8 698.2 L339.8 697.7 L352.6 697.4 L365.2 697.2 L377.5 697.1 L389.7 697.1 L401.6 697.2 L413.2 697.4 L424.7 697.8 L435.9 698.2 L446.9 698.8 L457.6 699.4 L468.2 700.1 L478.4 701.0 L488.5 701.9 L498.3 702.9 L507.9 703.9 L517.3 705.1 L526.4 706.3 L535.3 707.7 L544.0 709.0 L552.4 710.5 L560.6 712.0 L568.6 713.6 L576.3 715.2 L583.8 716.9 L591.0 718.7 L598.1 720.5 L604.8 722.3 L611.4 724.2 L617.7 726.1 L623.8 728.1 L629.6 730.1 M300.0 703.8 L313.2 703.1 L326.1 702.5 L338.9 702.0 L351.4 701.7 L363.7 701.5 L375.8 701.3 L387.7 701.3 L399.4 701.4 L410.8 701.6 L422.1 701.9 L433.1 702.3 L443.9 702.8 L454.5 703.4 L464.8 704.1 L474.9 704.8 L484.9 705.7 L494.6 706.6 L504.0 707.6 L513.3 708.7 L522.3 709.8 L531.1 711.1 L539.7 712.3 L548.1 713.7 L556.2 715.1 L564.1 716.6 L571.8 718.1 L579.3 719.7 L586.5 721.4 L593.5 723.1 L600.3 724.8 L606.9 726.6 L613.2 728.4 L619.3 730.2 L625.2 732.1 M300.0 708.1 L312.9 707.4 L325.5 706.8 L338.0 706.4 L350.2 706.0 L362.3 705.8 L374.1 705.6 L385.8 705.6 L397.2 705.6 L408.4 705.8 L419.4 706.1 L430.2 706.4 L440.8 706.8 L451.2 707.4 L461.4 708.0 L471.4 708.7 L481.2 709.5 L490.7 710.3 L500.1 711.2 L509.2 712.2 L518.1 713.3 L526.8 714.5 L535.3 715.7 L543.6 716.9 L551.7 718.2 L559.6 719.6 L567.2 721.1 L574.7 722.5 L581.9 724.1 L588.9 725.7 L595.7 727.3 L602.3 728.9 L608.7 730.6 L614.8 732.4 L620.8 734.2 M300.0 712.4 L312.6 711.7 L324.9 711.1 L337.1 710.7 L349.0 710.3 L360.8 710.1 L372.4 709.9 L383.8 709.8 L395.0 709.9 L406.0 710.0 L416.8 710.2 L427.4 710.5 L437.8 710.9 L448.0 711.4 L458.0 711.9 L467.8 712.6 L477.4 713.3 L486.8 714.0 L496.1 714.9 L505.1 715.8 L513.9 716.8 L522.5 717.9 L530.9 719.0 L539.1 720.1 L547.2 721.4 L555.0 722.6 L562.6 724.0 L570.0 725.4 L577.2 726.8 L584.2 728.2 L591.0 729.8 L597.6 731.3 L604.0 732.9 L610.2 734.5 L616.2 736.2 M300.0 716.7 L312.2 716.0 L324.3 715.5 L336.2 715.0 L347.8 714.6 L359.3 714.4 L370.7 714.2 L381.8 714.1 L392.7 714.1 L403.5 714.2 L414.1 714.4 L424.5 714.6 L434.7 715.0 L444.7 715.4 L454.5 715.9 L464.2 716.4 L473.6 717.1 L482.9 717.8 L492.0 718.6 L500.9 719.4 L509.6 720.3 L518.1 721.3 L526.4 722.3 L534.6 723.4 L542.5 724.5 L550.3 725.7 L557.8 726.9 L565.2 728.2 L572.4 729.5 L579.4 730.9 L586.2 732.2 L592.8 733.7 L599.2 735.2 L605.5 736.7 L611.5 738.2 M300.0 721.0 L311.9 720.4 L323.7 719.8 L335.2 719.3 L346.6 718.9 L357.8 718.7 L368.9 718.5 L379.8 718.3 L390.5 718.3 L401.0 718.4 L411.4 718.5 L421.5 718.7 L431.5 719.0 L441.4 719.4 L451.0 719.8 L460.5 720.3 L469.8 720.9 L478.9 721.5 L487.9 722.2 L496.6 723.0 L505.2 723.8 L513.6 724.7 L521.9 725.6 L529.9 726.6 L537.8 727.6 L545.5 728.7 L553.0 729.8 L560.4 731.0 L567.5 732.2 L574.5 733.5 L581.3 734.7 L588.0 736.1 L594.4 737.4 L600.7 738.8 L606.7 740.2 M300.0 725.3 L311.6 724.7 L323.0 724.1 L334.3 723.6 L345.4 723.3 L356.3 722.9 L367.1 722.7 L377.7 722.6 L388.2 722.5 L398.5 722.6 L408.6 722.6 L418.6 722.8 L428.4 723.1 L438.0 723.4 L447.5 723.7 L456.8 724.2 L465.9 724.7 L474.9 725.2 L483.7 725.9 L492.3 726.6 L500.8 727.3 L509.1 728.1 L517.3 728.9 L525.2 729.8 L533.0 730.7 L540.7 731.7 L548.2 732.8 L555.5 733.8 L562.6 734.9 L569.6 736.1 L576.4 737.2 L583.0 738.4 L589.4 739.7 L595.7 740.9 L601.9 742.2 M300.0 729.7 L311.3 729.0 L322.4 728.4 L333.3 728.0 L344.1 727.6 L354.8 727.2 L365.3 727.0 L375.7 726.8 L385.9 726.8 L395.9 726.7 L405.8 726.8 L415.6 726.9 L425.1 727.1 L434.6 727.4 L443.9 727.7 L453.0 728.1 L462.0 728.5 L470.8 729.0 L479.5 729.5 L488.0 730.1 L496.3 730.8 L504.5 731.5 L512.6 732.2 L520.5 733.0 L528.2 733.9 L535.8 734.8 L543.2 735.7 L550.5 736.6 L557.6 737.6 L564.5 738.7 L571.3 739.7 L577.9 740.8 L584.4 741.9 L590.7 743.1 L596.9 744.2 M300.0 734.0 L310.9 733.3 L321.7 732.8 L332.4 732.3 L342.9 731.9 L353.3 731.5 L363.5 731.3 L373.6 731.1 L383.5 731.0 L393.3 730.9 L403.0 730.9 L412.5 731.0 L421.9 731.2 L431.1 731.4 L440.2 731.6 L449.2 731.9 L458.0 732.3 L466.7 732.7 L475.2 733.2 L483.6 733.7 L491.8 734.3 L499.9 734.9 L507.8 735.6 L515.6 736.3 L523.3 737.0 L530.8 737.8 L538.2 738.6 L545.4 739.5 L552.4 740.3 L559.4 741.3 L566.1 742.2 L572.8 743.2 L579.3 744.2 L585.6 745.2 L591.8 746.3 M300.0 738.3 L310.6 737.6 L321.1 737.1 L331.4 736.6 L341.6 736.2 L351.7 735.8 L361.7 735.6 L371.5 735.4 L381.2 735.2 L390.7 735.1 L400.2 735.1 L409.5 735.1 L418.6 735.2 L427.7 735.4 L436.6 735.6 L445.3 735.8 L454.0 736.1 L462.5 736.5 L470.8 736.8 L479.1 737.3 L487.2 737.8 L495.2 738.3 L503.0 738.9 L510.7 739.5 L518.3 740.1 L525.7 740.8 L533.0 741.5 L540.2 742.3 L547.2 743.1 L554.1 743.9 L560.9 744.7 L567.5 745.6 L574.0 746.4 L580.4 747.4 L586.6 748.3 M300.0 742.6 L310.3 742.0 L320.4 741.4 L330.4 740.9 L340.3 740.5 L350.1 740.1 L359.8 739.8 L369.3 739.6 L378.8 739.4 L388.1 739.3 L397.3 739.2 L406.4 739.2 L415.3 739.3 L424.1 739.3 L432.8 739.5 L441.4 739.7 L449.9 739.9 L458.2 740.2 L466.5 740.5 L474.6 740.9 L482.5 741.3 L490.4 741.7 L498.1 742.2 L505.8 742.7 L513.2 743.3 L520.6 743.8 L527.9 744.4 L535.0 745.1 L542.0 745.8 L548.8 746.5 L555.6 747.2 L562.2 747.9 L568.7 748.7 L575.1 749.5 L581.3 750.3 M300.0 746.9 L309.9 746.3 L319.7 745.7 L329.4 745.2 L339.1 744.8 L348.5 744.4 L357.9 744.1 L367.2 743.9 L376.4 743.6 L385.4 743.5 L394.4 743.4 L403.2 743.3 L411.9 743.3 L420.6 743.3 L429.1 743.4 L437.5 743.5 L445.8 743.7 L454.0 743.9 L462.0 744.2 L470.0 744.4 L477.8 744.8 L485.6 745.1 L493.2 745.5 L500.7 745.9 L508.1 746.4 L515.4 746.9 L522.6 747.4 L529.7 747.9 L536.6 748.5 L543.5 749.1 L550.2 749.7 L556.8 750.3 L563.3 750.9 L569.7 751.6 L576.0 752.3 M300.0 751.2 L309.6 750.6 L319.1 750.1 L328.5 749.6 L337.7 749.1 L346.9 748.7 L356.0 748.4 L365.0 748.1 L373.9 747.9 L382.7 747.7 L391.4 747.5 L400.1 747.4 L408.6 747.4 L417.0 747.3 L425.3 747.4 L433.5 747.4 L441.6 747.5 L449.6 747.6 L457.5 747.8 L465.4 748.0 L473.1 748.2 L480.7 748.5 L488.2 748.8 L495.6 749.1 L502.9 749.5 L510.1 749.9 L517.2 750.3 L524.3 750.7 L531.2 751.2 L538.0 751.6 L544.7 752.1 L551.3 752.7 L557.8 753.2 L564.2 753.7 L570.5 754.3 M300.0 755.5 L309.2 754.9 L318.4 754.4 L327.5 753.9 L336.4 753.4 L345.3 753.0 L354.1 752.7 L362.9 752.4 L371.5 752.1 L380.0 751.9 L388.5 751.7 L396.9 751.5 L405.1 751.4 L413.3 751.3 L421.4 751.3 L429.5 751.3 L437.4 751.3 L445.2 751.4 L453.0 751.5 L460.7 751.6 L468.2 751.7 L475.7 751.9 L483.1 752.1 L490.4 752.3 L497.7 752.6 L504.8 752.9 L511.8 753.2 L518.8 753.5 L525.7 753.9 L532.4 754.2 L539.1 754.6 L545.7 755.0 L552.2 755.4 L558.6 755.9 L564.9 756.3 M300.0 759.8 L308.9 759.2 L317.7 758.7 L326.4 758.2 L335.1 757.7 L343.7 757.3 L352.2 756.9 L360.6 756.6 L369.0 756.3 L377.3 756.0 L385.5 755.8 L393.6 755.6 L401.7 755.4 L409.7 755.3 L417.6 755.2 L425.4 755.1 L433.1 755.1 L440.8 755.1 L448.4 755.1 L455.9 755.1 L463.4 755.2 L470.7 755.3 L478.0 755.4 L485.2 755.6 L492.3 755.7 L499.4 755.9 L506.4 756.1 L513.2 756.3 L520.1 756.6 L526.8 756.8 L533.4 757.1 L540.0 757.4 L546.5 757.7 L552.9 758.0 L559.3 758.3 M300.0 764.1 L308.5 763.6 L317.0 763.0 L325.4 762.5 L333.8 762.1 L342.1 761.6 L350.3 761.2 L358.4 760.9 L366.5 760.5 L374.5 760.2 L382.5 759.9 L390.4 759.7 L398.2 759.5 L406.0 759.3 L413.7 759.1 L421.3 759.0 L428.8 758.9 L436.3 758.8 L443.8 758.7 L451.1 758.7 L458.4 758.7 L465.7 758.7 L472.8 758.7 L479.9 758.8 L486.9 758.8 L493.9 758.9 L500.8 759.0 L507.6 759.1 L514.4 759.2 L521.1 759.4 L527.7 759.5 L534.3 759.7 L540.7 759.9 L547.2 760.1 L553.5 760.3 M300.0 768.4 L308.2 767.9 L316.3 767.3 L324.4 766.8 L332.4 766.4 L340.4 765.9 L348.3 765.5 L356.2 765.1 L364.0 764.7 L371.7 764.4 L379.4 764.1 L387.1 763.8 L394.7 763.5 L402.2 763.3 L409.7 763.1 L417.1 762.9 L424.5 762.7 L431.8 762.5 L439.1 762.4 L446.3 762.3 L453.4 762.2 L460.5 762.1 L467.6 762.0 L474.5 762.0 L481.5 761.9 L488.3 761.9 L495.2 761.9 L501.9 761.9 L508.6 761.9 L515.3 762.0 L521.9 762.0 L528.4 762.1 L534.9 762.1 L541.3 762.2 L547.7 762.3 M300.0 772.8 L307.8 772.2 L315.6 771.7 L323.4 771.2 L331.1 770.7 L338.7 770.2 L346.3 769.8 L353.9 769.3 L361.4 768.9 L368.9 768.6 L376.4 768.2 L383.8 767.9 L391.1 767.6 L398.4 767.3 L405.7 767.0 L412.9 766.7 L420.1 766.5 L427.2 766.2 L434.3 766.0 L441.4 765.8 L448.4 765.6 L455.3 765.4 L462.3 765.3 L469.1 765.1 L475.9 765.0 L482.7 764.9 L489.5 764.8 L496.2 764.7 L502.8 764.6 L509.4 764.5 L515.9 764.4 L522.5 764.4 L528.9 764.3 L535.3 764.3 L541.7 764.2 M300.0 777.1 L307.5 776.5 L314.9 776.0 L322.3 775.5 L329.7 775.0 L337.0 774.5 L344.4 774.0 L351.6 773.6 L358.9 773.2 L366.1 772.7 L373.3 772.3 L380.4 772.0 L387.5 771.6 L394.6 771.2 L401.7 770.9 L408.7 770.6 L415.7 770.2 L422.6 769.9 L429.5 769.6 L436.4 769.4 L443.3 769.1 L450.1 768.8 L456.9 768.6 L463.6 768.3 L470.4 768.1 L477.0 767.9 L483.7 767.7 L490.3 767.4 L496.9 767.3 L503.4 767.1 L510.0 766.9 L516.4 766.7 L522.9 766.5 L529.3 766.4 L535.7 766.2 M300.0 781.4 L307.1 780.8 L314.2 780.3 L321.3 779.8 L328.3 779.3 L335.3 778.8 L342.4 778.3 L349.3 777.8 L356.3 777.4 L363.2 776.9 L370.2 776.5 L377.1 776.0 L383.9 775.6 L390.8 775.2 L397.6 774.8 L404.4 774.4 L411.2 774.0 L418.0 773.6 L424.7 773.3 L431.4 772.9 L438.1 772.5 L444.8 772.2 L451.5 771.8 L458.1 771.5 L464.7 771.2 L471.3 770.8 L477.8 770.5 L484.4 770.2 L490.9 769.9 L497.4 769.6 L503.9 769.3 L510.3 769.0 L516.8 768.7 L523.2 768.4 L529.5 768.1 M300.0 785.7 L306.7 785.2 L313.5 784.6 L320.2 784.1 L326.9 783.6 L333.6 783.1 L340.3 782.6 L347.0 782.1 L353.7 781.6 L360.4 781.1 L367.0 780.6 L373.6 780.1 L380.3 779.6 L386.9 779.2 L393.5 778.7 L400.1 778.2 L406.7 777.8 L413.3 777.3 L419.8 776.9 L426.4 776.4 L432.9 776.0 L439.4 775.5 L446.0 775.1 L452.5 774.7 L459.0 774.2 L465.5 773.8 L471.9 773.4 L478.4 773.0 L484.8 772.5 L491.3 772.1 L497.7 771.7 L504.1 771.3 L510.5 770.9 L516.9 770.5 L523.3 770.1 M300.0 790.0 L306.4 789.5 L312.8 788.9 L319.1 788.4 L325.5 787.9 L331.9 787.4 L338.3 786.8 L344.7 786.3 L351.1 785.8 L357.4 785.2 L363.8 784.7 L370.2 784.2 L376.6 783.6 L383.0 783.1 L389.4 782.6 L395.7 782.1 L402.1 781.5 L408.5 781.0 L414.9 780.5 L421.3 779.9 L427.6 779.4 L434.0 778.9 L440.4 778.4 L446.8 777.8 L453.2 777.3 L459.6 776.8 L465.9 776.2 L472.3 775.7 L478.7 775.2 L485.1 774.6 L491.5 774.1 L497.9 773.6 L504.2 773.1 L510.6 772.5 L517.0 772.0" fill="none" stroke="url(#bluelines)" stroke-width="1.15" opacity="0.95"/>
<path d="M462 554 L500 554 L503 557 L465 557 Z M470 559.5 L512 559.5 L515 562.5 L473 562.5 Z M478 565 L520 565 L523 568 L481 568 Z" fill="#020814" opacity="0.9"/>
<path d="M509 643 L592 643 L631 692 L531 689 Z" fill="#010410"/>
<path d="M509.0 643.0 L514.5 654.5 L520.0 666.0 L525.5 677.5 L531.0 689.0 M514.2 643.0 L520.0 654.5 L525.7 666.1 L531.5 677.6 L537.2 689.2 M519.4 643.0 L525.4 654.6 L531.4 666.2 L537.5 677.8 L543.5 689.4 M524.6 643.0 L530.9 654.6 L537.2 666.3 L543.5 677.9 L549.8 689.6 M529.8 643.0 L536.3 654.7 L542.9 666.4 L549.4 678.1 L556.0 689.8 M534.9 643.0 L541.8 654.7 L548.6 666.5 L555.4 678.2 L562.2 689.9 M540.1 643.0 L547.2 654.8 L554.3 666.6 L561.4 678.3 L568.5 690.1 M545.3 643.0 L552.7 654.8 L560.0 666.7 L567.4 678.5 L574.8 690.3 M550.5 643.0 L558.1 654.9 L565.8 666.8 L573.4 678.6 L581.0 690.5 M555.7 643.0 L563.6 654.9 L571.5 666.8 L579.4 678.8 L587.2 690.7 M560.9 643.0 L569.0 655.0 L577.2 666.9 L585.3 678.9 L593.5 690.9 M566.1 643.0 L574.5 655.0 L582.9 667.0 L591.3 679.0 L599.8 691.1 M571.2 643.0 L579.9 655.1 L588.6 667.1 L597.3 679.2 L606.0 691.2 M576.4 643.0 L585.4 655.1 L594.3 667.2 L603.3 679.3 L612.2 691.4 M581.6 643.0 L590.8 655.2 L600.1 667.3 L609.3 679.5 L618.5 691.6 M586.8 643.0 L596.3 655.2 L605.8 667.4 L615.3 679.6 L624.8 691.8 M592.0 643.0 L601.8 655.2 L611.5 667.5 L621.2 679.8 L631.0 692.0 M509.0 643.0 L529.8 643.0 L550.5 643.0 L571.2 643.0 L592.0 643.0 M511.4 648.1 L532.7 648.2 L553.9 648.3 L575.1 648.4 L596.3 648.4 M513.9 653.2 L535.6 653.4 L557.3 653.6 L579.0 653.7 L600.7 653.9 M516.3 658.3 L538.5 658.6 L560.7 658.8 L582.8 659.1 L605.0 659.3 M518.8 663.4 L541.4 663.8 L564.1 664.1 L586.7 664.4 L609.3 664.8 M521.2 668.6 L544.3 669.0 L567.4 669.4 L590.6 669.8 L613.7 670.2 M523.7 673.7 L547.2 674.2 L570.8 674.7 L594.4 675.2 L618.0 675.7 M526.1 678.8 L550.2 679.4 L574.2 679.9 L598.3 680.5 L622.3 681.1 M528.6 683.9 L553.1 684.6 L577.6 685.2 L602.1 685.9 L626.7 686.6 M531.0 689.0 L556.0 689.8 L581.0 690.5 L606.0 691.2 L631.0 692.0" fill="none" stroke="#3f86e8" stroke-width="0.9" opacity="0.8"/>
<path d="M500 637 L595 637 L640 694 L528 693 Z" fill="none" stroke="#3ec6f6" stroke-width="2" opacity="0.75"/>
<path d="M298 586 C 360 583, 430 588, 500 600 C 560 610, 630 614, 690 615" fill="none" stroke-linecap="round" stroke="#5fe2ff" stroke-width="2.4" opacity="0.9"/>
<path d="M322 586 C 328 570, 334 558, 345 554 L 362 555 C 369 560, 369 575, 366 586" fill="none" stroke-linecap="round" stroke="#5fe2ff" stroke-width="2" opacity="0.85"/>
<path d="M300 700 C 308 655, 345 620, 400 618 C 440 617, 470 630, 492 662" fill="none" stroke-linecap="round" stroke="#46d2ff" stroke-width="2.6" opacity="0.9"/>
<path d="M300 540 C 560 530, 700 590, 713 668 C 712 690, 705 692, 700 700" fill="none" stroke-linecap="round" stroke="#4fd0ff" stroke-width="2" opacity="0.8"/>
<path d="M455 615 C 480 640, 495 665, 510 700 C 520 725, 525 750, 528 772" fill="none" stroke-linecap="round" stroke="#3cc0f4" stroke-width="1.6" opacity="0.7"/>
<path d="M530 689 C 580 700, 640 700, 705 692" fill="none" stroke-linecap="round" stroke="#3cc0f4" stroke-width="1.8" opacity="0.75"/>
<circle cx="371.4" cy="707" r="54" fill="#051230"/>
<path d="M411.4 707 A40 40 0 1 0 331.4 707 A40 40 0 1 0 411.4 707 M414.4 707 A43 43 0 1 0 328.4 707 A43 43 0 1 0 414.4 707 M417.4 707 A46 46 0 1 0 325.4 707 A46 46 0 1 0 417.4 707 M420.4 707 A49 49 0 1 0 322.4 707 A49 49 0 1 0 420.4 707 M423.4 707 A52 52 0 1 0 319.4 707 A52 52 0 1 0 423.4 707 M411.4 707.0 L425.4 707.0 M411.2 711.2 L425.1 712.6 M410.5 715.3 L424.2 718.2 M409.4 719.4 L422.8 723.7 M407.9 723.3 L420.7 729.0 M406.0 727.0 L418.2 734.0 M403.8 730.5 L415.1 738.7 M401.1 733.8 L411.5 743.1 M398.2 736.7 L407.5 747.1 M394.9 739.4 L403.1 750.7 M391.4 741.6 L398.4 753.8 M387.7 743.5 L393.4 756.3 M383.8 745.0 L388.1 758.4 M379.7 746.1 L382.6 759.8 M375.6 746.8 L377.0 760.7 M371.4 747.0 L371.4 761.0 M367.2 746.8 L365.8 760.7 M363.1 746.1 L360.2 759.8 M359.0 745.0 L354.7 758.4 M355.1 743.5 L349.4 756.3 M351.4 741.6 L344.4 753.8 M347.9 739.4 L339.7 750.7 M344.6 736.7 L335.3 747.1 M341.7 733.8 L331.3 743.1 M339.0 730.5 L327.7 738.7 M336.8 727.0 L324.6 734.0 M334.9 723.3 L322.1 729.0 M333.4 719.4 L320.0 723.7 M332.3 715.3 L318.6 718.2 M331.6 711.2 L317.7 712.6 M331.4 707.0 L317.4 707.0 M331.6 702.8 L317.7 701.4 M332.3 698.7 L318.6 695.8 M333.4 694.6 L320.0 690.3 M334.9 690.7 L322.1 685.0 M336.8 687.0 L324.6 680.0 M339.0 683.5 L327.7 675.3 M341.7 680.2 L331.3 670.9 M344.6 677.3 L335.3 666.9 M347.9 674.6 L339.7 663.3 M351.4 672.4 L344.4 660.2 M355.1 670.5 L349.4 657.7 M359.0 669.0 L354.7 655.6 M363.1 667.9 L360.2 654.2 M367.2 667.2 L365.8 653.3 M371.4 667.0 L371.4 653.0 M375.6 667.2 L377.0 653.3 M379.7 667.9 L382.6 654.2 M383.8 669.0 L388.1 655.6 M387.7 670.5 L393.4 657.7 M391.4 672.4 L398.4 660.2 M394.9 674.6 L403.1 663.3 M398.2 677.3 L407.5 666.9 M401.1 680.2 L411.5 670.9 M403.8 683.5 L415.1 675.3 M406.0 687.0 L418.2 680.0 M407.9 690.7 L420.7 685.0 M409.4 694.6 L422.8 690.3 M410.5 698.7 L424.2 695.8 M411.2 702.8 L425.1 701.4" fill="none" stroke="url(#bluelines)" stroke-width="1" opacity="0.85"/>
<circle cx="371.4" cy="707" r="54" fill="none" stroke="#3cc8f6" stroke-width="2.2" opacity="0.85"/>
<circle cx="371.4" cy="707" r="38" fill="#030a22"/>
<path d="M377.4 707 A6 6 0 1 0 365.4 707 A6 6 0 1 0 377.4 707 M381.4 707 A10 10 0 1 0 361.4 707 A10 10 0 1 0 381.4 707 M385.4 707 A14 14 0 1 0 357.4 707 A14 14 0 1 0 385.4 707 M389.4 707 A18 18 0 1 0 353.4 707 A18 18 0 1 0 389.4 707 M393.4 707 A22 22 0 1 0 349.4 707 A22 22 0 1 0 393.4 707 M397.4 707 A26 26 0 1 0 345.4 707 A26 26 0 1 0 397.4 707 M401.4 707 A30 30 0 1 0 341.4 707 A30 30 0 1 0 401.4 707 M405.4 707 A34 34 0 1 0 337.4 707 A34 34 0 1 0 405.4 707 M376.4 707.0 L406.4 707.0 M376.3 707.9 L405.9 713.1 M376.1 708.7 L404.3 719.0 M375.7 709.5 L401.7 724.5 M375.2 710.2 L398.2 729.5 M374.6 710.8 L393.9 733.8 M373.9 711.3 L388.9 737.3 M373.1 711.7 L383.4 739.9 M372.3 711.9 L377.5 741.5 M371.4 712.0 L371.4 742.0 M370.5 711.9 L365.3 741.5 M369.7 711.7 L359.4 739.9 M368.9 711.3 L353.9 737.3 M368.2 710.8 L348.9 733.8 M367.6 710.2 L344.6 729.5 M367.1 709.5 L341.1 724.5 M366.7 708.7 L338.5 719.0 M366.5 707.9 L336.9 713.1 M366.4 707.0 L336.4 707.0 M366.5 706.1 L336.9 700.9 M366.7 705.3 L338.5 695.0 M367.1 704.5 L341.1 689.5 M367.6 703.8 L344.6 684.5 M368.2 703.2 L348.9 680.2 M368.9 702.7 L353.9 676.7 M369.7 702.3 L359.4 674.1 M370.5 702.1 L365.3 672.5 M371.4 702.0 L371.4 672.0 M372.3 702.1 L377.5 672.5 M373.1 702.3 L383.4 674.1 M373.9 702.7 L388.9 676.7 M374.6 703.2 L393.9 680.2 M375.2 703.8 L398.2 684.5 M375.7 704.5 L401.7 689.5 M376.1 705.3 L404.3 695.0 M376.3 706.1 L405.9 700.9" fill="none" stroke="#2a6ee0" stroke-width="0.9" opacity="0.9"/>
<circle cx="371.4" cy="707" r="36.5" fill="none" stroke="#3fd6ff" stroke-width="3.4"/>
<rect x="404.3" y="714.0" width="4.8" height="4.8" fill="#64e4ff"/>
<rect x="389.9" y="734.5" width="4.8" height="4.8" fill="#64e4ff"/>
<rect x="365.8" y="741.0" width="4.8" height="4.8" fill="#64e4ff"/>
<rect x="343.2" y="730.4" width="4.8" height="4.8" fill="#64e4ff"/>
<rect x="332.6" y="707.8" width="4.8" height="4.8" fill="#64e4ff"/>
<rect x="339.1" y="683.7" width="4.8" height="4.8" fill="#64e4ff"/>
<rect x="359.6" y="669.3" width="4.8" height="4.8" fill="#64e4ff"/>
<rect x="384.4" y="671.5" width="4.8" height="4.8" fill="#64e4ff"/>
<rect x="402.1" y="689.2" width="4.8" height="4.8" fill="#64e4ff"/>
<circle cx="371.4" cy="707" r="26" fill="none" stroke="#1f86d8" stroke-width="1.4"/>
<circle cx="371.4" cy="707" r="9" fill="none" stroke="#3cc8ff" stroke-width="2"/>
<circle cx="371.4" cy="707" r="3" fill="#6fe6ff"/>
<path d="M300.5 722 C 310 745, 325 762, 346 772.5 L 300.5 772.5 Z" fill="#010205"/>
<path d="M470 772.5 C 520 768, 560 758, 600 745 L 640 772.5 Z" fill="#010205" opacity="0.5"/></g>
<g clip-path="url(#vp2)"><rect x="837" y="552.3" width="439" height="220.5" fill="#020202"/>
<path d="M1000 552.3 L1276 552.3 L1276 772.8 L1060 772.8 C 1040 730, 1010 680, 1000 640 Z" fill="url(#wirerad)"/>
<g clip-path="url(#wireclip)"><path d="M1050 545 L1125 545 C 1135 590, 1130 640, 1110 700 L 1080 720 L 1050 700 Z" fill="#a4a4a6" filter="url(#blur8)"/></g>
<g clip-path="url(#wireclip)"><path d="M1103.2 716 A46.2 44.0 0 1 0 1010.8 716 A46.2 44.0 0 1 0 1103.2 716 M1107.6 716 A50.6 48.2 0 1 0 1006.4 716 A50.6 48.2 0 1 0 1107.6 716 M1112.2 716 A55.2 52.5 0 1 0 1001.8 716 A55.2 52.5 0 1 0 1112.2 716 M1116.9 716 A59.9 57.0 0 1 0 997.1 716 A59.9 57.0 0 1 0 1116.9 716 M1121.8 716 A64.8 61.7 0 1 0 992.2 716 A64.8 61.7 0 1 0 1121.8 716 M1126.8 716 A69.8 66.5 0 1 0 987.2 716 A69.8 66.5 0 1 0 1126.8 716 M1132.1 716 A75.1 71.5 0 1 0 981.9 716 A75.1 71.5 0 1 0 1132.1 716 M1137.5 716 A80.5 76.7 0 1 0 976.5 716 A80.5 76.7 0 1 0 1137.5 716 M1143.1 716 A86.1 82.0 0 1 0 970.9 716 A86.1 82.0 0 1 0 1143.1 716 M1148.9 716 A91.9 87.5 0 1 0 965.1 716 A91.9 87.5 0 1 0 1148.9 716 M1154.9 716 A97.9 93.3 0 1 0 959.1 716 A97.9 93.3 0 1 0 1154.9 716 M1161.2 716 A104.2 99.2 0 1 0 952.8 716 A104.2 99.2 0 1 0 1161.2 716 M1167.6 716 A110.6 105.3 0 1 0 946.4 716 A110.6 105.3 0 1 0 1167.6 716 M1174.3 716 A117.3 111.7 0 1 0 939.7 716 A117.3 111.7 0 1 0 1174.3 716 M1181.2 716 A124.2 118.2 0 1 0 932.8 716 A124.2 118.2 0 1 0 1181.2 716 M1188.3 716 A131.3 125.0 0 1 0 925.7 716 A131.3 125.0 0 1 0 1188.3 716 M1195.7 716 A138.7 132.1 0 1 0 918.3 716 A138.7 132.1 0 1 0 1195.7 716 M1203.3 716 A146.3 139.4 0 1 0 910.7 716 A146.3 139.4 0 1 0 1203.3 716 M1211.2 716 A154.2 146.9 0 1 0 902.8 716 A154.2 146.9 0 1 0 1211.2 716 M1219.4 716 A162.4 154.7 0 1 0 894.6 716 A162.4 154.7 0 1 0 1219.4 716 M1227.9 716 A170.9 162.8 0 1 0 886.1 716 A170.9 162.8 0 1 0 1227.9 716 M1236.7 716 A179.7 171.1 0 1 0 877.3 716 A179.7 171.1 0 1 0 1236.7 716 M1245.8 716 A188.8 179.8 0 1 0 868.2 716 A188.8 179.8 0 1 0 1245.8 716 M1255.2 716 A198.2 188.7 0 1 0 858.8 716 A198.2 188.7 0 1 0 1255.2 716 M1264.9 716 A207.9 198.0 0 1 0 849.1 716 A207.9 198.0 0 1 0 1264.9 716 M1275.0 716 A218.0 207.6 0 1 0 839.0 716 A218.0 207.6 0 1 0 1275.0 716 M1285.4 716 A228.4 217.5 0 1 0 828.6 716 A228.4 217.5 0 1 0 1285.4 716 M1296.2 716 A239.2 227.8 0 1 0 817.8 716 A239.2 227.8 0 1 0 1296.2 716 M1307.3 716 A250.3 238.4 0 1 0 806.7 716 A250.3 238.4 0 1 0 1307.3 716 M1318.9 716 A261.9 249.4 0 1 0 795.1 716 A261.9 249.4 0 1 0 1318.9 716 M1035.0 677.9 L917.0 473.5 M1037.0 676.8 L929.9 466.5 M1039.1 675.8 L943.1 460.2 M1041.2 674.9 L956.7 454.6 M1043.4 674.2 L970.5 449.7 M1045.6 673.5 L984.5 445.5 M1047.9 673.0 L998.8 442.1 M1050.1 672.5 L1013.2 439.4 M1052.4 672.2 L1027.7 437.5 M1054.7 672.1 L1042.3 436.4 M1057.0 672.0 L1057.0 436.0 M1059.3 672.1 L1071.7 436.4 M1061.6 672.2 L1086.3 437.5 M1063.9 672.5 L1100.8 439.4 M1066.1 673.0 L1115.2 442.1 M1068.4 673.5 L1129.5 445.5 M1070.6 674.2 L1143.5 449.7 M1072.8 674.9 L1157.3 454.6 M1074.9 675.8 L1170.9 460.2 M1077.0 676.8 L1184.1 466.5 M1079.0 677.9 L1197.0 473.5 M1081.0 679.1 L1209.5 481.2 M1082.9 680.4 L1221.6 489.5 M1084.7 681.8 L1233.2 498.4 M1086.4 683.3 L1244.4 507.9 M1088.1 684.9 L1255.0 518.0 M1089.7 686.6 L1265.1 528.6 M1091.2 688.3 L1274.6 539.8 M1092.6 690.1 L1283.5 551.4 M1093.9 692.0 L1291.8 563.5 M1095.1 694.0 L1299.5 576.0 M1096.2 696.0 L1306.5 588.9 M1097.2 698.1 L1312.8 602.1 M1098.1 700.2 L1318.4 615.7 M1098.8 702.4 L1323.3 629.5 M1099.5 704.6 L1327.5 643.5 M1100.0 706.9 L1330.9 657.8 M1100.5 709.1 L1333.6 672.2 M1100.8 711.4 L1335.5 686.7 M1100.9 713.7 L1336.6 701.3 M1101.0 716.0 L1337.0 716.0 M1100.9 718.3 L1336.6 730.7 M1100.8 720.6 L1335.5 745.3 M1100.5 722.9 L1333.6 759.8 M1100.0 725.1 L1330.9 774.2 M1099.5 727.4 L1327.5 788.5 M1098.8 729.6 L1323.3 802.5 M1098.1 731.8 L1318.4 816.3 M1097.2 733.9 L1312.8 829.9 M1096.2 736.0 L1306.5 843.1 M1095.1 738.0 L1299.5 856.0 M1093.9 740.0 L1291.8 868.5 M1092.6 741.9 L1283.5 880.6 M1091.2 743.7 L1274.6 892.2 M1089.7 745.4 L1265.1 903.4 M1088.1 747.1 L1255.0 914.0 M1086.4 748.7 L1244.4 924.1 M1084.7 750.2 L1233.2 933.6 M1082.9 751.6 L1221.6 942.5 M1081.0 752.9 L1209.5 950.8" fill="none" stroke="url(#wirelines)" stroke-width="0.9"/></g>
<path d="M1080.0 548.0 L1080.8 552.3 L1081.7 556.7 L1082.5 561.0 L1083.3 565.3 L1084.2 569.7 L1085.0 574.0 L1085.8 578.3 L1086.7 582.7 L1087.5 587.0 L1088.3 591.3 L1089.2 595.7 L1090.0 600.0 M1085.2 547.8 L1086.1 552.2 L1086.9 556.6 L1087.7 561.0 L1088.6 565.3 L1089.4 569.7 L1090.2 574.1 L1091.1 578.5 L1091.9 582.9 L1092.7 587.3 L1093.6 591.7 L1094.4 596.1 L1095.2 600.4 M1090.5 547.6 L1091.3 552.0 L1092.2 556.5 L1093.0 560.9 L1093.8 565.4 L1094.6 569.8 L1095.5 574.2 L1096.3 578.7 L1097.1 583.1 L1097.9 587.6 L1098.8 592.0 L1099.6 596.5 L1100.4 600.9 M1095.7 547.4 L1096.6 551.9 L1097.4 556.4 L1098.2 560.9 L1099.0 565.4 L1099.8 569.9 L1100.7 574.4 L1101.5 578.9 L1102.3 583.4 L1103.1 587.9 L1103.9 592.4 L1104.8 596.9 L1105.6 601.3 M1101.0 547.3 L1101.8 551.8 L1102.6 556.4 L1103.4 560.9 L1104.2 565.5 L1105.0 570.0 L1105.9 574.5 L1106.7 579.1 L1107.5 583.6 L1108.3 588.2 L1109.1 592.7 L1109.9 597.3 L1110.7 601.8 M1106.2 547.2 L1107.0 551.8 L1107.8 556.3 L1108.6 560.9 L1109.4 565.5 L1110.2 570.1 L1111.0 574.7 L1111.8 579.3 L1112.6 583.9 L1113.4 588.5 L1114.2 593.1 L1115.0 597.7 L1115.8 602.2 M1111.5 547.1 L1112.2 551.7 L1113.0 556.3 L1113.8 561.0 L1114.6 565.6 L1115.4 570.2 L1116.2 574.9 L1116.9 579.5 L1117.7 584.1 L1118.5 588.8 L1119.3 593.4 L1120.1 598.1 L1120.9 602.7 M1116.7 547.0 L1117.5 551.7 L1118.2 556.3 L1119.0 561.0 L1119.8 565.7 L1120.5 570.4 L1121.3 575.1 L1122.1 579.7 L1122.8 584.4 L1123.6 589.1 L1124.4 593.8 L1125.1 598.5 L1125.9 603.1 M1121.9 546.9 L1122.7 551.7 L1123.4 556.4 L1124.2 561.1 L1124.9 565.8 L1125.7 570.5 L1126.4 575.3 L1127.1 580.0 L1127.9 584.7 L1128.6 589.4 L1129.4 594.1 L1130.1 598.8 L1130.9 603.6 M1127.1 546.9 L1127.9 551.7 L1128.6 556.4 L1129.3 561.2 L1130.0 565.9 L1130.8 570.7 L1131.5 575.5 L1132.2 580.2 L1132.9 585.0 L1133.7 589.7 L1134.4 594.5 L1135.1 599.2 L1135.8 604.0 M1132.3 546.9 L1133.0 551.7 L1133.8 556.5 L1134.5 561.3 L1135.2 566.1 L1135.9 570.9 L1136.6 575.7 L1137.3 580.5 L1138.0 585.3 L1138.7 590.1 L1139.4 594.9 L1140.1 599.6 L1140.8 604.4 M1137.5 546.9 L1138.2 551.8 L1138.9 556.6 L1139.6 561.4 L1140.3 566.3 L1140.9 571.1 L1141.6 575.9 L1142.3 580.7 L1143.0 585.6 L1143.7 590.4 L1144.3 595.2 L1145.0 600.0 L1145.7 604.9 M1142.7 547.0 L1143.4 551.9 L1144.0 556.7 L1144.7 561.6 L1145.3 566.4 L1146.0 571.3 L1146.6 576.1 L1147.3 581.0 L1148.0 585.9 L1148.6 590.7 L1149.3 595.6 L1149.9 600.4 L1150.6 605.3 M1147.9 547.1 L1148.5 552.0 L1149.2 556.9 L1149.8 561.7 L1150.4 566.6 L1151.0 571.5 L1151.7 576.4 L1152.3 581.3 L1152.9 586.2 L1153.5 591.1 L1154.2 595.9 L1154.8 600.8 L1155.4 605.7 M1153.1 547.2 L1153.7 552.1 L1154.3 557.0 L1154.9 561.9 L1155.5 566.8 L1156.1 571.7 L1156.7 576.7 L1157.3 581.6 L1157.9 586.5 L1158.5 591.4 L1159.1 596.3 L1159.7 601.2 L1160.3 606.1 M1158.2 547.3 L1158.8 552.2 L1159.4 557.2 L1159.9 562.1 L1160.5 567.1 L1161.1 572.0 L1161.6 576.9 L1162.2 581.9 L1162.8 586.8 L1163.3 591.7 L1163.9 596.7 L1164.5 601.6 L1165.1 606.5 M1163.4 547.5 L1163.9 552.4 L1164.4 557.4 L1165.0 562.3 L1165.5 567.3 L1166.1 572.3 L1166.6 577.2 L1167.1 582.2 L1167.7 587.1 L1168.2 592.1 L1168.8 597.0 L1169.3 602.0 L1169.8 606.9 M1168.5 547.7 L1169.0 552.6 L1169.5 557.6 L1170.0 562.6 L1170.5 567.6 L1171.0 572.5 L1171.5 577.5 L1172.1 582.5 L1172.6 587.4 L1173.1 592.4 L1173.6 597.4 L1174.1 602.4 L1174.6 607.3 M1173.6 547.9 L1174.1 552.9 L1174.5 557.8 L1175.0 562.8 L1175.5 567.8 L1176.0 572.8 L1176.5 577.8 L1176.9 582.8 L1177.4 587.8 L1177.9 592.8 L1178.4 597.8 L1178.9 602.7 L1179.3 607.7 M1178.7 548.1 L1179.1 553.1 L1179.6 558.1 L1180.0 563.1 L1180.5 568.1 L1180.9 573.1 L1181.4 578.1 L1181.8 583.1 L1182.3 588.1 L1182.7 593.1 L1183.2 598.1 L1183.6 603.1 L1184.1 608.1 M1183.8 548.4 L1184.2 553.4 L1184.6 558.4 L1185.0 563.4 L1185.4 568.4 L1185.8 573.4 L1186.2 578.4 L1186.7 583.4 L1187.1 588.5 L1187.5 593.5 L1187.9 598.5 L1188.3 603.5 L1188.8 608.5 M1188.8 548.7 L1189.2 553.7 L1189.6 558.7 L1190.0 563.7 L1190.3 568.7 L1190.7 573.8 L1191.1 578.8 L1191.5 583.8 L1191.9 588.8 L1192.3 593.8 L1192.7 598.8 L1193.0 603.9 L1193.4 608.9 M1193.8 549.0 L1194.2 554.0 L1194.5 559.0 L1194.9 564.1 L1195.3 569.1 L1195.6 574.1 L1196.0 579.1 L1196.3 584.1 L1196.7 589.2 L1197.0 594.2 L1197.4 599.2 L1197.7 604.2 L1198.1 609.2 M1198.8 549.3 L1199.2 554.4 L1199.5 559.4 L1199.8 564.4 L1200.1 569.4 L1200.5 574.4 L1200.8 579.5 L1201.1 584.5 L1201.4 589.5 L1201.8 594.5 L1202.1 599.5 L1202.4 604.6 L1202.7 609.6 M1203.8 549.7 L1204.1 554.7 L1204.4 559.8 L1204.7 564.8 L1205.0 569.8 L1205.3 574.8 L1205.6 579.8 L1205.9 584.8 L1206.2 589.9 L1206.5 594.9 L1206.8 599.9 L1207.1 604.9 L1207.4 609.9 M1208.8 550.1 L1209.1 555.1 L1209.3 560.2 L1209.6 565.2 L1209.9 570.2 L1210.1 575.2 L1210.4 580.2 L1210.7 585.2 L1210.9 590.2 L1211.2 595.2 L1211.4 600.3 L1211.7 605.3 L1212.0 610.3 M1213.8 550.6 L1214.0 555.6 L1214.2 560.6 L1214.5 565.6 L1214.7 570.6 L1214.9 575.6 L1215.2 580.6 L1215.4 585.6 L1215.6 590.6 L1215.9 595.6 L1216.1 600.6 L1216.3 605.6 L1216.6 610.6 M1218.7 551.0 L1218.9 556.0 L1219.1 561.0 L1219.3 566.0 L1219.5 571.0 L1219.7 576.0 L1219.9 581.0 L1220.1 586.0 L1220.3 591.0 L1220.5 596.0 L1220.7 600.9 L1220.9 605.9 L1221.2 610.9 M1223.6 551.5 L1223.8 556.5 L1223.9 561.5 L1224.1 566.5 L1224.3 571.4 L1224.5 576.4 L1224.7 581.4 L1224.8 586.4 L1225.0 591.3 L1225.2 596.3 L1225.4 601.3 L1225.6 606.3 L1225.7 611.2 M1228.4 552.1 L1228.6 557.0 L1228.7 562.0 L1228.9 566.9 L1229.1 571.9 L1229.2 576.8 L1229.4 581.8 L1229.5 586.8 L1229.7 591.7 L1229.8 596.7 L1230.0 601.6 L1230.1 606.6 L1230.3 611.5 M1233.3 552.6 L1233.4 557.6 L1233.5 562.5 L1233.7 567.4 L1233.8 572.4 L1233.9 577.3 L1234.1 582.2 L1234.2 587.2 L1234.3 592.1 L1234.5 597.0 L1234.6 602.0 L1234.7 606.9 L1234.8 611.8 M1238.1 553.2 L1238.2 558.1 L1238.3 563.0 L1238.4 567.9 L1238.5 572.9 L1238.6 577.8 L1238.7 582.7 L1238.8 587.6 L1239.0 592.5 L1239.1 597.4 L1239.2 602.3 L1239.3 607.2 L1239.4 612.1 M1242.9 553.9 L1243.0 558.7 L1243.1 563.6 L1243.1 568.5 L1243.2 573.4 L1243.3 578.2 L1243.4 583.1 L1243.5 588.0 L1243.6 592.9 L1243.7 597.7 L1243.7 602.6 L1243.8 607.5 L1243.9 612.4 M1247.6 554.5 L1247.7 559.4 L1247.8 564.2 L1247.8 569.0 L1247.9 573.9 L1248.0 578.7 L1248.0 583.6 L1248.1 588.4 L1248.2 593.2 L1248.2 598.1 L1248.3 602.9 L1248.4 607.8 L1248.4 612.6 M1252.4 555.2 L1252.4 560.0 L1252.5 564.8 L1252.5 569.6 L1252.6 574.4 L1252.6 579.2 L1252.7 584.0 L1252.7 588.8 L1252.8 593.6 L1252.8 598.4 L1252.9 603.2 L1252.9 608.0 L1253.0 612.8 M1257.1 555.9 L1257.1 560.7 L1257.1 565.4 L1257.2 570.2 L1257.2 575.0 L1257.2 579.7 L1257.3 584.5 L1257.3 589.3 L1257.3 594.0 L1257.4 598.8 L1257.4 603.5 L1257.4 608.3 L1257.5 613.1 M1261.7 556.7 L1261.7 561.4 L1261.8 566.1 L1261.8 570.8 L1261.8 575.5 L1261.8 580.3 L1261.8 585.0 L1261.9 589.7 L1261.9 594.4 L1261.9 599.1 L1261.9 603.8 L1262.0 608.6 L1262.0 613.3 M1266.3 557.5 L1266.3 562.1 L1266.4 566.8 L1266.4 571.5 L1266.4 576.1 L1266.4 580.8 L1266.4 585.5 L1266.4 590.1 L1266.4 594.8 L1266.5 599.5 L1266.5 604.1 L1266.5 608.8 L1266.5 613.5 M1270.9 558.3 L1270.9 562.9 L1270.9 567.5 L1270.9 572.1 L1271.0 576.7 L1271.0 581.4 L1271.0 586.0 L1271.0 590.6 L1271.0 595.2 L1271.0 599.8 L1271.0 604.4 L1271.0 609.1 L1271.0 613.7 M1275.5 559.1 L1275.5 563.7 L1275.5 568.2 L1275.5 572.8 L1275.5 577.4 L1275.5 581.9 L1275.5 586.5 L1275.5 591.0 L1275.5 595.6 L1275.5 600.2 L1275.5 604.7 L1275.5 609.3 L1275.5 613.8 M1280.0 560.0 L1280.0 564.5 L1280.0 569.0 L1280.0 573.5 L1280.0 578.0 L1280.0 582.5 L1280.0 587.0 L1280.0 591.5 L1280.0 596.0 L1280.0 600.5 L1280.0 605.0 L1280.0 609.5 L1280.0 614.0 M1080.0 548.0 L1097.5 547.4 L1115.0 547.0 L1132.3 546.9 L1149.6 547.1 L1166.8 547.6 L1183.8 548.4 L1200.5 549.5 L1217.0 550.9 L1233.3 552.6 L1249.2 554.7 L1264.8 557.2 L1280.0 560.0 M1081.0 553.2 L1098.5 552.8 L1115.9 552.6 L1133.2 552.7 L1150.4 553.0 L1167.4 553.6 L1184.2 554.4 L1200.9 555.5 L1217.3 556.9 L1233.4 558.6 L1249.3 560.5 L1264.8 562.8 L1280.0 565.4 M1082.0 558.4 L1099.5 558.2 L1116.8 558.2 L1134.0 558.4 L1151.1 558.9 L1168.0 559.5 L1184.8 560.4 L1201.3 561.5 L1217.6 562.9 L1233.6 564.5 L1249.4 566.3 L1264.8 568.4 L1280.0 570.8 M1083.0 563.6 L1100.4 563.6 L1117.7 563.8 L1134.9 564.2 L1151.9 564.7 L1168.6 565.5 L1185.2 566.4 L1201.6 567.5 L1217.8 568.9 L1233.8 570.4 L1249.4 572.1 L1264.9 574.1 L1280.0 576.2 M1084.0 568.8 L1101.4 569.0 L1118.7 569.4 L1135.7 569.9 L1152.6 570.6 L1169.3 571.4 L1185.8 572.4 L1202.0 573.6 L1218.1 574.9 L1233.9 576.3 L1249.5 577.9 L1264.9 579.7 L1280.0 581.6 M1085.0 574.0 L1102.4 574.4 L1119.6 575.0 L1136.6 575.7 L1153.3 576.5 L1169.9 577.4 L1186.2 578.4 L1202.4 579.6 L1218.3 580.9 L1234.1 582.2 L1249.6 583.7 L1264.9 585.3 L1280.0 587.0 M1086.0 579.2 L1103.4 579.8 L1120.5 580.6 L1137.4 581.4 L1154.1 582.4 L1170.5 583.4 L1186.8 584.5 L1202.8 585.6 L1218.6 586.8 L1234.2 588.1 L1249.7 589.5 L1264.9 590.9 L1280.0 592.4 M1087.0 584.4 L1104.4 585.3 L1121.4 586.2 L1138.2 587.2 L1154.8 588.2 L1171.1 589.3 L1187.2 590.5 L1203.1 591.6 L1218.9 592.8 L1234.4 594.1 L1249.7 595.3 L1264.9 596.5 L1280.0 597.8 M1088.0 589.6 L1105.3 590.7 L1122.4 591.8 L1139.1 592.9 L1155.6 594.1 L1171.8 595.3 L1187.8 596.5 L1203.5 597.7 L1219.1 598.8 L1234.5 600.0 L1249.8 601.1 L1265.0 602.2 L1280.0 603.2 M1089.0 594.8 L1106.3 596.1 L1123.3 597.4 L1139.9 598.7 L1156.3 600.0 L1172.4 601.2 L1188.2 602.5 L1203.9 603.7 L1219.4 604.8 L1234.7 605.9 L1249.9 606.9 L1265.0 607.8 L1280.0 608.6 M1090.0 600.0 L1107.3 601.5 L1124.2 603.0 L1140.8 604.4 L1157.0 605.9 L1173.0 607.2 L1188.8 608.5 L1204.3 609.7 L1219.6 610.8 L1234.8 611.8 L1250.0 612.7 L1265.0 613.4 L1280.0 614.0" fill="none" stroke="#e6e6e6" stroke-width="0.8" opacity="0.55"/>
<path d="M1186 614 L1276 614 L1276 700 C 1262 690, 1245 670, 1230 650 C 1215 630, 1200 620, 1186 614 Z" fill="#080808" opacity="0.8"/>
<path d="M1190.0 614.0 L1200.0 623.0 L1210.0 632.0 L1220.0 641.0 L1230.0 650.0 M1198.6 614.0 L1207.6 624.2 L1216.6 634.5 L1225.6 644.8 L1234.6 655.0 M1207.2 614.0 L1215.2 625.5 L1223.2 637.0 L1231.2 648.5 L1239.2 660.0 M1215.8 614.0 L1222.8 626.8 L1229.8 639.5 L1236.8 652.3 L1243.8 665.0 M1224.4 614.0 L1230.4 628.0 L1236.4 642.0 L1242.4 656.0 L1248.4 670.0 M1233.0 614.0 L1238.0 629.2 L1243.0 644.5 L1248.0 659.8 L1253.0 675.0 M1241.6 614.0 L1245.6 630.5 L1249.6 647.0 L1253.6 663.5 L1257.6 680.0 M1250.2 614.0 L1253.2 631.8 L1256.2 649.5 L1259.2 667.2 L1262.2 685.0 M1258.8 614.0 L1260.8 633.0 L1262.8 652.0 L1264.8 671.0 L1266.8 690.0 M1267.4 614.0 L1268.4 634.2 L1269.4 654.5 L1270.4 674.8 L1271.4 695.0 M1276.0 614.0 L1276.0 635.5 L1276.0 657.0 L1276.0 678.5 L1276.0 700.0 M1190.0 614.0 L1211.5 614.0 L1233.0 614.0 L1254.5 614.0 L1276.0 614.0 M1196.7 620.0 L1216.5 622.1 L1236.3 624.2 L1256.2 626.2 L1276.0 628.3 M1203.3 626.0 L1221.5 630.2 L1239.7 634.3 L1257.8 638.5 L1276.0 642.7 M1210.0 632.0 L1226.5 638.2 L1243.0 644.5 L1259.5 650.8 L1276.0 657.0 M1216.7 638.0 L1231.5 646.3 L1246.3 654.7 L1261.2 663.0 L1276.0 671.3 M1223.3 644.0 L1236.5 654.4 L1249.7 664.8 L1262.8 675.2 L1276.0 685.7 M1230.0 650.0 L1241.5 662.5 L1253.0 675.0 L1264.5 687.5 L1276.0 700.0" fill="none" stroke="#d0d0d0" stroke-width="0.8" opacity="0.5"/>
<path d="M1186 613.6 L1276 613.6 M1115 644.8 L1276 644.8" stroke="#eeeeee" stroke-width="1.3" opacity="0.85"/>
<path d="M1150 620 C 1180 650, 1200 690, 1230 720 C 1250 740, 1265 750, 1276 752" fill="none" stroke="#e0e0e0" stroke-width="1.6" opacity="0.75"/>
<path d="M1040 560 C 1120 555, 1200 560, 1276 575" fill="none" stroke="#e8e8e8" stroke-width="1.3" opacity="0.7"/>
<path d="M884 640 C 884 615, 895 600, 912 599 C 940 594, 970 588, 995 582 C 1005 570, 1015 562, 1025 556 C 1032 553, 1045 552.3, 1060 552.3 L 1090 552.3 C 1100 580, 1100 620, 1090 660 L 1062 700 L 1020 772.8 C 1015 755, 1010 745, 1000 738 C 960 722, 930 710, 897 696 C 888 685, 884 665, 884 640 Z" fill="url(#graybody)" mask="url(#bodymask)"/>
<path d="M914 605 C 935 602, 960 600, 985 598 L 988 680 C 960 684, 935 682, 920 678 Z" fill="#b6b7ba" opacity="0.35"/>
<path d="M953 609.5 L 996 609 C 998 611, 998 614, 997 616.5 L 958 614 Z" fill="#6e6f72" opacity="0.85"/>
<path d="M905 682 C 930 690, 960 694, 985 690" fill="none" stroke="#e2e3e5" stroke-width="2" opacity="0.7"/>
<path d="M900 690 C 930 700, 965 712, 1000 722" fill="none" stroke="#8a8b8d" stroke-width="2" opacity="0.6"/>
<ellipse cx="886.5" cy="660" rx="5" ry="27" fill="#141414" stroke="#d6d7d9" stroke-width="2"/>
<ellipse cx="1050" cy="716" rx="37" ry="60" fill="#d0d0d2"/>
<ellipse cx="1050" cy="716" rx="37" ry="60" fill="none" stroke="#8c8c8e" stroke-width="1"/>
<ellipse cx="1057" cy="716" rx="28" ry="51" fill="#040404"/>
<ellipse cx="1057" cy="716" rx="28" ry="51" fill="#9a9a9a" mask="url(#meshG)" opacity="0.12"/>
<rect x="1028" y="670" width="4" height="4" fill="#f0f0f0" opacity="0.8"/>
<rect x="1020" y="698" width="4" height="4" fill="#f0f0f0" opacity="0.8"/>
<rect x="1018" y="733" width="4" height="4" fill="#f0f0f0" opacity="0.8"/>
<rect x="1048" y="660" width="4" height="4" fill="#f0f0f0" opacity="0.8"/>
<rect x="1080" y="688" width="4" height="4" fill="#f0f0f0" opacity="0.8"/>
<path d="M880 720 C 890 740, 905 760, 915 772.8 L 880 772.8 Z" fill="#1c1c1c" opacity="0.8"/>
<path d="M880 600 C 900 580, 930 565, 975 552.3" fill="none" stroke="#6a6a6a" stroke-width="1" opacity="0.7"/></g>
<g transform="translate(295.3,523.8)"><use href="#tools"/></g>
<g transform="translate(831.6,524.6)"><use href="#tools"/></g>
<path d="M617 990.5 L1035 990.5 Q1040 991 1041 996 L1043 1019 Q1042 1025 1036 1025 L614 1025 Q608 1025 607.5 1019 L612 996 Q613 991 617 990.5 Z" fill="#1b1c20"/>
<rect x="617.0" y="992.8" width="15.5" height="3" rx="0.6" fill="#3b3e45"/>
<rect x="635.6" y="992.8" width="15.5" height="3" rx="0.6" fill="#3b3e45"/>
<rect x="654.2" y="992.8" width="15.5" height="3" rx="0.6" fill="#3b3e45"/>
<rect x="672.8" y="992.8" width="15.5" height="3" rx="0.6" fill="#3b3e45"/>
<rect x="691.4" y="992.8" width="15.5" height="3" rx="0.6" fill="#3b3e45"/>
<rect x="710.0" y="992.8" width="15.5" height="3" rx="0.6" fill="#3b3e45"/>
<rect x="728.6" y="992.8" width="15.5" height="3" rx="0.6" fill="#3b3e45"/>
<rect x="747.2" y="992.8" width="15.5" height="3" rx="0.6" fill="#3b3e45"/>
<rect x="765.8" y="992.8" width="15.5" height="3" rx="0.6" fill="#3b3e45"/>
<rect x="784.4" y="992.8" width="15.5" height="3" rx="0.6" fill="#3b3e45"/>
<rect x="803.0" y="992.8" width="15.5" height="3" rx="0.6" fill="#3b3e45"/>
<rect x="821.6" y="992.8" width="15.5" height="3" rx="0.6" fill="#3b3e45"/>
<rect x="840.2" y="992.8" width="15.5" height="3" rx="0.6" fill="#3b3e45"/>
<rect x="858.8" y="992.8" width="15.5" height="3" rx="0.6" fill="#3b3e45"/>
<rect x="877.4" y="992.8" width="15.5" height="3" rx="0.6" fill="#3b3e45"/>
<rect x="896.0" y="992.8" width="15.5" height="3" rx="0.6" fill="#3b3e45"/>
<rect x="912" y="992.8" width="15" height="3" rx="0.6" fill="#3b3e45"/>
<rect x="930" y="992.8" width="15" height="3" rx="0.6" fill="#3b3e45"/>
<rect x="948" y="992.8" width="15" height="3" rx="0.6" fill="#3b3e45"/>
<rect x="972" y="992.8" width="13.5" height="3" rx="0.6" fill="#3b3e45"/>
<rect x="988" y="992.8" width="13.5" height="3" rx="0.6" fill="#3b3e45"/>
<rect x="1004" y="992.8" width="13.5" height="3" rx="0.6" fill="#3b3e45"/>
<rect x="1020" y="992.8" width="13.5" height="3" rx="0.6" fill="#3b3e45"/>
<rect x="620.0" y="996.8" width="15.5" height="3" rx="0.6" fill="#3b3e45"/>
<rect x="638.6" y="996.8" width="15.5" height="3" rx="0.6" fill="#3b3e45"/>
<rect x="657.2" y="996.8" width="15.5" height="3" rx="0.6" fill="#3b3e45"/>
<rect x="675.8" y="996.8" width="15.5" height="3" rx="0.6" fill="#3b3e45"/>
<rect x="694.4" y="996.8" width="15.5" height="3" rx="0.6" fill="#3b3e45"/>
<rect x="713.0" y="996.8" width="15.5" height="3" rx="0.6" fill="#3b3e45"/>
<rect x="731.6" y="996.8" width="15.5" height="3" rx="0.6" fill="#3b3e45"/>
<rect x="750.2" y="996.8" width="15.5" height="3" rx="0.6" fill="#3b3e45"/>
<rect x="768.8" y="996.8" width="15.5" height="3" rx="0.6" fill="#3b3e45"/>
<rect x="787.4" y="996.8" width="15.5" height="3" rx="0.6" fill="#3b3e45"/>
<rect x="806.0" y="996.8" width="15.5" height="3" rx="0.6" fill="#3b3e45"/>
<rect x="824.6" y="996.8" width="15.5" height="3" rx="0.6" fill="#3b3e45"/>
<rect x="843.2" y="996.8" width="15.5" height="3" rx="0.6" fill="#3b3e45"/>
<rect x="861.8" y="996.8" width="15.5" height="3" rx="0.6" fill="#3b3e45"/>
<rect x="880.4" y="996.8" width="15.5" height="3" rx="0.6" fill="#3b3e45"/>
<rect x="912" y="996.8" width="15" height="3" rx="0.6" fill="#3b3e45"/>
<rect x="930" y="996.8" width="15" height="3" rx="0.6" fill="#3b3e45"/>
<rect x="948" y="996.8" width="15" height="3" rx="0.6" fill="#3b3e45"/>
<rect x="972" y="996.8" width="13.5" height="3" rx="0.6" fill="#3b3e45"/>
<rect x="988" y="996.8" width="13.5" height="3" rx="0.6" fill="#3b3e45"/>
<rect x="1004" y="996.8" width="13.5" height="3" rx="0.6" fill="#3b3e45"/>
<rect x="1020" y="996.8" width="13.5" height="3" rx="0.6" fill="#3b3e45"/>
<rect x="622.0" y="1000.8" width="15.5" height="3" rx="0.6" fill="#3b3e45"/>
<rect x="640.6" y="1000.8" width="15.5" height="3" rx="0.6" fill="#3b3e45"/>
<rect x="659.2" y="1000.8" width="15.5" height="3" rx="0.6" fill="#3b3e45"/>
<rect x="677.8" y="1000.8" width="15.5" height="3" rx="0.6" fill="#3b3e45"/>
<rect x="696.4" y="1000.8" width="15.5" height="3" rx="0.6" fill="#3b3e45"/>
<rect x="715.0" y="1000.8" width="15.5" height="3" rx="0.6" fill="#3b3e45"/>
<rect x="733.6" y="1000.8" width="15.5" height="3" rx="0.6" fill="#3b3e45"/>
<rect x="752.2" y="1000.8" width="15.5" height="3" rx="0.6" fill="#3b3e45"/>
<rect x="770.8" y="1000.8" width="15.5" height="3" rx="0.6" fill="#3b3e45"/>
<rect x="789.4" y="1000.8" width="15.5" height="3" rx="0.6" fill="#3b3e45"/>
<rect x="808.0" y="1000.8" width="15.5" height="3" rx="0.6" fill="#3b3e45"/>
<rect x="826.6" y="1000.8" width="15.5" height="3" rx="0.6" fill="#3b3e45"/>
<rect x="845.2" y="1000.8" width="15.5" height="3" rx="0.6" fill="#3b3e45"/>
<rect x="863.8" y="1000.8" width="15.5" height="3" rx="0.6" fill="#3b3e45"/>
<rect x="882.4" y="1000.8" width="15.5" height="3" rx="0.6" fill="#3b3e45"/>
<rect x="912" y="1000.8" width="15" height="3" rx="0.6" fill="#3b3e45"/>
<rect x="930" y="1000.8" width="15" height="3" rx="0.6" fill="#3b3e45"/>
<rect x="948" y="1000.8" width="15" height="3" rx="0.6" fill="#3b3e45"/>
<rect x="972" y="1000.8" width="13.5" height="3" rx="0.6" fill="#3b3e45"/>
<rect x="988" y="1000.8" width="13.5" height="3" rx="0.6" fill="#3b3e45"/>
<rect x="1004" y="1000.8" width="13.5" height="3" rx="0.6" fill="#3b3e45"/>
<rect x="1020" y="1000.8" width="13.5" height="3" rx="0.6" fill="#3b3e45"/>
<rect x="624.0" y="1004.8" width="15.5" height="3" rx="0.6" fill="#3b3e45"/>
<rect x="642.6" y="1004.8" width="15.5" height="3" rx="0.6" fill="#3b3e45"/>
<rect x="661.2" y="1004.8" width="15.5" height="3" rx="0.6" fill="#3b3e45"/>
<rect x="679.8" y="1004.8" width="15.5" height="3" rx="0.6" fill="#3b3e45"/>
<rect x="698.4" y="1004.8" width="15.5" height="3" rx="0.6" fill="#3b3e45"/>
<rect x="717.0" y="1004.8" width="15.5" height="3" rx="0.6" fill="#3b3e45"/>
<rect x="735.6" y="1004.8" width="15.5" height="3" rx="0.6" fill="#3b3e45"/>
<rect x="754.2" y="1004.8" width="15.5" height="3" rx="0.6" fill="#3b3e45"/>
<rect x="772.8" y="1004.8" width="15.5" height="3" rx="0.6" fill="#3b3e45"/>
<rect x="791.4" y="1004.8" width="15.5" height="3" rx="0.6" fill="#3b3e45"/>
<rect x="810.0" y="1004.8" width="15.5" height="3" rx="0.6" fill="#3b3e45"/>
<rect x="828.6" y="1004.8" width="15.5" height="3" rx="0.6" fill="#3b3e45"/>
<rect x="847.2" y="1004.8" width="15.5" height="3" rx="0.6" fill="#3b3e45"/>
<rect x="865.8" y="1004.8" width="15.5" height="3" rx="0.6" fill="#3b3e45"/>
<rect x="884.4" y="1004.8" width="15.5" height="3" rx="0.6" fill="#3b3e45"/>
<rect x="912" y="1004.8" width="15" height="3" rx="0.6" fill="#3b3e45"/>
<rect x="930" y="1004.8" width="15" height="3" rx="0.6" fill="#3b3e45"/>
<rect x="948" y="1004.8" width="15" height="3" rx="0.6" fill="#3b3e45"/>
<rect x="972" y="1004.8" width="13.5" height="3" rx="0.6" fill="#3b3e45"/>
<rect x="988" y="1004.8" width="13.5" height="3" rx="0.6" fill="#3b3e45"/>
<rect x="1004" y="1004.8" width="13.5" height="3" rx="0.6" fill="#3b3e45"/>
<rect x="1020" y="1004.8" width="13.5" height="3" rx="0.6" fill="#3b3e45"/>
<rect x="616.0" y="1008.9" width="15.5" height="3" rx="0.6" fill="#3b3e45"/>
<rect x="634.6" y="1008.9" width="15.5" height="3" rx="0.6" fill="#3b3e45"/>
<rect x="653.2" y="1008.9" width="15.5" height="3" rx="0.6" fill="#3b3e45"/>
<rect x="671.8" y="1008.9" width="15.5" height="3" rx="0.6" fill="#3b3e45"/>
<rect x="796.0" y="1008.9" width="15.5" height="3" rx="0.6" fill="#3b3e45"/>
<rect x="814.6" y="1008.9" width="15.5" height="3" rx="0.6" fill="#3b3e45"/>
<rect x="833.2" y="1008.9" width="15.5" height="3" rx="0.6" fill="#3b3e45"/>
<rect x="851.8" y="1008.9" width="15.5" height="3" rx="0.6" fill="#3b3e45"/>
<rect x="870.4" y="1008.9" width="15.5" height="3" rx="0.6" fill="#3b3e45"/>
<rect x="889.0" y="1008.9" width="15.5" height="3" rx="0.6" fill="#3b3e45"/>
<rect x="912" y="1008.9" width="15" height="3" rx="0.6" fill="#3b3e45"/>
<rect x="930" y="1008.9" width="15" height="3" rx="0.6" fill="#3b3e45"/>
<rect x="948" y="1008.9" width="15" height="3" rx="0.6" fill="#3b3e45"/>
<rect x="972" y="1008.9" width="13.5" height="3" rx="0.6" fill="#3b3e45"/>
<rect x="988" y="1008.9" width="13.5" height="3" rx="0.6" fill="#3b3e45"/>
<rect x="1004" y="1008.9" width="13.5" height="3" rx="0.6" fill="#3b3e45"/>
<rect x="1020" y="1008.9" width="13.5" height="3" rx="0.6" fill="#3b3e45"/>
<rect x="692" y="1008.9" width="99" height="3" rx="0.6" fill="#3b3e45"/>
<rect x="612" y="1014" width="428" height="1" fill="#2a2c31"/>
<path d="M1082 998 L1110 985 C 1125 980, 1145 981, 1160 990 C 1172 998, 1177 1010, 1174 1022 C 1160 1027.5, 1120 1027.5, 1100 1024 L 1091 1018 C 1085 1012, 1082 1005, 1082 998 Z" fill="#1d1e22"/>
<path d="M1082 998 L1110 985 C 1115 992, 1118 1005, 1120 1016 L 1100 1020 L 1091 1018 C 1085 1012, 1082 1005, 1082 998 Z" fill="#2c2e33"/>
<path d="M1112 988 C 1118 998, 1121 1008, 1120 1018" fill="none" stroke="#55585e" stroke-width="1.2"/>
<g transform="translate(350,852.5)" fill="#a4815c"><path fill-rule="evenodd" d="M0 0 H30.15 A23.35 23.35 0 0 1 30.15 46.7 H16.7 V38.2 H30.15 A14.75 14.75 0 0 0 30.15 8.7 H9.3 V46.7 H0 Z"/><path d="M17 14.9 H27 A8.1 8.1 0 0 1 27 31.1 H17 Z"/></g>
<g transform="translate(841.2,852.5)" fill="#a4815c"><path fill-rule="evenodd" d="M0 0 H30.15 A23.35 23.35 0 0 1 30.15 46.7 H16.7 V38.2 H30.15 A14.75 14.75 0 0 0 30.15 8.7 H9.3 V46.7 H0 Z"/><path d="M17 14.9 H27 A8.1 8.1 0 0 1 27 31.1 H17 Z"/></g>
<text x="751.2" y="929.3" font-family="Liberation Sans" font-size="23.8" fill="#9c8566" textLength="226.7" lengthAdjust="spacingAndGlyphs">DisplayPort  Daisy-chain</text>
</g>
</svg>
<svg class="a" style="left:0;top:0" width="1445" height="1445" viewBox="0 0 1445 1445">
  <g fill="none" stroke="#937a60" stroke-width="3.4" stroke-linejoin="miter">
    <path d="M144.4 1188.2 H280.1 V1217 L263 1230.7 H161.8 L144.4 1217 Z"/>
    <path d="M371.7 1188.1 H507.3 V1230.9 H389.3 L371.7 1217 Z"/>
    <path d="M611.7 1188.1 H747.3 V1230.9 H629.3 L611.7 1217 Z"/>
    <rect x="997.1" y="1182.9" width="90" height="44.6"/>
  </g>
  <g fill="#937a60">
    <rect x="168.2" y="1205" width="88.3" height="3"/>
    <rect x="170.00" y="1200.3" width="3.5" height="5"/><rect x="179.47" y="1200.3" width="3.5" height="5"/><rect x="188.94" y="1200.3" width="3.5" height="5"/><rect x="198.41" y="1200.3" width="3.5" height="5"/><rect x="207.88" y="1200.3" width="3.5" height="5"/><rect x="217.35" y="1200.3" width="3.5" height="5"/><rect x="226.82" y="1200.3" width="3.5" height="5"/><rect x="236.29" y="1200.3" width="3.5" height="5"/><rect x="245.76" y="1200.3" width="3.5" height="5"/>
    <rect x="173.90" y="1207.5" width="3.5" height="5.6"/><rect x="183.40" y="1207.5" width="3.5" height="5.6"/><rect x="192.90" y="1207.5" width="3.5" height="5.6"/><rect x="202.40" y="1207.5" width="3.5" height="5.6"/><rect x="211.90" y="1207.5" width="3.5" height="5.6"/><rect x="221.40" y="1207.5" width="3.5" height="5.6"/><rect x="230.90" y="1207.5" width="3.5" height="5.6"/><rect x="240.40" y="1207.5" width="3.5" height="5.6"/><rect x="249.90" y="1207.5" width="3.5" height="5.6"/>
    <path d="M397.9 1204.9 H490 V1213.2 H486.7 V1208.6 H401.2 V1213.2 H397.9 Z"/>
    <path d="M637.9 1204.9 H730 V1213.2 H726.7 V1208.6 H641.2 V1213.2 H637.9 Z"/>
    <rect x="1011.7" y="1203" width="6" height="5.6"/><rect x="1031.2" y="1203" width="6" height="5.6"/><rect x="1050.6" y="1203" width="6" height="5.6"/><rect x="1070.2" y="1203" width="6" height="5.6"/>
    <path d="M1192 1201.1 L1197.8 1231.8 C 1190 1231, 1184.1 1226, 1184.1 1219 C 1184.1 1210, 1187 1203, 1192 1201.1 Z"/>
    <path d="M1268.3 1201.1 L1262.5 1231.8 C 1270.3 1231, 1276.2 1226, 1276.2 1219 C 1276.2 1210, 1273.3 1203, 1268.3 1201.1 Z"/>
  </g>
  <g fill="none" stroke="#937a60">
    <rect x="854.4" y="1199.6" width="61.6" height="21.2" rx="10.6" stroke-width="3.1"/>
    <line x1="870.8" y1="1210.6" x2="898.8" y2="1210.6" stroke-width="3" stroke-linecap="round"/>
    <line x1="1009.6" y1="1194.7" x2="1077.4" y2="1194.7" stroke-width="4.5" stroke-linecap="round"/>
    <line x1="1009.6" y1="1217.6" x2="1077.4" y2="1217.6" stroke-width="4.5" stroke-linecap="round"/>
    <path d="M1206 1227.5 C 1203.5 1215, 1201.6 1205, 1201.8 1197 C 1202.2 1179, 1214 1167, 1230.2 1167 C 1246.4 1167, 1258.2 1179, 1258.6 1197 C 1258.8 1205, 1257 1215, 1254.4 1227.5" stroke-width="8.2" stroke-linecap="round"/>
  </g>
</svg>

<div class="t lb" style="left:174.7px;top:1253.5px;font-size:34.5px;transform:scaleX(0.936)">HDMI</div>
<div class="t lb" style="left:333.3px;top:1254.8px;font-size:32.5px;transform:scaleX(0.962)">DisplayPort (In)</div>
<div class="t lb" style="left:602.7px;top:1254.8px;font-size:32.6px;transform:scaleX(0.972)">DisplayPort</div>
<div class="t lb" style="left:611.0px;top:1296.1px;font-size:32.2px;transform:scaleX(0.923)">(Out, MST)</div>
<div class="t lb" style="left:844.7px;top:1253.6px;font-size:33.8px;transform:scaleX(0.833)">USB-C</div>
<div class="t lb" style="left:981.6px;top:1253.3px;font-size:33.8px;transform:scaleX(0.895)">USB hub</div>
<div class="t lb" style="left:1165.7px;top:1253.3px;font-size:34.2px;transform:scaleX(0.928)">Earphone</div>
<div class="t lb" style="left:1204.1px;top:1295.2px;font-size:34.1px;transform:scaleX(0.850)">Jack</div>

</body></html>
